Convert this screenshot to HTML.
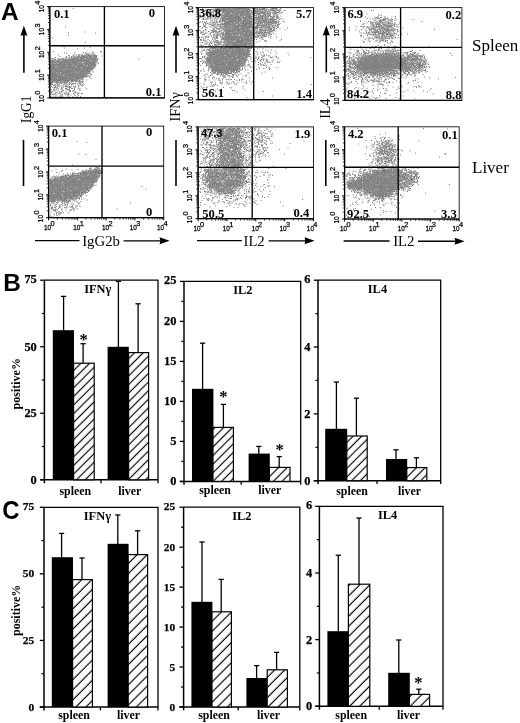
<!DOCTYPE html>
<html lang="en"><head><meta charset="utf-8"><title>Figure</title>
<style>html,body{margin:0;padding:0;background:#fff}svg{display:block}</style></head>
<body>
<svg width="520" height="723" viewBox="0 0 520 723">
<rect width="520" height="723" fill="#fff"/>
<g>
<path transform="scale(0.5)" d="M145 17h2m-17 37h2m37 10h2m-35 1h2m52 1h2m-56 4h2m-34 6h2m64 9h2m-47 8h2m52 2h2m-53 1h2m38 0h2m-16 2h2m-50 5h2m92 0h2m-18 1h2m16 0h2m-55 1h2m15 0h2m3 0h2m13 0h2m-60 1h2m2 0h2m45 0h2m-12 1h2m2 0h2m-27 1h2m23 0h2m1 0h2m1 0h2m3 0h2m1 0h2m-36 1h2m2 0h2m5 0h2m5 0h2m0 0h2m0 0h2m0 0h2m4 0h2m2 0h2m-73 1h2m27 0h2m9 0h2m3 0h2m0 0h3m5 0h2m0 0h2m7 0h3m3 0h3m-55 1h3m7 0h2m10 0h2m2 0h2m3 0h2m0 0h3m3 0h3m0 0h5m0 0h2m0 0h2m1 0h2m0 0h3m0 0h2m-46 1h2m1 0h3m3 0h2m3 0h3m1 0h3m0 0h2m1 0h3m0 0h2m1 0h2m0 0h2m3 0h5m0 0h2m10 0h2m-86 1h2m11 0h2m8 0h2m3 0h3m5 0h4m3 0h4m0 0h6m1 0h4m1 0h6m2 0h2m0 0h4m0 0h2m-63 1h3m4 0h2m3 0h3m1 0h3m2 0h5m2 0h5m0 0h2m0 0h4m0 0h3m0 0h2m0 0h2m1 0h2m2 0h6m1 0h2m-81 1h2m24 0h2m11 0h3m4 0h3m1 0h5m0 0h4m0 0h3m0 0h3m0 0h2m1 0h5m0 0h2m4 0h3m0 0h2m-65 1h2m1 0h2m5 0h6m0 0h4m0 0h3m0 0h3m0 0h3m0 0h2m0 0h6m2 0h3m1 0h4m1 0h2m1 0h3m0 0h2m0 0h3m1 0h2m-88 1h2m2 0h2m7 0h2m6 0h3m15 0h2m1 0h3m0 0h2m2 0h3m1 0h2m2 0h2m0 0h7m3 0h4m1 0h2m1 0h3m0 0h2m0 0h3m0 0h3m0 0h2m2 0h2m-96 1h2m0 0h2m2 0h2m2 0h2m2 0h4m1 0h2m0 0h3m0 0h3m2 0h2m1 0h3m1 0h3m0 0h2m3 0h2m3 0h2m1 0h3m3 0h2m2 0h4m1 0h2m2 0h3m0 0h3m0 0h2m1 0h3m0 0h2m0 0h2m2 0h2m0 0h3m82 0h2m-170 1h3m6 0h2m0 0h3m1 0h3m0 0h3m3 0h3m0 0h2m0 0h6m0 0h2m0 0h8m0 0h3m0 0h2m1 0h5m1 0h3m0 0h6m1 0h5m1 0h2m0 0h4m0 0h2m0 0h2m2 0h2m-91 1h2m0 0h2m7 0h3m5 0h2m1 0h2m1 0h5m1 0h4m1 0h2m1 0h3m0 0h3m0 0h2m0 0h6m0 0h2m0 0h3m0 0h2m0 0h2m1 0h2m0 0h2m0 0h3m1 0h4m0 0h5m2 0h6m-90 1h3m0 0h3m2 0h2m0 0h5m0 0h2m3 0h2m0 0h3m0 0h4m0 0h3m1 0h2m1 0h2m0 0h3m0 0h5m2 0h2m0 0h12m0 0h5m0 0h4m0 0h4m0 0h3m2 0h2m0 0h2m1 0h3m0 0h2m0 0h3m-95 1h3m0 0h3m0 0h2m1 0h3m0 0h2m1 0h2m0 0h4m3 0h2m0 0h6m0 0h4m1 0h4m2 0h3m0 0h6m0 0h8m0 0h2m2 0h5m0 0h4m0 0h5m1 0h3m0 0h2m1 0h2m0 0h3m1 0h2m-92 1h2m0 0h2m0 0h3m0 0h2m3 0h5m2 0h3m0 0h2m1 0h2m0 0h3m0 0h2m1 0h4m1 0h3m0 0h3m0 0h2m1 0h2m0 0h6m0 0h3m0 0h3m0 0h6m1 0h2m0 0h6m3 0h2m1 0h3m0 0h2m2 0h2m-92 1h4m0 0h2m0 0h4m1 0h6m1 0h3m0 0h4m0 0h4m0 0h2m0 0h3m2 0h4m1 0h2m0 0h2m0 0h3m0 0h8m2 0h2m0 0h3m5 0h4m0 0h8m0 0h2m2 0h7m-91 1h3m0 0h2m2 0h6m0 0h2m2 0h2m0 0h3m1 0h2m0 0h3m0 0h2m0 0h5m0 0h2m0 0h3m0 0h2m1 0h8m0 0h2m1 0h2m0 0h2m3 0h2m4 0h2m1 0h4m0 0h3m0 0h2m0 0h4m0 0h2m0 0h4m1 0h2m1 0h2m-93 1h4m0 0h2m1 0h4m0 0h2m0 0h4m0 0h2m1 0h3m0 0h5m0 0h2m1 0h4m0 0h4m1 0h13m3 0h6m1 0h4m0 0h3m0 0h6m0 0h4m3 0h3m0 0h2m0 0h2m-89 1h4m3 0h2m2 0h2m1 0h6m0 0h3m1 0h3m0 0h2m0 0h2m0 0h2m1 0h3m1 0h3m0 0h2m0 0h2m0 0h2m0 0h4m1 0h4m0 0h2m1 0h2m0 0h4m0 0h2m0 0h3m0 0h3m1 0h3m0 0h2m0 0h6m7 0h2m-96 1h4m1 0h3m5 0h2m1 0h4m0 0h2m0 0h2m0 0h2m0 0h2m0 0h2m1 0h3m1 0h4m1 0h2m0 0h2m0 0h3m0 0h2m6 0h4m2 0h2m1 0h4m1 0h2m0 0h2m1 0h2m0 0h2m0 0h7m1 0h2m0 0h2m-91 1h2m0 0h5m0 0h4m0 0h8m0 0h7m0 0h3m0 0h5m1 0h3m0 0h4m0 0h2m2 0h4m0 0h4m0 0h2m1 0h2m0 0h6m3 0h2m0 0h2m0 0h7m1 0h3m0 0h4m0 0h5m-92 1h6m0 0h3m0 0h2m0 0h4m0 0h2m1 0h3m0 0h11m0 0h6m0 0h5m1 0h3m1 0h4m0 0h2m0 0h5m0 0h3m0 0h3m3 0h2m1 0h4m0 0h8m1 0h4m0 0h2m-90 1h4m1 0h5m2 0h2m0 0h3m0 0h2m0 0h3m1 0h5m0 0h2m4 0h3m0 0h2m0 0h4m3 0h2m0 0h2m0 0h2m1 0h7m0 0h4m0 0h2m0 0h6m3 0h3m1 0h2m0 0h4m1 0h3m-87 1h2m4 0h2m0 0h2m0 0h5m0 0h3m0 0h5m0 0h9m0 0h2m0 0h2m2 0h5m0 0h2m0 0h2m1 0h2m0 0h4m1 0h2m2 0h6m1 0h3m0 0h2m1 0h5m1 0h3m1 0h2m0 0h2m0 0h3m-91 1h9m6 0h3m0 0h2m1 0h2m1 0h8m2 0h4m2 0h3m0 0h2m0 0h3m5 0h2m0 0h6m0 0h2m0 0h5m0 0h2m2 0h2m0 0h4m0 0h5m1 0h2m2 0h2m-90 1h6m0 0h4m0 0h3m0 0h4m2 0h5m2 0h6m0 0h7m0 0h10m0 0h5m1 0h2m0 0h2m0 0h3m0 0h10m4 0h3m3 0h3m2 0h3m-87 1h7m1 0h3m0 0h2m0 0h3m0 0h2m0 0h8m1 0h7m0 0h6m0 0h7m0 0h11m2 0h7m0 0h3m0 0h7m1 0h5m0 0h2m-88 1h2m0 0h3m4 0h10m0 0h2m0 0h2m0 0h2m0 0h2m0 0h5m0 0h3m0 0h3m0 0h2m1 0h2m1 0h2m0 0h4m2 0h3m0 0h6m3 0h3m0 0h2m0 0h2m0 0h2m1 0h6m0 0h2m1 0h2m0 0h2m-87 1h11m1 0h3m3 0h3m1 0h3m0 0h5m0 0h2m3 0h3m0 0h4m0 0h3m1 0h5m0 0h3m0 0h2m1 0h4m1 0h3m2 0h3m0 0h2m0 0h3m0 0h4m0 0h4m0 0h2m1 0h2m-88 1h3m1 0h2m0 0h3m5 0h2m0 0h3m0 0h3m0 0h5m0 0h7m0 0h2m0 0h6m1 0h4m4 0h4m1 0h4m1 0h2m0 0h4m2 0h2m2 0h2m0 0h3m0 0h2m1 0h2m0 0h2m-84 1h3m0 0h3m0 0h2m0 0h2m0 0h4m0 0h4m1 0h5m1 0h2m2 0h3m1 0h3m0 0h3m0 0h2m1 0h5m0 0h5m0 0h11m0 0h3m0 0h8m0 0h3m0 0h2m0 0h3m0 0h2m-84 1h2m0 0h3m0 0h4m0 0h5m0 0h4m0 0h4m0 0h2m0 0h3m2 0h2m0 0h2m0 0h4m1 0h3m0 0h10m0 0h3m0 0h3m1 0h8m0 0h6m1 0h2m0 0h3m0 0h4m-83 1h6m1 0h3m0 0h2m1 0h3m0 0h9m3 0h7m0 0h3m0 0h6m0 0h2m2 0h2m1 0h10m3 0h4m3 0h2m0 0h4m1 0h2m-79 1h4m1 0h2m1 0h2m0 0h2m1 0h2m0 0h4m0 0h2m0 0h2m0 0h2m0 0h6m0 0h4m0 0h3m2 0h2m1 0h3m0 0h3m0 0h3m0 0h2m0 0h3m0 0h4m1 0h3m0 0h2m0 0h2m0 0h3m0 0h3m0 0h2m6 0h2m-86 1h2m0 0h2m1 0h2m1 0h5m0 0h2m0 0h3m0 0h9m0 0h2m0 0h5m0 0h7m0 0h2m0 0h3m1 0h3m3 0h2m1 0h2m1 0h13m1 0h7m-80 1h4m0 0h2m0 0h4m2 0h2m0 0h2m0 0h4m2 0h3m0 0h4m1 0h3m1 0h2m1 0h2m0 0h3m0 0h2m0 0h6m0 0h2m0 0h4m0 0h2m2 0h7m2 0h4m1 0h2m1 0h4m3 0h2m-86 1h6m0 0h5m2 0h2m2 0h2m2 0h3m0 0h3m0 0h4m0 0h5m0 0h2m0 0h2m0 0h2m0 0h2m0 0h2m1 0h2m3 0h3m2 0h4m0 0h3m0 0h3m1 0h5m1 0h2m-76 1h2m0 0h2m1 0h3m1 0h8m3 0h4m1 0h3m0 0h2m0 0h5m0 0h5m1 0h3m0 0h3m0 0h2m0 0h4m1 0h2m1 0h3m4 0h2m1 0h4m2 0h3m0 0h2m0 0h2m-80 1h9m0 0h3m1 0h3m0 0h3m1 0h2m0 0h2m0 0h4m0 0h3m0 0h3m1 0h2m0 0h3m1 0h4m1 0h2m0 0h4m1 0h2m0 0h2m1 0h4m1 0h3m0 0h3m0 0h3m0 0h4m0 0h3m-79 1h2m0 0h3m2 0h3m0 0h2m0 0h2m0 0h2m0 0h4m2 0h4m1 0h3m0 0h3m0 0h4m1 0h8m0 0h4m0 0h2m0 0h2m0 0h2m0 0h3m0 0h8m0 0h2m0 0h4m-73 1h2m0 0h5m0 0h4m0 0h2m2 0h3m2 0h6m3 0h5m0 0h7m0 0h7m1 0h6m0 0h3m0 0h7m0 0h2m3 0h4m6 0h3m-83 1h8m0 0h4m0 0h4m1 0h5m1 0h8m0 0h2m0 0h5m0 0h3m0 0h2m0 0h3m0 0h5m1 0h5m0 0h13m4 0h2m3 0h2m-81 1h7m0 0h2m0 0h3m0 0h3m1 0h3m0 0h5m3 0h4m1 0h3m0 0h6m0 0h2m0 0h3m0 0h7m0 0h8m0 0h3m0 0h2m1 0h4m0 0h2m-70 1h4m0 0h13m0 0h6m3 0h5m0 0h7m4 0h6m1 0h2m0 0h3m1 0h5m2 0h2m0 0h2m0 0h4m2 0h2m1 0h2m-80 1h4m0 0h5m0 0h5m0 0h3m0 0h4m1 0h2m0 0h2m0 0h2m0 0h7m1 0h2m0 0h2m1 0h4m0 0h2m0 0h4m1 0h2m0 0h4m0 0h2m0 0h9m1 0h2m1 0h2m3 0h2m-80 1h2m0 0h3m0 0h3m1 0h5m1 0h3m1 0h3m2 0h8m2 0h5m0 0h3m0 0h4m1 0h4m0 0h2m1 0h3m0 0h2m4 0h2m1 0h2m0 0h2m0 0h2m5 0h2m-78 1h2m0 0h3m0 0h6m0 0h3m0 0h8m0 0h3m0 0h4m0 0h4m2 0h4m0 0h2m1 0h5m0 0h7m0 0h3m1 0h2m0 0h2m0 0h4m-67 1h7m0 0h5m1 0h2m0 0h6m0 0h2m0 0h2m0 0h2m0 0h5m1 0h8m1 0h6m2 0h3m0 0h4m0 0h2m0 0h3m2 0h2m-66 1h4m1 0h4m0 0h4m3 0h5m0 0h8m0 0h14m2 0h2m2 0h6m0 0h2m0 0h3m1 0h2m17 0h2m-82 1h2m1 0h6m1 0h3m1 0h2m1 0h4m0 0h2m1 0h4m1 0h3m0 0h2m0 0h2m2 0h10m0 0h3m0 0h5m2 0h2m2 0h2m0 0h2m-66 1h8m0 0h3m0 0h2m0 0h8m0 0h2m0 0h5m0 0h5m2 0h3m0 0h2m0 0h2m0 0h3m0 0h2m0 0h3m1 0h3m0 0h2m6 0h4m-65 1h5m0 0h14m1 0h2m1 0h6m0 0h2m0 0h2m0 0h3m0 0h2m0 0h2m0 0h2m2 0h2m0 0h3m1 0h3m3 0h2m0 0h2m10 0h2m-71 1h2m0 0h6m0 0h2m1 0h9m0 0h2m1 0h4m0 0h4m0 0h3m0 0h4m1 0h5m0 0h3m1 0h4m3 0h2m-59 1h3m0 0h3m0 0h2m1 0h4m0 0h2m0 0h2m2 0h2m0 0h3m0 0h2m0 0h6m0 0h4m0 0h2m2 0h3m0 0h7m0 0h2m0 0h5m6 0h2m-64 1h3m1 0h3m0 0h2m1 0h2m0 0h4m2 0h2m5 0h3m1 0h3m0 0h2m0 0h2m4 0h5m3 0h5m2 0h4m0 0h4m1 0h2m-67 1h5m0 0h2m0 0h2m0 0h3m1 0h2m0 0h2m0 0h3m0 0h3m2 0h2m0 0h4m2 0h2m6 0h2m6 0h2m5 0h2m2 0h2m1 0h2m-65 1h3m0 0h2m5 0h3m1 0h2m4 0h6m1 0h3m2 0h2m3 0h2m19 0h2m3 0h2m-63 1h2m10 0h2m1 0h2m0 0h2m0 0h2m0 0h2m2 0h2m2 0h2m3 0h2m0 0h2m2 0h2m12 0h2m-58 1h4m8 0h3m5 0h2m6 0h2m2 0h2m4 0h2m3 0h3m0 0h2m1 0h2m5 0h2m2 0h2m-62 1h3m7 0h2m14 0h2m14 0h2m1 0h2m2 0h2m1 0h3m3 0h2m2 0h2m1 0h2m-67 1h2m0 0h4m2 0h2m3 0h3m0 0h2m8 0h2m2 0h2m5 0h2m3 0h2m15 0h2m-53 1h2m7 0h2m5 0h2m6 0h2m0 0h2m5 0h2m23 0h2m-62 1h2m0 0h2m12 0h2m6 0h2m23 0h3m3 0h3m-58 1h2m3 0h2m0 0h2m0 0h2m0 0h2m10 0h2m4 0h2m26 0h2m-64 1h2m6 0h2m7 0h2m4 0h2m2 0h3m0 0h3m3 0h2m1 0h2m3 0h2m2 0h2m4 0h2m-24 1h2m1 0h2m9 0h2m-46 1h2m2 0h2m0 0h2m2 0h2m6 0h2m1 0h2m11 0h2m0 0h2m7 0h2m-44 1h2m0 0h2m1 0h2m8 0h2m8 0h2m3 0h3m3 0h2m10 0h2m2 0h2m9 0h2m-57 1h2m5 0h3m5 0h2m0 0h2m8 0h4m2 0h2m7 0h2m-43 1h2m3 0h3m14 0h2m8 0h2m23 0h2m-74 1h2m3 0h2m1 0h2m1 0h2m17 0h2m1 0h3m0 0h2m9 0h2m-27 1h3m9 0h2m21 0h2m0 0h2m-54 1h2m14 0h2m0 0h2m10 0h2m0 0h2m5 0h2m-48 1h2m0 0h2m2 0h2m4 0h2m1 0h2m13 0h2m5 0h2m0 0h2m2 0h2m0 0h2m-27 1h2m0 0h2m15 0h2m-38 1h2m4 0h2m6 0h2m12 0h2m3 0h3m8 0h2m0 0h2m-50 1h2m9 0h2m6 0h2m4 0h2m24 0h2m-53 1h2m7 0h2m22 0h2m13 0h2m5 0h2m-50 1h2m4 0h2m2 0h2m7 0h2m1 0h2m3 0h2m8 0h2m8 0h2m4 0h2m0 0h2m-61 1h2m17 0h2m3 0h2m1 0h2m0 0h2m12 0h2m4 0h2m-53 1h2m0 0h2m2 0h2m12 0h2m11 0h2m-27 1h2m7 0h2m15 0h2m2 0h2m-8 1h2m12 0h2m5 0h2m-52 1h2m3 0h2m7 0h2m0 0h2m1 0h2m4 0h2m-32 1h2m14 0h2m3 0h2m13 0h2m6 0h2m6 0h2m5 0h2m-61 1h2m6 0h2m0 0h2m4 0h2m4 0h3m9 0h2" stroke="#818181" stroke-width="2" fill="none"/>
<rect x="49.8" y="6.6" width="114.7" height="91.3" fill="none" stroke="#111" stroke-width="0.9"/>
<line x1="49.8" y1="6.6" x2="49.8" y2="97.9" stroke="#000" stroke-width="1.3"/>
<line x1="49.8" y1="97.9" x2="164.5" y2="97.9" stroke="#000" stroke-width="1.2"/>
<line x1="104.4" y1="6.6" x2="104.4" y2="97.9" stroke="#000" stroke-width="1.35"/>
<line x1="49.8" y1="45.7" x2="164.5" y2="45.7" stroke="#000" stroke-width="1.35"/>
<line x1="47.2" y1="97.9" x2="49.8" y2="97.9" stroke="#000" stroke-width="1"/>
<line x1="47.9" y1="91.03" x2="49.8" y2="91.03" stroke="#111" stroke-width="0.8"/>
<line x1="47.9" y1="87.01" x2="49.8" y2="87.01" stroke="#111" stroke-width="0.8"/>
<line x1="47.9" y1="84.16" x2="49.8" y2="84.16" stroke="#111" stroke-width="0.8"/>
<line x1="47.9" y1="81.95" x2="49.8" y2="81.95" stroke="#111" stroke-width="0.8"/>
<line x1="47.9" y1="80.14" x2="49.8" y2="80.14" stroke="#111" stroke-width="0.8"/>
<line x1="47.9" y1="78.61" x2="49.8" y2="78.61" stroke="#111" stroke-width="0.8"/>
<line x1="47.9" y1="77.29" x2="49.8" y2="77.29" stroke="#111" stroke-width="0.8"/>
<line x1="47.9" y1="76.12" x2="49.8" y2="76.12" stroke="#111" stroke-width="0.8"/>
<g transform="translate(44 96.6) rotate(-90)">
<text transform="translate(-5.75 0) scale(0.82 1)" font-family='"Liberation Sans","DejaVu Sans",sans-serif' font-size="7.8" stroke="#000" stroke-width="0.25">10</text>
<text x="1.9" y="-4" font-family='"Liberation Sans","DejaVu Sans",sans-serif' font-size="7.4" stroke="#000" stroke-width="0.25">0</text>
</g>
<line x1="47.2" y1="75.08" x2="49.8" y2="75.08" stroke="#000" stroke-width="1"/>
<line x1="47.9" y1="68.2" x2="49.8" y2="68.2" stroke="#111" stroke-width="0.8"/>
<line x1="47.9" y1="64.18" x2="49.8" y2="64.18" stroke="#111" stroke-width="0.8"/>
<line x1="47.9" y1="61.33" x2="49.8" y2="61.33" stroke="#111" stroke-width="0.8"/>
<line x1="47.9" y1="59.12" x2="49.8" y2="59.12" stroke="#111" stroke-width="0.8"/>
<line x1="47.9" y1="57.31" x2="49.8" y2="57.31" stroke="#111" stroke-width="0.8"/>
<line x1="47.9" y1="55.79" x2="49.8" y2="55.79" stroke="#111" stroke-width="0.8"/>
<line x1="47.9" y1="54.46" x2="49.8" y2="54.46" stroke="#111" stroke-width="0.8"/>
<line x1="47.9" y1="53.29" x2="49.8" y2="53.29" stroke="#111" stroke-width="0.8"/>
<g transform="translate(44 75.08) rotate(-90)">
<text transform="translate(-5.75 0) scale(0.82 1)" font-family='"Liberation Sans","DejaVu Sans",sans-serif' font-size="7.8" stroke="#000" stroke-width="0.25">10</text>
<text x="1.9" y="-4" font-family='"Liberation Sans","DejaVu Sans",sans-serif' font-size="7.4" stroke="#000" stroke-width="0.25">1</text>
</g>
<line x1="47.2" y1="52.25" x2="49.8" y2="52.25" stroke="#000" stroke-width="1"/>
<line x1="47.9" y1="45.38" x2="49.8" y2="45.38" stroke="#111" stroke-width="0.8"/>
<line x1="47.9" y1="41.36" x2="49.8" y2="41.36" stroke="#111" stroke-width="0.8"/>
<line x1="47.9" y1="38.51" x2="49.8" y2="38.51" stroke="#111" stroke-width="0.8"/>
<line x1="47.9" y1="36.3" x2="49.8" y2="36.3" stroke="#111" stroke-width="0.8"/>
<line x1="47.9" y1="34.49" x2="49.8" y2="34.49" stroke="#111" stroke-width="0.8"/>
<line x1="47.9" y1="32.96" x2="49.8" y2="32.96" stroke="#111" stroke-width="0.8"/>
<line x1="47.9" y1="31.64" x2="49.8" y2="31.64" stroke="#111" stroke-width="0.8"/>
<line x1="47.9" y1="30.47" x2="49.8" y2="30.47" stroke="#111" stroke-width="0.8"/>
<g transform="translate(44 52.25) rotate(-90)">
<text transform="translate(-5.75 0) scale(0.82 1)" font-family='"Liberation Sans","DejaVu Sans",sans-serif' font-size="7.8" stroke="#000" stroke-width="0.25">10</text>
<text x="1.9" y="-4" font-family='"Liberation Sans","DejaVu Sans",sans-serif' font-size="7.4" stroke="#000" stroke-width="0.25">2</text>
</g>
<line x1="47.2" y1="29.42" x2="49.8" y2="29.42" stroke="#000" stroke-width="1"/>
<line x1="47.9" y1="22.55" x2="49.8" y2="22.55" stroke="#111" stroke-width="0.8"/>
<line x1="47.9" y1="18.53" x2="49.8" y2="18.53" stroke="#111" stroke-width="0.8"/>
<line x1="47.9" y1="15.68" x2="49.8" y2="15.68" stroke="#111" stroke-width="0.8"/>
<line x1="47.9" y1="13.47" x2="49.8" y2="13.47" stroke="#111" stroke-width="0.8"/>
<line x1="47.9" y1="11.66" x2="49.8" y2="11.66" stroke="#111" stroke-width="0.8"/>
<line x1="47.9" y1="10.14" x2="49.8" y2="10.14" stroke="#111" stroke-width="0.8"/>
<line x1="47.9" y1="8.81" x2="49.8" y2="8.81" stroke="#111" stroke-width="0.8"/>
<line x1="47.9" y1="7.64" x2="49.8" y2="7.64" stroke="#111" stroke-width="0.8"/>
<g transform="translate(44 29.42) rotate(-90)">
<text transform="translate(-5.75 0) scale(0.82 1)" font-family='"Liberation Sans","DejaVu Sans",sans-serif' font-size="7.8" stroke="#000" stroke-width="0.25">10</text>
<text x="1.9" y="-4" font-family='"Liberation Sans","DejaVu Sans",sans-serif' font-size="7.4" stroke="#000" stroke-width="0.25">3</text>
</g>
<line x1="47.2" y1="6.6" x2="49.8" y2="6.6" stroke="#000" stroke-width="1"/>
<g transform="translate(44 6.6) rotate(-90)">
<text transform="translate(-5.75 0) scale(0.82 1)" font-family='"Liberation Sans","DejaVu Sans",sans-serif' font-size="7.8" stroke="#000" stroke-width="0.25">10</text>
<text x="1.9" y="-4" font-family='"Liberation Sans","DejaVu Sans",sans-serif' font-size="7.4" stroke="#000" stroke-width="0.25">4</text>
</g>
<text x="53.9" y="17.8" font-family='"Liberation Serif","DejaVu Serif",serif' font-size="12.6" font-weight="bold" text-anchor="start" fill="#000">0.1</text>
<text x="155" y="16.5" font-family='"Liberation Serif","DejaVu Serif",serif' font-size="12.6" font-weight="bold" text-anchor="end" fill="#000">0</text>
<text x="161.5" y="95.6" font-family='"Liberation Serif","DejaVu Serif",serif' font-size="12.6" font-weight="bold" text-anchor="end" fill="#000">0.1</text>
</g>
<g>
<path transform="scale(0.5)" d="M153 283h2m18 2h2m-18 23h2m12 1h2m18 10h2m-49 11h2m35 4h2m10 0h2m-3 1h2m2 0h2m-9 1h2m0 0h2m0 0h2m2 0h2m-21 1h2m1 0h2m12 0h3m4 0h2m-73 1h2m48 0h2m6 0h2m3 0h4m1 0h2m-90 1h2m42 0h2m22 0h2m7 0h2m0 0h4m4 0h2m-57 1h2m24 0h2m1 0h2m4 0h3m2 0h2m1 0h2m0 0h2m1 0h3m0 0h3m2 0h2m3 0h2m-82 1h2m37 0h2m7 0h2m2 0h3m0 0h2m2 0h2m0 0h2m2 0h2m0 0h4m0 0h7m-99 1h2m61 0h2m3 0h5m1 0h2m0 0h2m0 0h3m0 0h2m0 0h2m0 0h2m0 0h2m1 0h2m0 0h4m2 0h3m-82 1h2m40 0h2m0 0h3m1 0h3m3 0h2m2 0h4m0 0h6m0 0h9m2 0h2m-40 1h2m4 0h2m3 0h2m5 0h5m1 0h3m0 0h5m0 0h3m3 0h2m0 0h2m-93 1h2m31 0h2m12 0h3m2 0h2m0 0h4m0 0h4m0 0h8m0 0h2m1 0h5m0 0h2m0 0h6m0 0h3m0 0h2m1 0h2m-89 1h2m26 0h2m9 0h2m3 0h2m1 0h3m0 0h2m1 0h2m2 0h4m0 0h3m0 0h2m4 0h10m0 0h5m-68 1h2m9 0h2m1 0h2m1 0h2m2 0h3m1 0h4m0 0h9m0 0h4m2 0h3m0 0h5m1 0h5m1 0h3m0 0h2m0 0h2m0 0h4m-78 1h2m12 0h2m2 0h2m3 0h4m1 0h4m2 0h4m0 0h2m0 0h7m0 0h2m0 0h4m0 0h3m0 0h2m1 0h2m0 0h2m0 0h2m0 0h2m0 0h2m0 0h2m-57 1h2m2 0h2m0 0h2m12 0h3m1 0h3m1 0h6m5 0h6m0 0h3m2 0h3m0 0h2m2 0h2m-70 1h3m2 0h4m3 0h2m1 0h2m0 0h2m2 0h2m1 0h2m0 0h2m0 0h3m0 0h2m0 0h5m2 0h2m0 0h2m0 0h2m0 0h2m0 0h2m0 0h2m0 0h9m0 0h4m1 0h3m1 0h2m-76 1h2m2 0h2m0 0h3m0 0h4m4 0h2m0 0h3m1 0h2m1 0h3m0 0h7m2 0h2m0 0h6m0 0h3m1 0h2m1 0h3m1 0h3m1 0h7m0 0h2m1 0h2m0 0h2m-92 1h2m2 0h2m2 0h2m3 0h2m15 0h4m5 0h5m2 0h5m0 0h2m1 0h2m0 0h5m0 0h3m3 0h6m0 0h2m0 0h10m0 0h2m1 0h2m-89 1h2m8 0h2m1 0h6m1 0h5m3 0h2m1 0h2m0 0h5m0 0h2m0 0h2m0 0h2m1 0h2m2 0h3m0 0h4m2 0h2m0 0h2m0 0h2m0 0h8m0 0h2m1 0h8m0 0h4m1 0h3m-97 1h3m0 0h3m0 0h2m3 0h2m5 0h6m1 0h3m4 0h5m0 0h4m0 0h3m4 0h3m2 0h3m1 0h5m0 0h2m0 0h14m0 0h2m0 0h3m0 0h5m0 0h8m-88 1h2m4 0h2m1 0h2m0 0h2m0 0h3m3 0h2m1 0h2m0 0h3m0 0h2m0 0h2m0 0h3m1 0h3m0 0h3m0 0h3m0 0h7m0 0h5m0 0h14m1 0h4m0 0h5m0 0h3m-91 1h2m6 0h4m0 0h2m1 0h2m3 0h3m0 0h4m0 0h2m0 0h5m1 0h3m0 0h2m0 0h13m0 0h3m0 0h2m0 0h10m0 0h2m0 0h13m0 0h2m1 0h7m0 0h2m-97 1h2m5 0h4m0 0h2m2 0h4m0 0h4m1 0h2m1 0h2m2 0h8m0 0h2m3 0h4m0 0h2m2 0h5m1 0h3m0 0h2m1 0h5m0 0h6m0 0h8m0 0h2m0 0h2m0 0h4m0 0h2m-94 1h3m0 0h3m1 0h4m2 0h2m4 0h4m0 0h2m0 0h2m0 0h2m1 0h3m1 0h6m2 0h2m0 0h2m0 0h4m1 0h3m0 0h2m0 0h2m2 0h3m0 0h2m0 0h2m0 0h6m0 0h6m0 0h5m0 0h2m0 0h2m0 0h3m0 0h2m0 0h3m-96 1h2m4 0h4m0 0h3m0 0h3m0 0h2m3 0h8m0 0h4m0 0h3m0 0h3m0 0h2m0 0h9m0 0h4m2 0h2m2 0h3m0 0h7m1 0h5m0 0h2m0 0h2m0 0h3m0 0h3m0 0h2m1 0h2m0 0h2m-92 1h2m5 0h3m1 0h7m1 0h9m0 0h9m1 0h3m0 0h3m0 0h5m1 0h3m1 0h7m0 0h2m0 0h6m1 0h2m0 0h2m0 0h4m0 0h3m0 0h5m3 0h2m0 0h3m-96 1h3m0 0h4m0 0h6m1 0h5m1 0h5m1 0h4m0 0h3m1 0h3m0 0h2m1 0h3m1 0h3m0 0h9m2 0h4m0 0h5m0 0h4m1 0h2m0 0h2m3 0h3m0 0h2m0 0h10m0 0h3m-97 1h2m0 0h2m1 0h4m2 0h2m0 0h5m1 0h3m1 0h2m0 0h2m0 0h2m1 0h6m0 0h3m0 0h2m0 0h2m0 0h2m1 0h4m1 0h4m0 0h2m0 0h3m3 0h6m1 0h9m0 0h4m1 0h2m2 0h3m0 0h2m0 0h2m-94 1h6m2 0h3m0 0h2m1 0h2m1 0h3m0 0h5m1 0h3m0 0h6m0 0h2m1 0h4m0 0h4m0 0h2m0 0h5m0 0h2m0 0h8m0 0h6m1 0h2m1 0h12m0 0h2m0 0h2m0 0h2m1 0h2m-95 1h2m0 0h3m0 0h3m2 0h3m0 0h2m0 0h4m0 0h5m3 0h4m0 0h4m1 0h2m0 0h2m1 0h2m0 0h2m0 0h3m0 0h3m0 0h5m0 0h5m0 0h9m0 0h3m0 0h7m0 0h4m0 0h3m0 0h2m0 0h2m0 0h2m0 0h2m-94 1h2m0 0h2m0 0h3m0 0h2m0 0h3m1 0h4m1 0h3m1 0h3m3 0h2m0 0h2m1 0h4m1 0h5m0 0h3m0 0h2m0 0h5m1 0h5m0 0h2m0 0h8m0 0h2m1 0h4m0 0h2m0 0h3m0 0h2m0 0h5m0 0h2m-91 1h2m0 0h3m0 0h2m0 0h3m0 0h2m1 0h3m0 0h2m2 0h5m1 0h4m0 0h4m0 0h2m2 0h2m0 0h4m0 0h2m0 0h3m0 0h2m0 0h2m0 0h2m0 0h2m2 0h3m0 0h2m0 0h2m1 0h8m1 0h2m0 0h3m0 0h4m0 0h5m-90 1h3m1 0h3m3 0h3m0 0h2m0 0h3m1 0h4m3 0h3m1 0h2m0 0h3m0 0h6m1 0h4m1 0h3m0 0h5m1 0h2m1 0h2m0 0h3m0 0h2m1 0h3m1 0h3m0 0h2m0 0h3m3 0h3m0 0h2m-86 1h2m0 0h2m0 0h6m1 0h4m0 0h3m0 0h2m0 0h4m0 0h12m0 0h6m1 0h2m1 0h3m2 0h3m0 0h9m0 0h3m0 0h2m1 0h6m0 0h4m3 0h3m0 0h2m-88 1h6m1 0h7m0 0h3m0 0h2m1 0h3m0 0h2m0 0h2m2 0h2m0 0h2m0 0h7m0 0h2m1 0h6m0 0h4m1 0h2m0 0h2m0 0h7m2 0h2m0 0h3m1 0h3m2 0h3m1 0h3m0 0h3m-87 1h3m0 0h3m0 0h3m0 0h2m0 0h2m0 0h3m2 0h6m0 0h2m0 0h12m0 0h4m3 0h4m0 0h6m0 0h5m0 0h2m1 0h6m0 0h5m0 0h3m0 0h2m0 0h3m0 0h5m4 0h2m-93 1h9m0 0h6m0 0h2m0 0h5m2 0h3m1 0h7m0 0h6m0 0h6m1 0h3m1 0h6m0 0h4m0 0h2m0 0h2m2 0h10m0 0h2m1 0h4m3 0h2m-91 1h9m1 0h3m0 0h3m0 0h8m4 0h4m0 0h2m0 0h2m0 0h2m0 0h6m1 0h2m0 0h6m0 0h2m0 0h4m0 0h2m0 0h2m0 0h2m0 0h2m1 0h3m0 0h3m1 0h2m0 0h3m1 0h4m1 0h2m-88 1h4m0 0h2m0 0h3m0 0h3m1 0h2m0 0h4m0 0h3m0 0h5m0 0h3m1 0h2m0 0h2m1 0h4m2 0h2m2 0h4m0 0h2m0 0h2m0 0h5m1 0h6m2 0h2m1 0h2m1 0h3m3 0h2m0 0h2m1 0h2m97 0h2m-185 1h5m0 0h9m0 0h2m0 0h2m0 0h4m1 0h5m0 0h6m0 0h9m0 0h3m0 0h2m0 0h6m0 0h4m0 0h2m0 0h2m1 0h2m0 0h2m0 0h2m0 0h6m3 0h4m0 0h2m-85 1h2m2 0h3m0 0h4m1 0h3m0 0h3m0 0h3m0 0h2m2 0h15m0 0h5m1 0h6m0 0h2m4 0h6m2 0h4m1 0h10m1 0h2m-84 1h2m2 0h4m0 0h2m5 0h6m0 0h2m0 0h7m2 0h4m3 0h3m2 0h6m1 0h3m0 0h2m1 0h3m0 0h2m0 0h5m1 0h5m1 0h2m1 0h2m1 0h2m0 0h3m-85 1h3m0 0h4m0 0h3m0 0h3m1 0h2m0 0h2m0 0h4m0 0h3m0 0h3m2 0h5m2 0h4m0 0h6m0 0h3m2 0h2m1 0h5m0 0h5m1 0h3m0 0h6m0 0h3m3 0h2m-83 1h8m0 0h3m0 0h3m0 0h2m0 0h5m0 0h14m1 0h2m0 0h3m1 0h3m1 0h3m0 0h5m0 0h2m2 0h4m1 0h5m0 0h3m2 0h2m0 0h2m0 0h4m111 0h2m-193 1h3m1 0h3m2 0h5m0 0h3m0 0h3m0 0h10m0 0h4m0 0h2m1 0h8m0 0h3m0 0h2m3 0h3m0 0h3m1 0h2m0 0h2m0 0h2m1 0h2m1 0h3m1 0h3m-78 1h2m0 0h3m0 0h5m0 0h3m1 0h2m0 0h2m1 0h5m2 0h2m1 0h5m2 0h3m3 0h5m0 0h4m0 0h4m0 0h8m1 0h2m0 0h3m1 0h2m0 0h2m0 0h2m3 0h3m-80 1h2m0 0h3m0 0h5m0 0h2m1 0h5m0 0h5m2 0h6m0 0h2m2 0h2m3 0h2m0 0h2m0 0h3m0 0h8m0 0h2m0 0h3m2 0h4m0 0h2m0 0h2m3 0h5m-80 1h4m0 0h2m0 0h3m0 0h2m0 0h4m0 0h3m1 0h3m0 0h3m0 0h3m1 0h3m1 0h5m0 0h7m0 0h3m1 0h2m0 0h7m2 0h2m0 0h3m0 0h2m2 0h3m0 0h2m0 0h2m-76 1h6m0 0h2m1 0h4m0 0h4m1 0h5m1 0h3m3 0h2m0 0h10m3 0h5m0 0h3m0 0h6m0 0h3m0 0h2m2 0h2m0 0h3m1 0h2m3 0h2m-79 1h3m1 0h4m0 0h4m0 0h6m0 0h2m0 0h2m2 0h4m3 0h2m0 0h7m0 0h2m0 0h4m2 0h2m0 0h4m1 0h4m0 0h2m1 0h2m0 0h2m0 0h3m0 0h4m-72 1h5m0 0h2m1 0h2m0 0h2m1 0h3m0 0h2m0 0h3m1 0h5m0 0h2m0 0h3m0 0h7m0 0h3m0 0h2m0 0h8m0 0h6m0 0h3m1 0h2m0 0h2m0 0h4m1 0h3m0 0h2m-77 1h2m1 0h3m0 0h3m3 0h3m0 0h2m0 0h3m1 0h3m1 0h3m1 0h3m0 0h2m2 0h3m1 0h3m0 0h2m0 0h11m0 0h7m2 0h2m-67 1h5m0 0h2m4 0h12m0 0h3m1 0h4m0 0h3m0 0h3m1 0h2m0 0h3m0 0h11m0 0h4m0 0h3m1 0h4m0 0h2m2 0h3m-72 1h4m1 0h4m0 0h2m0 0h8m0 0h2m0 0h2m0 0h3m0 0h2m0 0h2m0 0h4m0 0h7m1 0h4m0 0h2m0 0h4m1 0h2m0 0h3m4 0h2m0 0h2m-65 1h4m0 0h3m0 0h3m0 0h4m0 0h3m2 0h2m4 0h2m0 0h5m0 0h4m0 0h5m4 0h3m0 0h2m0 0h2m3 0h2m0 0h2m2 0h2m2 0h2m-68 1h4m1 0h2m0 0h2m0 0h2m0 0h2m0 0h4m0 0h2m0 0h16m0 0h2m1 0h3m2 0h6m3 0h2m0 0h3m1 0h2m0 0h2m-63 1h3m0 0h7m0 0h2m0 0h2m0 0h2m0 0h3m0 0h3m0 0h2m3 0h10m1 0h3m0 0h2m1 0h3m0 0h11m0 0h2m1 0h3m0 0h2m7 0h2m-75 1h2m0 0h2m0 0h4m0 0h4m0 0h2m0 0h8m0 0h4m1 0h5m2 0h3m0 0h2m3 0h2m0 0h3m1 0h4m1 0h2m0 0h2m-57 1h4m0 0h8m0 0h6m0 0h3m0 0h2m0 0h3m2 0h2m0 0h2m0 0h3m2 0h3m0 0h5m1 0h7m0 0h2m1 0h2m3 0h4m-65 1h2m2 0h4m0 0h2m0 0h6m0 0h5m0 0h5m0 0h2m0 0h4m1 0h2m0 0h6m0 0h3m0 0h4m0 0h2m0 0h2m0 0h4m3 0h2m2 0h2m-65 1h2m0 0h2m0 0h12m0 0h2m1 0h2m0 0h4m3 0h7m0 0h3m0 0h2m0 0h5m1 0h2m1 0h2m2 0h3m2 0h2m-59 1h2m0 0h6m0 0h3m0 0h4m0 0h2m0 0h9m1 0h3m1 0h2m0 0h3m1 0h2m0 0h3m0 0h5m1 0h2m3 0h2m-56 1h3m0 0h9m0 0h2m0 0h3m1 0h2m0 0h4m0 0h4m0 0h8m1 0h2m1 0h4m2 0h2m4 0h2m0 0h2m1 0h2m0 0h2m-61 1h3m1 0h3m0 0h3m2 0h2m1 0h4m1 0h2m0 0h2m0 0h2m1 0h3m1 0h4m4 0h3m1 0h2m0 0h3m0 0h2m1 0h2m0 0h2m4 0h2m2 0h2m3 0h2m-67 1h2m0 0h3m0 0h2m0 0h3m2 0h2m1 0h2m0 0h6m0 0h2m1 0h3m0 0h2m0 0h2m2 0h2m0 0h2m2 0h2m0 0h2m-48 1h3m2 0h3m0 0h4m0 0h2m0 0h6m0 0h3m0 0h3m1 0h2m0 0h2m0 0h4m15 0h3m21 0h2m-73 1h3m0 0h6m2 0h2m0 0h2m0 0h2m4 0h3m0 0h2m0 0h2m2 0h2m1 0h2m0 0h4m4 0h2m-48 1h3m0 0h3m0 0h2m3 0h2m3 0h2m9 0h2m1 0h4m3 0h2m2 0h2m6 0h2m-49 1h3m0 0h2m1 0h2m0 0h2m6 0h2m2 0h2m1 0h2m2 0h2m1 0h4m1 0h3m13 0h3m5 0h2m-60 1h2m2 0h3m13 0h2m0 0h2m1 0h2m2 0h2m1 0h3m-32 1h2m5 0h3m0 0h2m16 0h2m1 0h2m5 0h2m-43 1h2m4 0h2m4 0h2m12 0h2m5 0h2m18 0h2m0 0h2m101 0h2m-157 1h2m17 0h2m2 0h2m27 0h2m-59 1h2m31 0h2m6 0h2m3 0h2m-39 1h2m0 0h3m7 0h2m7 0h2m1 0h2m-35 1h2m16 0h2m5 0h2m2 0h2m3 0h2m8 0h2m11 0h2m-50 1h2m18 0h2m20 0h2m-53 1h2m1 0h3m11 0h4m3 0h2m18 0h2m7 0h3m-44 1h2m6 0h2m10 0h2m8 0h2m15 0h2m-51 1h2m8 0h2m17 0h3m0 0h2m0 0h2m4 0h2m-50 1h2m0 0h2m2 0h2m8 0h2m8 0h2m3 0h2m10 0h2m-43 1h2m4 0h2m18 0h3m18 0h2m-51 1h3m11 0h2m27 0h2m-46 1h2m8 0h2m9 0h3m20 0h2m1 0h2m4 0h2m77 0h2m-132 1h2m1 0h2m3 0h2m9 0h2m17 0h2m4 0h2m-40 1h2m3 0h2m15 0h2m7 0h2m0 0h2m-38 1h2m0 0h2m0 0h2m35 0h2m-40 1h2m13 0h2m12 0h2m-29 1h2m4 0h2m-18 1h2m12 1h2m2 0h2m1 0h2m2 0h2m-16 1h2m7 0h2m13 0h2m-26 1h2m6 0h2m-15 1h2m7 0h2m0 0h3m179 1h2m-202 1h2m6 0h2m2 0h2m3 0h2m-6 1h2m-16 2h2m2 0h2" stroke="#818181" stroke-width="2" fill="none"/>
<rect x="48.6" y="126.1" width="115.1" height="91.6" fill="none" stroke="#111" stroke-width="0.9"/>
<line x1="48.6" y1="126.1" x2="48.6" y2="217.7" stroke="#000" stroke-width="1.3"/>
<line x1="48.6" y1="217.7" x2="163.7" y2="217.7" stroke="#000" stroke-width="1.2"/>
<line x1="102" y1="126.1" x2="102" y2="217.7" stroke="#000" stroke-width="1.35"/>
<line x1="48.6" y1="166.1" x2="163.7" y2="166.1" stroke="#000" stroke-width="1.35"/>
<line x1="46" y1="217.7" x2="48.6" y2="217.7" stroke="#000" stroke-width="1"/>
<line x1="46.7" y1="210.81" x2="48.6" y2="210.81" stroke="#111" stroke-width="0.8"/>
<line x1="46.7" y1="206.77" x2="48.6" y2="206.77" stroke="#111" stroke-width="0.8"/>
<line x1="46.7" y1="203.91" x2="48.6" y2="203.91" stroke="#111" stroke-width="0.8"/>
<line x1="46.7" y1="201.69" x2="48.6" y2="201.69" stroke="#111" stroke-width="0.8"/>
<line x1="46.7" y1="199.88" x2="48.6" y2="199.88" stroke="#111" stroke-width="0.8"/>
<line x1="46.7" y1="198.35" x2="48.6" y2="198.35" stroke="#111" stroke-width="0.8"/>
<line x1="46.7" y1="197.02" x2="48.6" y2="197.02" stroke="#111" stroke-width="0.8"/>
<line x1="46.7" y1="195.85" x2="48.6" y2="195.85" stroke="#111" stroke-width="0.8"/>
<g transform="translate(42.8 216.4) rotate(-90)">
<text transform="translate(-5.75 0) scale(0.82 1)" font-family='"Liberation Sans","DejaVu Sans",sans-serif' font-size="7.8" stroke="#000" stroke-width="0.25">10</text>
<text x="1.9" y="-4" font-family='"Liberation Sans","DejaVu Sans",sans-serif' font-size="7.4" stroke="#000" stroke-width="0.25">0</text>
</g>
<line x1="46" y1="194.8" x2="48.6" y2="194.8" stroke="#000" stroke-width="1"/>
<line x1="46.7" y1="187.91" x2="48.6" y2="187.91" stroke="#111" stroke-width="0.8"/>
<line x1="46.7" y1="183.87" x2="48.6" y2="183.87" stroke="#111" stroke-width="0.8"/>
<line x1="46.7" y1="181.01" x2="48.6" y2="181.01" stroke="#111" stroke-width="0.8"/>
<line x1="46.7" y1="178.79" x2="48.6" y2="178.79" stroke="#111" stroke-width="0.8"/>
<line x1="46.7" y1="176.98" x2="48.6" y2="176.98" stroke="#111" stroke-width="0.8"/>
<line x1="46.7" y1="175.45" x2="48.6" y2="175.45" stroke="#111" stroke-width="0.8"/>
<line x1="46.7" y1="174.12" x2="48.6" y2="174.12" stroke="#111" stroke-width="0.8"/>
<line x1="46.7" y1="172.95" x2="48.6" y2="172.95" stroke="#111" stroke-width="0.8"/>
<g transform="translate(42.8 194.8) rotate(-90)">
<text transform="translate(-5.75 0) scale(0.82 1)" font-family='"Liberation Sans","DejaVu Sans",sans-serif' font-size="7.8" stroke="#000" stroke-width="0.25">10</text>
<text x="1.9" y="-4" font-family='"Liberation Sans","DejaVu Sans",sans-serif' font-size="7.4" stroke="#000" stroke-width="0.25">1</text>
</g>
<line x1="46" y1="171.9" x2="48.6" y2="171.9" stroke="#000" stroke-width="1"/>
<line x1="46.7" y1="165.01" x2="48.6" y2="165.01" stroke="#111" stroke-width="0.8"/>
<line x1="46.7" y1="160.97" x2="48.6" y2="160.97" stroke="#111" stroke-width="0.8"/>
<line x1="46.7" y1="158.11" x2="48.6" y2="158.11" stroke="#111" stroke-width="0.8"/>
<line x1="46.7" y1="155.89" x2="48.6" y2="155.89" stroke="#111" stroke-width="0.8"/>
<line x1="46.7" y1="154.08" x2="48.6" y2="154.08" stroke="#111" stroke-width="0.8"/>
<line x1="46.7" y1="152.55" x2="48.6" y2="152.55" stroke="#111" stroke-width="0.8"/>
<line x1="46.7" y1="151.22" x2="48.6" y2="151.22" stroke="#111" stroke-width="0.8"/>
<line x1="46.7" y1="150.05" x2="48.6" y2="150.05" stroke="#111" stroke-width="0.8"/>
<g transform="translate(42.8 171.9) rotate(-90)">
<text transform="translate(-5.75 0) scale(0.82 1)" font-family='"Liberation Sans","DejaVu Sans",sans-serif' font-size="7.8" stroke="#000" stroke-width="0.25">10</text>
<text x="1.9" y="-4" font-family='"Liberation Sans","DejaVu Sans",sans-serif' font-size="7.4" stroke="#000" stroke-width="0.25">2</text>
</g>
<line x1="46" y1="149" x2="48.6" y2="149" stroke="#000" stroke-width="1"/>
<line x1="46.7" y1="142.11" x2="48.6" y2="142.11" stroke="#111" stroke-width="0.8"/>
<line x1="46.7" y1="138.07" x2="48.6" y2="138.07" stroke="#111" stroke-width="0.8"/>
<line x1="46.7" y1="135.21" x2="48.6" y2="135.21" stroke="#111" stroke-width="0.8"/>
<line x1="46.7" y1="132.99" x2="48.6" y2="132.99" stroke="#111" stroke-width="0.8"/>
<line x1="46.7" y1="131.18" x2="48.6" y2="131.18" stroke="#111" stroke-width="0.8"/>
<line x1="46.7" y1="129.65" x2="48.6" y2="129.65" stroke="#111" stroke-width="0.8"/>
<line x1="46.7" y1="128.32" x2="48.6" y2="128.32" stroke="#111" stroke-width="0.8"/>
<line x1="46.7" y1="127.15" x2="48.6" y2="127.15" stroke="#111" stroke-width="0.8"/>
<g transform="translate(42.8 149) rotate(-90)">
<text transform="translate(-5.75 0) scale(0.82 1)" font-family='"Liberation Sans","DejaVu Sans",sans-serif' font-size="7.8" stroke="#000" stroke-width="0.25">10</text>
<text x="1.9" y="-4" font-family='"Liberation Sans","DejaVu Sans",sans-serif' font-size="7.4" stroke="#000" stroke-width="0.25">3</text>
</g>
<line x1="46" y1="126.1" x2="48.6" y2="126.1" stroke="#000" stroke-width="1"/>
<g transform="translate(42.8 126.1) rotate(-90)">
<text transform="translate(-5.75 0) scale(0.82 1)" font-family='"Liberation Sans","DejaVu Sans",sans-serif' font-size="7.8" stroke="#000" stroke-width="0.25">10</text>
<text x="1.9" y="-4" font-family='"Liberation Sans","DejaVu Sans",sans-serif' font-size="7.4" stroke="#000" stroke-width="0.25">4</text>
</g>
<line x1="48.6" y1="217.7" x2="48.6" y2="220.3" stroke="#000" stroke-width="1"/>
<line x1="57.26" y1="217.7" x2="57.26" y2="219.6" stroke="#111" stroke-width="0.8"/>
<line x1="62.33" y1="217.7" x2="62.33" y2="219.6" stroke="#111" stroke-width="0.8"/>
<line x1="65.92" y1="217.7" x2="65.92" y2="219.6" stroke="#111" stroke-width="0.8"/>
<line x1="68.71" y1="217.7" x2="68.71" y2="219.6" stroke="#111" stroke-width="0.8"/>
<line x1="70.99" y1="217.7" x2="70.99" y2="219.6" stroke="#111" stroke-width="0.8"/>
<line x1="72.92" y1="217.7" x2="72.92" y2="219.6" stroke="#111" stroke-width="0.8"/>
<line x1="74.59" y1="217.7" x2="74.59" y2="219.6" stroke="#111" stroke-width="0.8"/>
<line x1="76.06" y1="217.7" x2="76.06" y2="219.6" stroke="#111" stroke-width="0.8"/>
<g transform="translate(47.8 229.9)">
<text transform="translate(-3.85 0) scale(0.82 1)" font-family='"Liberation Sans","DejaVu Sans",sans-serif' font-size="7.8" stroke="#000" stroke-width="0.25">10</text>
<text x="2.6" y="-3.8" font-family='"Liberation Sans","DejaVu Sans",sans-serif' font-size="7.4" stroke="#000" stroke-width="0.25">0</text>
</g>
<line x1="77.38" y1="217.7" x2="77.38" y2="220.3" stroke="#000" stroke-width="1"/>
<line x1="86.04" y1="217.7" x2="86.04" y2="219.6" stroke="#111" stroke-width="0.8"/>
<line x1="91.1" y1="217.7" x2="91.1" y2="219.6" stroke="#111" stroke-width="0.8"/>
<line x1="94.7" y1="217.7" x2="94.7" y2="219.6" stroke="#111" stroke-width="0.8"/>
<line x1="97.49" y1="217.7" x2="97.49" y2="219.6" stroke="#111" stroke-width="0.8"/>
<line x1="99.77" y1="217.7" x2="99.77" y2="219.6" stroke="#111" stroke-width="0.8"/>
<line x1="101.69" y1="217.7" x2="101.69" y2="219.6" stroke="#111" stroke-width="0.8"/>
<line x1="103.36" y1="217.7" x2="103.36" y2="219.6" stroke="#111" stroke-width="0.8"/>
<line x1="104.83" y1="217.7" x2="104.83" y2="219.6" stroke="#111" stroke-width="0.8"/>
<g transform="translate(77.08 229.9)">
<text transform="translate(-3.85 0) scale(0.82 1)" font-family='"Liberation Sans","DejaVu Sans",sans-serif' font-size="7.8" stroke="#000" stroke-width="0.25">10</text>
<text x="2.6" y="-3.8" font-family='"Liberation Sans","DejaVu Sans",sans-serif' font-size="7.4" stroke="#000" stroke-width="0.25">1</text>
</g>
<line x1="106.15" y1="217.7" x2="106.15" y2="220.3" stroke="#000" stroke-width="1"/>
<line x1="114.81" y1="217.7" x2="114.81" y2="219.6" stroke="#111" stroke-width="0.8"/>
<line x1="119.88" y1="217.7" x2="119.88" y2="219.6" stroke="#111" stroke-width="0.8"/>
<line x1="123.47" y1="217.7" x2="123.47" y2="219.6" stroke="#111" stroke-width="0.8"/>
<line x1="126.26" y1="217.7" x2="126.26" y2="219.6" stroke="#111" stroke-width="0.8"/>
<line x1="128.54" y1="217.7" x2="128.54" y2="219.6" stroke="#111" stroke-width="0.8"/>
<line x1="130.47" y1="217.7" x2="130.47" y2="219.6" stroke="#111" stroke-width="0.8"/>
<line x1="132.14" y1="217.7" x2="132.14" y2="219.6" stroke="#111" stroke-width="0.8"/>
<line x1="133.61" y1="217.7" x2="133.61" y2="219.6" stroke="#111" stroke-width="0.8"/>
<g transform="translate(105.85 229.9)">
<text transform="translate(-3.85 0) scale(0.82 1)" font-family='"Liberation Sans","DejaVu Sans",sans-serif' font-size="7.8" stroke="#000" stroke-width="0.25">10</text>
<text x="2.6" y="-3.8" font-family='"Liberation Sans","DejaVu Sans",sans-serif' font-size="7.4" stroke="#000" stroke-width="0.25">2</text>
</g>
<line x1="134.92" y1="217.7" x2="134.92" y2="220.3" stroke="#000" stroke-width="1"/>
<line x1="143.59" y1="217.7" x2="143.59" y2="219.6" stroke="#111" stroke-width="0.8"/>
<line x1="148.65" y1="217.7" x2="148.65" y2="219.6" stroke="#111" stroke-width="0.8"/>
<line x1="152.25" y1="217.7" x2="152.25" y2="219.6" stroke="#111" stroke-width="0.8"/>
<line x1="155.04" y1="217.7" x2="155.04" y2="219.6" stroke="#111" stroke-width="0.8"/>
<line x1="157.32" y1="217.7" x2="157.32" y2="219.6" stroke="#111" stroke-width="0.8"/>
<line x1="159.24" y1="217.7" x2="159.24" y2="219.6" stroke="#111" stroke-width="0.8"/>
<line x1="160.91" y1="217.7" x2="160.91" y2="219.6" stroke="#111" stroke-width="0.8"/>
<line x1="162.38" y1="217.7" x2="162.38" y2="219.6" stroke="#111" stroke-width="0.8"/>
<g transform="translate(133.62 229.9)">
<text transform="translate(-3.85 0) scale(0.82 1)" font-family='"Liberation Sans","DejaVu Sans",sans-serif' font-size="7.8" stroke="#000" stroke-width="0.25">10</text>
<text x="2.6" y="-3.8" font-family='"Liberation Sans","DejaVu Sans",sans-serif' font-size="7.4" stroke="#000" stroke-width="0.25">3</text>
</g>
<line x1="163.7" y1="217.7" x2="163.7" y2="220.3" stroke="#000" stroke-width="1"/>
<g transform="translate(160.9 229.9)">
<text transform="translate(-3.85 0) scale(0.82 1)" font-family='"Liberation Sans","DejaVu Sans",sans-serif' font-size="7.8" stroke="#000" stroke-width="0.25">10</text>
<text x="2.6" y="-3.8" font-family='"Liberation Sans","DejaVu Sans",sans-serif' font-size="7.4" stroke="#000" stroke-width="0.25">4</text>
</g>
<text x="51.7" y="137.1" font-family='"Liberation Serif","DejaVu Serif",serif' font-size="12.6" font-weight="bold" text-anchor="start" fill="#000">0.1</text>
<text x="152.2" y="135.9" font-family='"Liberation Serif","DejaVu Serif",serif' font-size="12.6" font-weight="bold" text-anchor="end" fill="#000">0</text>
<text x="152.2" y="215.9" font-family='"Liberation Serif","DejaVu Serif",serif' font-size="12.6" font-weight="bold" text-anchor="end" fill="#000">0</text>
</g>
<g>
<path transform="scale(0.5)" d="M404 17h2m25 0h2m1 0h2m1 0h4m2 0h2m1 0h2m1 0h4m2 0h5m1 0h2m1 0h3m1 0h3m0 0h5m0 0h7m0 0h5m0 0h2m1 0h3m1 0h3m1 0h2m2 0h2m0 0h2m1 0h4m1 0h3m2 0h2m3 0h2m0 0h6m12 0h5m0 0h2m0 0h2m0 0h3m5 0h2m-158 1h2m20 0h2m2 0h2m9 0h2m0 0h2m0 0h2m0 0h2m0 0h2m0 0h2m0 0h4m1 0h3m2 0h5m0 0h2m1 0h2m0 0h2m3 0h3m0 0h6m0 0h2m0 0h2m0 0h2m0 0h5m7 0h2m1 0h2m5 0h2m2 0h2m1 0h2m0 0h5m2 0h2m0 0h2m5 0h3m1 0h3m0 0h3m1 0h2m8 0h2m-163 1h2m9 0h2m1 0h2m6 0h2m0 0h2m3 0h2m8 0h2m0 0h2m0 0h3m0 0h2m0 0h3m2 0h2m0 0h2m2 0h5m2 0h2m0 0h2m1 0h4m0 0h4m1 0h2m1 0h2m2 0h2m0 0h3m1 0h3m0 0h2m0 0h3m7 0h2m2 0h3m2 0h2m1 0h2m0 0h4m0 0h3m6 0h3m5 0h2m8 0h2m3 0h2m-154 1h2m2 0h2m9 0h2m5 0h5m1 0h3m3 0h4m1 0h4m0 0h8m1 0h2m0 0h2m1 0h2m4 0h7m0 0h4m1 0h2m5 0h8m0 0h3m9 0h2m0 0h2m1 0h2m0 0h2m3 0h3m1 0h2m2 0h2m0 0h2m0 0h2m3 0h2m1 0h2m0 0h2m1 0h3m3 0h3m4 0h2m-158 1h3m6 0h2m5 0h2m6 0h2m1 0h2m1 0h2m0 0h2m4 0h2m0 0h3m0 0h3m0 0h6m0 0h2m0 0h2m2 0h2m0 0h5m1 0h2m0 0h3m0 0h2m3 0h3m2 0h3m0 0h2m1 0h5m0 0h2m2 0h2m1 0h2m0 0h2m0 0h3m0 0h2m0 0h2m2 0h2m3 0h2m6 0h2m1 0h3m6 0h2m2 0h2m0 0h3m0 0h2m1 0h2m0 0h5m2 0h2m5 0h2m0 0h2m-167 1h2m15 0h2m5 0h2m11 0h3m0 0h2m1 0h8m1 0h2m0 0h2m3 0h2m2 0h3m1 0h5m0 0h4m2 0h5m0 0h2m1 0h4m0 0h6m1 0h2m7 0h2m1 0h5m0 0h3m0 0h2m4 0h2m0 0h2m2 0h2m1 0h3m4 0h3m1 0h2m0 0h2m0 0h2m3 0h2m-150 1h2m5 0h2m0 0h2m1 0h2m5 0h2m0 0h3m4 0h2m1 0h2m5 0h3m0 0h2m0 0h2m2 0h4m0 0h3m1 0h3m0 0h2m2 0h3m0 0h3m0 0h3m1 0h3m1 0h2m0 0h5m0 0h2m0 0h2m0 0h2m0 0h2m3 0h2m4 0h2m1 0h3m0 0h3m0 0h2m2 0h2m0 0h3m4 0h2m2 0h2m1 0h2m8 0h2m2 0h2m5 0h2m-144 1h2m6 0h2m0 0h2m2 0h3m2 0h2m6 0h3m0 0h3m2 0h5m2 0h3m0 0h3m3 0h4m0 0h5m0 0h4m0 0h6m2 0h3m3 0h3m0 0h2m0 0h2m0 0h3m1 0h2m6 0h2m0 0h2m3 0h3m2 0h2m1 0h3m6 0h2m1 0h2m6 0h2m14 0h2m-167 1h2m2 0h3m10 0h2m1 0h2m0 0h2m0 0h2m11 0h2m8 0h2m1 0h2m1 0h5m0 0h4m1 0h5m0 0h3m2 0h3m3 0h3m0 0h2m0 0h5m2 0h2m0 0h2m0 0h5m4 0h3m3 0h3m0 0h3m3 0h2m0 0h2m0 0h2m0 0h2m0 0h3m0 0h2m0 0h2m1 0h2m4 0h2m5 0h2m0 0h2m1 0h4m0 0h2m3 0h2m-143 1h2m4 0h2m7 0h3m5 0h2m0 0h4m0 0h12m2 0h3m3 0h2m0 0h2m0 0h2m1 0h2m0 0h5m0 0h4m0 0h4m0 0h2m0 0h3m2 0h2m3 0h3m2 0h2m1 0h2m0 0h3m3 0h2m3 0h2m0 0h2m0 0h2m1 0h2m1 0h2m2 0h2m1 0h2m1 0h2m0 0h2m1 0h2m1 0h2m3 0h3m1 0h3m-154 1h2m5 0h2m15 0h4m6 0h2m4 0h2m1 0h3m0 0h4m5 0h3m0 0h5m0 0h4m1 0h2m0 0h3m0 0h3m0 0h2m0 0h3m1 0h3m0 0h2m0 0h2m2 0h2m4 0h2m0 0h3m2 0h5m0 0h2m1 0h2m1 0h4m0 0h2m2 0h2m0 0h3m2 0h2m2 0h2m1 0h2m1 0h2m0 0h2m-155 1h2m13 0h3m1 0h2m2 0h2m2 0h2m7 0h2m11 0h3m1 0h8m0 0h3m2 0h10m0 0h3m0 0h2m2 0h2m2 0h5m1 0h2m0 0h2m0 0h5m13 0h2m3 0h2m2 0h2m2 0h2m0 0h2m0 0h2m1 0h2m1 0h3m8 0h2m-141 1h2m13 0h2m0 0h2m7 0h2m6 0h2m4 0h6m0 0h4m1 0h3m0 0h2m1 0h2m3 0h6m3 0h5m0 0h2m1 0h3m0 0h2m0 0h9m2 0h3m0 0h2m4 0h3m0 0h2m0 0h2m7 0h2m0 0h3m3 0h3m10 0h3m3 0h2m-136 1h3m2 0h2m0 0h2m0 0h3m8 0h2m0 0h2m1 0h3m1 0h3m0 0h6m1 0h8m2 0h3m0 0h4m0 0h2m1 0h7m0 0h3m0 0h2m0 0h2m4 0h2m1 0h4m3 0h3m10 0h2m8 0h2m3 0h5m0 0h2m4 0h2m7 0h2m-157 1h3m1 0h3m5 0h2m0 0h2m6 0h2m3 0h3m1 0h2m10 0h2m0 0h3m0 0h5m1 0h4m1 0h6m0 0h2m0 0h2m0 0h5m1 0h2m2 0h4m0 0h2m1 0h2m1 0h4m1 0h3m0 0h4m8 0h2m0 0h3m3 0h2m1 0h3m1 0h2m0 0h3m1 0h2m1 0h2m3 0h2m0 0h2m5 0h2m3 0h2m-139 1h2m5 0h2m1 0h2m6 0h2m2 0h2m7 0h8m0 0h2m0 0h2m0 0h2m1 0h2m0 0h5m2 0h3m5 0h9m3 0h6m0 0h3m0 0h2m11 0h2m2 0h2m1 0h2m3 0h2m0 0h3m4 0h2m2 0h3m5 0h3m3 0h2m0 0h2m0 0h2m4 0h2m-156 1h2m11 0h2m4 0h2m1 0h2m0 0h2m3 0h2m5 0h2m3 0h12m0 0h4m2 0h3m0 0h5m0 0h2m0 0h4m6 0h2m3 0h14m11 0h2m2 0h4m0 0h3m2 0h2m0 0h2m0 0h2m1 0h2m2 0h2m0 0h2m3 0h3m4 0h2m-158 1h2m0 0h2m4 0h2m18 0h2m1 0h2m5 0h3m3 0h8m0 0h2m1 0h8m0 0h5m0 0h2m1 0h2m0 0h4m0 0h2m1 0h2m0 0h4m0 0h2m0 0h3m1 0h2m1 0h6m0 0h4m4 0h2m2 0h3m4 0h4m1 0h2m0 0h2m1 0h2m1 0h2m2 0h3m7 0h3m3 0h2m0 0h4m-156 1h2m11 0h3m3 0h2m11 0h2m0 0h2m7 0h2m0 0h3m0 0h2m6 0h2m1 0h2m1 0h2m0 0h11m0 0h6m2 0h7m0 0h2m2 0h4m0 0h2m1 0h2m2 0h2m0 0h2m0 0h3m1 0h4m0 0h2m3 0h4m2 0h2m0 0h2m0 0h2m6 0h2m1 0h2m1 0h2m5 0h2m0 0h2m-160 1h2m9 0h2m0 0h2m5 0h2m0 0h2m0 0h3m4 0h3m3 0h2m3 0h3m3 0h3m0 0h4m0 0h8m1 0h2m0 0h3m1 0h12m0 0h3m3 0h2m2 0h4m2 0h8m6 0h2m6 0h2m1 0h3m6 0h2m3 0h2m9 0h2m4 0h2m-148 1h2m7 0h2m12 0h2m0 0h2m4 0h2m3 0h2m0 0h2m2 0h11m0 0h6m0 0h3m1 0h2m0 0h2m0 0h3m0 0h2m0 0h4m1 0h2m1 0h3m0 0h6m0 0h2m0 0h5m0 0h3m8 0h2m1 0h2m1 0h2m1 0h2m0 0h3m2 0h4m1 0h2m3 0h2m0 0h2m0 0h2m0 0h3m5 0h2m0 0h2m4 0h2m-159 1h2m9 0h2m3 0h2m6 0h2m17 0h2m1 0h2m0 0h2m0 0h4m3 0h2m2 0h3m0 0h2m0 0h2m0 0h7m0 0h2m1 0h2m2 0h2m0 0h3m3 0h2m0 0h3m0 0h4m0 0h2m7 0h2m0 0h2m1 0h2m0 0h2m4 0h4m4 0h4m3 0h2m1 0h2m1 0h3m3 0h2m4 0h3m4 0h2m-161 1h2m1 0h2m2 0h2m10 0h2m6 0h2m6 0h2m1 0h2m0 0h3m1 0h2m0 0h2m0 0h6m1 0h3m0 0h2m2 0h5m0 0h2m0 0h4m1 0h2m1 0h2m2 0h4m0 0h2m1 0h2m2 0h2m3 0h3m3 0h3m0 0h3m0 0h2m3 0h2m1 0h3m3 0h3m0 0h4m1 0h5m0 0h4m2 0h4m5 0h2m-119 1h2m2 0h2m0 0h2m1 0h2m0 0h2m2 0h2m0 0h4m2 0h5m0 0h2m0 0h2m2 0h4m0 0h5m5 0h8m0 0h5m3 0h2m1 0h2m2 0h4m1 0h2m0 0h2m1 0h4m1 0h3m1 0h2m3 0h4m0 0h2m3 0h3m1 0h2m-129 1h2m8 0h2m6 0h2m2 0h3m0 0h3m0 0h3m5 0h5m0 0h4m1 0h5m1 0h2m0 0h6m1 0h2m1 0h4m0 0h3m1 0h3m1 0h4m1 0h2m2 0h2m0 0h2m5 0h2m1 0h3m2 0h2m0 0h6m1 0h2m6 0h2m1 0h3m0 0h3m6 0h2m-134 1h3m1 0h3m3 0h2m4 0h2m6 0h3m0 0h5m1 0h5m0 0h7m2 0h2m0 0h2m6 0h2m2 0h2m0 0h4m0 0h2m0 0h3m1 0h2m9 0h2m12 0h2m2 0h3m1 0h3m4 0h2m1 0h2m0 0h2m0 0h3m0 0h2m1 0h2m0 0h2m-149 1h2m6 0h2m18 0h2m4 0h2m0 0h2m1 0h2m2 0h4m1 0h4m0 0h4m0 0h3m0 0h2m0 0h3m0 0h2m0 0h3m0 0h2m1 0h6m2 0h8m1 0h4m1 0h7m7 0h3m1 0h3m1 0h2m1 0h2m1 0h4m0 0h3m0 0h2m0 0h4m0 0h2m0 0h2m1 0h2m0 0h3m0 0h5m3 0h2m6 0h2m-167 1h2m19 0h2m9 0h3m6 0h2m1 0h2m1 0h2m0 0h2m1 0h2m3 0h2m0 0h3m1 0h3m0 0h2m3 0h2m2 0h5m0 0h2m0 0h2m0 0h3m2 0h5m1 0h3m1 0h2m1 0h3m1 0h2m2 0h2m0 0h3m0 0h2m0 0h3m0 0h3m0 0h2m2 0h2m0 0h2m1 0h2m0 0h2m0 0h2m1 0h2m1 0h3m0 0h2m0 0h2m3 0h2m1 0h3m10 0h2m-172 1h2m8 0h2m0 0h2m8 0h2m3 0h2m1 0h2m5 0h2m1 0h2m8 0h2m2 0h2m0 0h2m0 0h3m1 0h2m0 0h2m0 0h4m2 0h3m0 0h4m4 0h2m1 0h5m1 0h3m0 0h9m0 0h3m4 0h2m5 0h2m2 0h2m0 0h2m2 0h2m3 0h3m0 0h3m0 0h2m0 0h3m0 0h3m2 0h2m0 0h2m0 0h2m0 0h2m1 0h2m-153 1h2m6 0h2m10 0h3m2 0h2m1 0h2m13 0h3m0 0h6m0 0h4m0 0h2m0 0h3m0 0h3m3 0h4m0 0h2m4 0h3m0 0h3m2 0h10m0 0h2m4 0h2m1 0h3m2 0h2m3 0h2m2 0h3m2 0h3m4 0h3m1 0h2m0 0h2m1 0h2m0 0h2m0 0h2m2 0h3m-145 1h2m2 0h2m1 0h2m22 0h2m0 0h2m0 0h2m1 0h6m1 0h3m0 0h3m4 0h2m0 0h2m0 0h3m1 0h6m1 0h3m1 0h8m0 0h8m0 0h3m8 0h2m0 0h2m1 0h3m1 0h2m1 0h3m2 0h2m2 0h3m4 0h2m0 0h2m1 0h2m4 0h3m6 0h2m-155 1h2m13 0h2m0 0h2m2 0h2m1 0h2m1 0h2m9 0h2m1 0h2m0 0h2m0 0h2m0 0h9m1 0h2m0 0h2m0 0h5m3 0h4m0 0h2m0 0h3m0 0h6m3 0h2m1 0h3m0 0h2m0 0h3m0 0h2m1 0h2m0 0h2m2 0h2m0 0h2m0 0h4m2 0h2m4 0h3m1 0h2m1 0h2m1 0h2m5 0h3m1 0h3m3 0h2m-152 1h2m3 0h2m4 0h2m1 0h2m6 0h2m4 0h2m0 0h3m1 0h2m0 0h3m1 0h2m1 0h5m0 0h3m0 0h5m0 0h3m0 0h2m1 0h3m0 0h2m4 0h3m5 0h3m0 0h4m0 0h2m1 0h2m2 0h3m0 0h2m1 0h3m6 0h3m8 0h2m0 0h2m2 0h3m1 0h2m0 0h4m0 0h3m10 0h2m2 0h2m-136 1h2m1 0h2m0 0h2m3 0h3m7 0h2m1 0h2m0 0h4m2 0h2m0 0h2m0 0h3m1 0h3m0 0h6m2 0h3m0 0h5m1 0h3m3 0h2m1 0h2m1 0h2m0 0h2m0 0h2m0 0h3m0 0h2m8 0h2m0 0h2m0 0h2m0 0h2m0 0h2m3 0h2m4 0h2m8 0h2m11 0h2m-150 1h2m12 0h2m2 0h3m11 0h2m2 0h2m2 0h2m0 0h2m0 0h3m2 0h2m4 0h2m1 0h3m1 0h3m0 0h2m0 0h5m0 0h5m0 0h3m0 0h7m2 0h2m0 0h5m1 0h2m5 0h2m0 0h2m0 0h3m1 0h2m1 0h3m0 0h2m0 0h2m1 0h2m0 0h2m1 0h2m1 0h2m3 0h3m2 0h3m3 0h2m-151 1h2m2 0h2m12 0h2m2 0h2m2 0h2m3 0h2m5 0h3m1 0h2m3 0h2m0 0h4m0 0h5m1 0h2m0 0h2m0 0h5m2 0h5m0 0h3m0 0h2m0 0h3m0 0h3m0 0h8m0 0h3m0 0h3m0 0h2m3 0h3m3 0h2m2 0h3m2 0h2m1 0h2m0 0h2m3 0h2m0 0h2m3 0h2m2 0h2m0 0h3m0 0h5m-158 1h2m7 0h2m8 0h2m15 0h2m1 0h2m0 0h2m5 0h4m1 0h3m1 0h2m0 0h2m2 0h3m0 0h4m0 0h2m0 0h3m0 0h4m1 0h2m0 0h5m1 0h2m1 0h2m0 0h3m0 0h4m0 0h2m2 0h3m3 0h2m3 0h3m6 0h2m0 0h2m0 0h2m0 0h2m0 0h4m2 0h4m3 0h2m9 0h2m-158 1h2m9 0h2m9 0h2m4 0h2m1 0h3m6 0h2m0 0h3m0 0h2m1 0h3m0 0h3m0 0h3m0 0h2m1 0h3m1 0h4m0 0h2m0 0h2m0 0h2m1 0h4m3 0h2m1 0h2m0 0h3m0 0h7m0 0h2m1 0h4m2 0h2m2 0h3m0 0h2m7 0h2m0 0h2m0 0h2m5 0h2m3 0h2m0 0h2m2 0h2m-141 1h2m4 0h2m1 0h2m16 0h2m8 0h2m2 0h2m3 0h2m0 0h2m2 0h2m0 0h4m4 0h2m1 0h2m0 0h8m3 0h4m0 0h3m0 0h2m2 0h9m0 0h4m4 0h2m0 0h2m0 0h4m0 0h3m1 0h3m6 0h2m1 0h3m1 0h2m3 0h2m1 0h2m0 0h2m4 0h3m-132 1h2m2 0h2m10 0h4m3 0h3m2 0h4m0 0h5m0 0h3m0 0h6m0 0h2m0 0h2m0 0h4m0 0h2m1 0h2m2 0h2m0 0h2m0 0h4m1 0h4m0 0h2m7 0h3m0 0h2m4 0h2m1 0h3m0 0h2m0 0h2m0 0h5m1 0h2m1 0h2m2 0h2m4 0h2m1 0h2m23 0h2m-173 1h2m22 0h2m3 0h2m0 0h2m1 0h2m0 0h2m0 0h2m3 0h2m2 0h4m3 0h2m3 0h3m2 0h3m0 0h3m0 0h2m2 0h2m1 0h4m0 0h5m1 0h4m0 0h2m2 0h2m4 0h3m0 0h2m2 0h3m0 0h2m13 0h2m1 0h2m2 0h3m0 0h2m1 0h2m4 0h2m2 0h2m-129 1h2m8 0h3m0 0h2m3 0h2m5 0h6m2 0h2m0 0h2m2 0h2m0 0h2m0 0h2m0 0h2m0 0h4m0 0h2m2 0h3m0 0h4m0 0h4m0 0h3m0 0h2m0 0h2m0 0h2m2 0h3m0 0h2m0 0h3m0 0h2m0 0h2m0 0h2m5 0h3m1 0h2m4 0h3m2 0h2m3 0h3m3 0h2m10 0h2m-151 1h3m13 0h3m6 0h2m8 0h2m1 0h2m0 0h3m1 0h2m0 0h3m0 0h4m1 0h2m1 0h2m1 0h2m2 0h2m0 0h2m0 0h5m1 0h3m0 0h2m0 0h2m3 0h2m2 0h2m7 0h2m9 0h4m1 0h2m4 0h2m4 0h2m1 0h4m0 0h2m2 0h2m-149 1h2m8 0h2m15 0h2m0 0h2m8 0h2m6 0h2m5 0h3m0 0h2m1 0h4m2 0h2m0 0h4m0 0h3m0 0h4m0 0h3m2 0h2m0 0h2m0 0h2m1 0h3m2 0h2m0 0h2m1 0h3m2 0h2m0 0h2m0 0h2m7 0h3m0 0h4m0 0h2m2 0h2m4 0h2m4 0h3m3 0h2m20 0h2m-172 1h2m5 0h2m13 0h2m1 0h2m4 0h3m7 0h3m6 0h3m1 0h4m0 0h6m0 0h5m1 0h2m0 0h7m0 0h2m2 0h5m0 0h3m1 0h3m0 0h6m2 0h6m11 0h2m2 0h4m0 0h2m0 0h5m2 0h3m4 0h5m0 0h2m-144 1h2m3 0h2m10 0h2m6 0h2m8 0h2m0 0h2m2 0h2m1 0h3m0 0h7m0 0h2m1 0h2m0 0h3m1 0h2m0 0h2m2 0h5m0 0h3m0 0h5m0 0h3m0 0h2m0 0h2m1 0h2m0 0h4m0 0h3m0 0h2m0 0h2m3 0h2m0 0h2m3 0h2m0 0h2m3 0h2m1 0h3m2 0h2m3 0h2m4 0h2m4 0h2m-152 1h2m13 0h3m5 0h2m0 0h2m0 0h2m1 0h2m2 0h2m1 0h2m9 0h2m0 0h2m0 0h3m1 0h5m0 0h5m0 0h2m0 0h2m3 0h4m1 0h4m1 0h3m0 0h5m1 0h6m0 0h2m0 0h2m3 0h2m4 0h2m3 0h2m4 0h2m5 0h2m6 0h2m0 0h4m-140 1h2m24 0h4m2 0h2m0 0h2m1 0h2m4 0h2m2 0h3m0 0h2m0 0h3m0 0h4m1 0h2m0 0h3m0 0h2m0 0h2m0 0h3m0 0h3m5 0h10m0 0h3m2 0h2m0 0h3m1 0h2m2 0h4m0 0h2m3 0h4m0 0h2m4 0h2m6 0h2m7 0h2m-146 1h2m0 0h2m17 0h2m1 0h3m6 0h2m9 0h3m3 0h6m0 0h2m6 0h2m0 0h2m2 0h2m0 0h4m0 0h3m0 0h2m1 0h2m1 0h2m2 0h2m0 0h3m2 0h6m1 0h2m2 0h2m3 0h2m2 0h2m0 0h3m1 0h3m2 0h2m0 0h2m0 0h3m2 0h3m-139 1h2m3 0h3m1 0h2m1 0h2m5 0h2m9 0h2m10 0h2m5 0h2m1 0h3m1 0h5m0 0h2m0 0h5m0 0h8m0 0h7m1 0h3m1 0h4m0 0h11m0 0h3m0 0h2m2 0h2m0 0h3m0 0h4m0 0h2m0 0h2m0 0h3m0 0h2m0 0h2m2 0h4m2 0h2m0 0h2m-142 1h2m8 0h2m24 0h2m2 0h2m0 0h4m2 0h6m0 0h3m0 0h3m2 0h6m0 0h3m0 0h2m2 0h2m1 0h7m3 0h2m0 0h4m3 0h3m1 0h4m3 0h4m2 0h4m2 0h2m3 0h2m1 0h2m6 0h3m6 0h2m-131 1h2m1 0h2m5 0h3m1 0h2m0 0h3m0 0h2m1 0h2m0 0h3m3 0h2m2 0h2m0 0h3m0 0h3m0 0h3m0 0h2m1 0h2m1 0h5m0 0h2m0 0h3m0 0h5m1 0h4m0 0h4m0 0h4m0 0h2m17 0h2m1 0h2m2 0h2m1 0h2m4 0h2m4 0h2m12 0h2m-149 1h2m0 0h2m0 0h2m34 0h2m0 0h2m2 0h3m0 0h11m1 0h6m0 0h2m1 0h2m1 0h2m2 0h2m1 0h2m0 0h2m1 0h3m1 0h3m1 0h5m0 0h3m0 0h2m1 0h2m15 0h2m1 0h2m3 0h2m5 0h4m-124 1h2m4 0h2m0 0h2m1 0h2m1 0h2m0 0h2m2 0h2m2 0h3m2 0h2m3 0h2m0 0h2m0 0h3m0 0h2m3 0h2m0 0h2m1 0h2m1 0h3m4 0h2m1 0h3m0 0h3m0 0h3m0 0h3m0 0h4m1 0h3m8 0h2m3 0h2m2 0h2m1 0h4m4 0h2m1 0h2m-109 1h2m2 0h4m2 0h2m4 0h2m0 0h2m1 0h2m0 0h3m0 0h3m0 0h2m2 0h2m0 0h2m2 0h3m2 0h2m0 0h2m4 0h2m0 0h2m1 0h5m1 0h4m1 0h2m0 0h2m1 0h3m0 0h2m1 0h3m4 0h3m3 0h2m2 0h2m2 0h2m8 0h2m-128 1h2m1 0h2m5 0h2m2 0h2m4 0h2m10 0h2m2 0h3m0 0h2m1 0h3m1 0h2m1 0h4m2 0h2m0 0h2m1 0h5m0 0h2m2 0h2m2 0h2m2 0h6m4 0h3m0 0h2m6 0h2m3 0h4m2 0h2m1 0h4m2 0h2m0 0h2m-131 1h2m5 0h2m4 0h2m4 0h2m7 0h2m1 0h2m4 0h2m1 0h2m4 0h3m1 0h2m1 0h2m0 0h6m0 0h6m0 0h3m0 0h4m1 0h3m0 0h2m4 0h4m0 0h8m1 0h2m3 0h2m0 0h3m1 0h2m2 0h3m10 0h2m0 0h2m9 0h2m-145 1h2m16 0h2m11 0h2m3 0h2m11 0h3m2 0h2m0 0h6m1 0h2m0 0h2m0 0h4m1 0h3m4 0h3m0 0h17m0 0h2m0 0h5m10 0h2m4 0h2m1 0h2m0 0h3m8 0h2m14 0h2m-156 1h2m3 0h2m8 0h2m0 0h2m9 0h2m4 0h3m6 0h2m1 0h3m3 0h2m0 0h8m0 0h2m0 0h2m0 0h3m0 0h2m0 0h2m0 0h2m0 0h3m1 0h3m1 0h2m0 0h5m0 0h3m3 0h4m1 0h2m0 0h4m0 0h2m2 0h2m0 0h2m0 0h2m7 0h2m-126 1h2m6 0h2m2 0h2m12 0h2m2 0h2m1 0h3m0 0h2m7 0h2m0 0h2m0 0h2m3 0h6m0 0h2m0 0h5m3 0h8m0 0h3m1 0h2m0 0h7m2 0h4m4 0h2m5 0h2m9 0h2m21 0h2m-111 1h4m9 0h2m0 0h2m0 0h2m0 0h3m0 0h5m1 0h3m1 0h2m0 0h3m1 0h3m1 0h2m1 0h5m0 0h5m4 0h2m0 0h5m0 0h2m1 0h2m0 0h2m0 0h2m13 0h2m3 0h2m-120 1h2m1 0h2m18 0h2m10 0h2m1 0h2m5 0h2m0 0h2m0 0h3m1 0h2m0 0h3m0 0h5m4 0h4m1 0h2m6 0h2m0 0h7m3 0h4m4 0h3m14 0h2m-125 1h2m0 0h2m11 0h2m7 0h2m16 0h2m2 0h2m1 0h3m0 0h4m1 0h4m0 0h3m0 0h2m0 0h9m0 0h3m1 0h2m1 0h2m0 0h3m1 0h8m0 0h4m2 0h2m4 0h2m2 0h2m11 0h2m35 0h2m-164 1h2m0 0h2m23 0h2m1 0h2m11 0h2m3 0h2m0 0h2m1 0h4m0 0h3m1 0h4m0 0h3m1 0h3m0 0h3m0 0h2m9 0h3m1 0h4m0 0h4m1 0h2m1 0h3m-103 1h2m2 0h2m1 0h2m7 0h2m12 0h2m1 0h2m14 0h2m0 0h2m1 0h3m2 0h2m0 0h3m0 0h2m3 0h3m0 0h2m0 0h6m0 0h4m0 0h2m2 0h2m0 0h7m0 0h3m2 0h3m21 0h2m29 0h2m-152 1h2m2 0h2m7 0h2m3 0h2m4 0h2m0 0h2m4 0h2m4 0h2m0 0h2m0 0h2m0 0h3m3 0h2m1 0h2m0 0h5m1 0h8m0 0h2m0 0h2m1 0h4m1 0h2m1 0h2m1 0h3m0 0h4m1 0h3m13 0h2m10 0h2m0 0h2m-107 1h2m0 0h2m2 0h3m5 0h2m5 0h2m1 0h2m2 0h5m0 0h3m3 0h2m3 0h5m0 0h2m0 0h3m0 0h8m0 0h3m1 0h2m1 0h5m29 0h2m-123 1h2m2 0h2m5 0h2m3 0h2m3 0h2m2 0h4m1 0h2m0 0h2m0 0h2m1 0h2m5 0h5m1 0h6m3 0h4m3 0h3m0 0h6m3 0h2m0 0h4m0 0h3m0 0h3m0 0h2m0 0h3m0 0h2m7 0h2m-114 1h2m1 0h2m9 0h2m3 0h2m11 0h2m3 0h2m6 0h2m0 0h2m1 0h4m2 0h4m0 0h2m0 0h4m0 0h3m0 0h10m1 0h3m0 0h3m2 0h2m1 0h3m5 0h2m-80 1h2m4 0h3m2 0h2m0 0h2m0 0h2m2 0h2m10 0h2m0 0h3m1 0h2m0 0h2m0 0h8m0 0h2m2 0h4m1 0h3m0 0h3m0 0h9m0 0h2m0 0h3m0 0h2m0 0h2m1 0h2m-96 1h2m5 0h2m2 0h3m12 0h2m11 0h2m2 0h2m1 0h2m2 0h2m1 0h8m1 0h6m1 0h4m1 0h2m0 0h3m0 0h2m0 0h3m0 0h2m0 0h3m0 0h5m-93 1h3m17 0h3m0 0h3m1 0h2m0 0h2m4 0h3m0 0h3m0 0h10m0 0h3m1 0h3m1 0h4m1 0h2m1 0h2m1 0h5m0 0h3m2 0h3m2 0h6m2 0h2m-98 1h2m7 0h2m8 0h4m6 0h2m0 0h2m3 0h2m1 0h3m1 0h2m0 0h4m1 0h3m1 0h3m0 0h2m1 0h3m0 0h3m0 0h3m0 0h3m0 0h2m0 0h3m1 0h3m0 0h4m1 0h4m1 0h2m-102 1h2m15 0h2m1 0h2m6 0h2m0 0h2m3 0h2m9 0h2m1 0h2m0 0h2m1 0h4m2 0h7m0 0h3m0 0h4m1 0h4m0 0h3m0 0h6m0 0h2m0 0h5m1 0h5m2 0h2m1 0h3m-107 1h3m19 0h2m5 0h3m11 0h2m4 0h3m1 0h2m0 0h2m4 0h2m0 0h9m0 0h4m0 0h4m0 0h3m1 0h2m0 0h2m0 0h3m2 0h2m3 0h6m-100 1h2m8 0h2m0 0h2m0 0h2m14 0h3m3 0h3m0 0h2m3 0h2m0 0h5m0 0h2m2 0h3m1 0h5m0 0h4m0 0h2m2 0h2m0 0h5m2 0h2m0 0h3m2 0h5m-81 1h3m13 0h3m5 0h2m5 0h2m0 0h2m0 0h3m0 0h3m0 0h3m0 0h2m0 0h2m0 0h2m0 0h6m1 0h2m0 0h3m2 0h4m0 0h3m0 0h5m2 0h2m3 0h3m0 0h2m24 0h2m-110 1h2m3 0h2m0 0h2m0 0h3m8 0h2m5 0h3m1 0h2m3 0h3m0 0h2m0 0h6m0 0h7m0 0h2m0 0h2m2 0h2m0 0h2m2 0h2m0 0h5m2 0h2m2 0h2m0 0h2m-102 1h2m6 0h2m10 0h2m2 0h3m10 0h3m1 0h2m5 0h2m2 0h2m1 0h2m0 0h5m0 0h2m0 0h2m0 0h6m0 0h6m2 0h2m3 0h2m0 0h2m0 0h4m1 0h3m3 0h2m0 0h2m-84 1h3m3 0h2m4 0h4m4 0h2m4 0h3m1 0h2m0 0h6m0 0h2m1 0h2m0 0h7m0 0h2m0 0h2m1 0h2m1 0h3m6 0h2m0 0h4m0 0h4m0 0h2m16 0h2m-102 1h2m1 0h2m1 0h2m0 0h3m1 0h2m2 0h3m3 0h2m0 0h3m1 0h2m0 0h2m0 0h4m1 0h2m1 0h8m0 0h3m0 0h2m0 0h2m0 0h2m0 0h5m0 0h3m1 0h4m1 0h2m3 0h2m0 0h2m1 0h2m1 0h2m21 0h2m-124 1h2m8 0h2m3 0h4m2 0h3m1 0h3m1 0h2m3 0h2m1 0h2m0 0h2m0 0h6m2 0h3m2 0h2m1 0h2m1 0h3m0 0h2m3 0h2m2 0h2m0 0h2m0 0h3m2 0h2m0 0h2m2 0h2m0 0h2m0 0h6m14 0h2m-108 1h2m5 0h2m0 0h2m4 0h3m3 0h2m2 0h4m1 0h2m0 0h2m0 0h2m2 0h4m1 0h2m0 0h2m0 0h4m0 0h3m1 0h2m0 0h3m2 0h4m0 0h3m0 0h6m0 0h4m0 0h3m0 0h2m2 0h2m0 0h2m10 0h2m-98 1h2m1 0h2m11 0h3m1 0h5m0 0h2m1 0h3m0 0h2m1 0h2m0 0h3m2 0h3m2 0h5m1 0h2m0 0h3m0 0h4m0 0h2m0 0h8m2 0h2m2 0h4m1 0h4m33 0h2m9 0h2m-138 1h3m7 0h4m1 0h2m2 0h2m0 0h4m1 0h7m0 0h2m2 0h2m0 0h3m1 0h3m0 0h2m0 0h3m0 0h2m4 0h4m1 0h3m1 0h3m0 0h3m0 0h2m0 0h5m0 0h2m1 0h3m0 0h5m1 0h2m0 0h3m-99 1h3m14 0h3m1 0h5m1 0h5m1 0h4m1 0h5m0 0h3m1 0h2m0 0h5m0 0h2m1 0h7m1 0h4m1 0h4m0 0h5m0 0h3m0 0h2m0 0h5m2 0h2m39 0h2m12 0h2m-140 1h2m6 0h2m0 0h2m0 0h2m0 0h6m0 0h2m1 0h2m0 0h3m1 0h9m2 0h10m0 0h10m0 0h3m1 0h9m0 0h5m3 0h4m0 0h2m0 0h2m11 0h2m-100 1h2m4 0h3m1 0h5m0 0h3m0 0h2m1 0h9m1 0h6m1 0h4m0 0h2m1 0h12m0 0h4m0 0h7m0 0h7m0 0h3m0 0h2m0 0h2m0 0h3m15 0h2m8 0h2m-124 1h2m12 0h3m0 0h2m0 0h5m0 0h8m0 0h4m0 0h7m1 0h2m1 0h3m0 0h4m0 0h2m2 0h2m1 0h4m1 0h2m1 0h2m1 0h8m0 0h2m1 0h3m0 0h4m0 0h2m0 0h6m27 0h2m12 0h2m-130 1h2m0 0h3m0 0h2m0 0h3m0 0h4m0 0h3m3 0h4m0 0h6m0 0h3m0 0h7m0 0h2m0 0h2m1 0h2m0 0h3m0 0h4m0 0h5m2 0h5m1 0h8m0 0h5m0 0h2m0 0h5m16 0h2m3 0h2m30 0h2m21 0h2m-174 1h2m7 0h2m1 0h2m2 0h3m1 0h2m0 0h4m0 0h6m0 0h3m1 0h2m0 0h3m0 0h8m1 0h6m3 0h6m0 0h2m0 0h4m1 0h2m1 0h5m0 0h2m1 0h4m0 0h2m0 0h6m9 0h2m-98 1h2m4 0h2m0 0h7m0 0h3m0 0h4m0 0h2m0 0h4m2 0h2m0 0h2m3 0h2m0 0h2m1 0h3m1 0h6m2 0h3m0 0h2m0 0h8m0 0h5m0 0h3m0 0h2m1 0h2m0 0h4m3 0h2m-98 1h2m9 0h3m1 0h3m0 0h2m0 0h2m0 0h7m0 0h2m1 0h3m1 0h3m0 0h7m0 0h3m0 0h3m0 0h5m0 0h2m0 0h4m1 0h8m2 0h3m0 0h8m0 0h3m0 0h3m0 0h2m0 0h2m0 0h2m0 0h3m12 0h2m11 0h2m-114 1h2m1 0h4m0 0h4m0 0h5m1 0h2m0 0h4m0 0h2m0 0h5m0 0h4m1 0h4m0 0h3m0 0h5m1 0h4m0 0h2m2 0h2m1 0h6m0 0h3m2 0h3m0 0h2m1 0h2m1 0h2m0 0h2m24 0h2m8 0h2m43 0h2m-164 1h2m0 0h5m0 0h2m1 0h2m2 0h2m0 0h2m0 0h7m0 0h2m1 0h2m0 0h2m0 0h2m4 0h2m0 0h3m0 0h3m1 0h6m0 0h2m2 0h2m0 0h2m1 0h3m1 0h3m1 0h3m0 0h2m1 0h4m2 0h2m29 0h2m7 0h2m-130 1h2m4 0h2m0 0h4m1 0h5m0 0h2m1 0h3m0 0h2m0 0h8m1 0h4m2 0h3m0 0h4m0 0h4m0 0h2m1 0h3m3 0h6m1 0h4m0 0h3m0 0h4m1 0h3m1 0h4m14 0h2m11 0h2m0 0h2m0 0h2m6 0h2m11 0h2m-147 1h2m2 0h2m7 0h3m0 0h3m0 0h4m0 0h4m0 0h8m2 0h12m1 0h10m0 0h2m0 0h4m4 0h6m0 0h3m1 0h3m0 0h2m1 0h2m0 0h2m2 0h5m24 0h2m25 0h2m-147 1h2m4 0h2m2 0h2m0 0h3m1 0h2m1 0h5m1 0h2m2 0h2m0 0h3m0 0h2m0 0h6m0 0h5m1 0h2m1 0h5m3 0h13m0 0h3m0 0h2m0 0h3m3 0h6m3 0h2m10 0h2m5 0h2m19 0h2m3 0h2m-142 1h2m8 0h2m3 0h8m2 0h7m2 0h2m0 0h3m0 0h6m2 0h4m1 0h5m0 0h2m0 0h2m1 0h3m1 0h3m1 0h5m0 0h2m1 0h6m2 0h2m0 0h3m21 0h2m4 0h2m16 0h2m0 0h2m7 0h2m68 0h2m-215 1h2m1 0h2m0 0h2m1 0h2m0 0h2m0 0h2m0 0h3m0 0h6m1 0h2m0 0h5m2 0h7m0 0h2m1 0h4m1 0h3m3 0h4m0 0h2m0 0h3m1 0h5m1 0h9m0 0h3m0 0h2m0 0h2m8 0h2m5 0h2m13 0h2m30 0h2m-160 1h4m0 0h2m5 0h2m3 0h7m0 0h2m3 0h3m0 0h3m0 0h2m0 0h7m0 0h4m0 0h2m0 0h2m0 0h3m0 0h3m1 0h3m0 0h2m0 0h2m3 0h2m0 0h7m1 0h4m0 0h3m0 0h3m0 0h4m1 0h2m18 0h2m3 0h2m9 0h2m26 0h2m-142 1h8m0 0h4m0 0h5m1 0h4m0 0h2m0 0h2m1 0h2m0 0h5m0 0h7m1 0h3m0 0h2m2 0h3m0 0h2m2 0h2m0 0h2m0 0h3m0 0h4m1 0h3m0 0h2m0 0h2m3 0h2m5 0h2m29 0h2m-122 1h3m0 0h2m0 0h3m0 0h7m0 0h2m0 0h3m2 0h7m0 0h3m0 0h5m0 0h7m0 0h5m0 0h2m0 0h2m0 0h6m0 0h4m4 0h2m2 0h2m0 0h4m0 0h2m0 0h5m19 0h2m6 0h2m1 0h2m6 0h2m-132 1h2m10 0h6m0 0h2m0 0h2m0 0h2m0 0h3m0 0h2m0 0h4m0 0h4m0 0h2m0 0h7m2 0h3m0 0h7m0 0h2m0 0h3m2 0h3m0 0h2m4 0h3m0 0h3m1 0h4m0 0h2m29 0h2m0 0h2m3 0h2m4 0h2m0 0h2m7 0h2m1 0h2m-135 1h2m0 0h5m0 0h3m3 0h2m0 0h3m0 0h3m0 0h3m0 0h2m1 0h2m1 0h3m3 0h2m1 0h5m3 0h3m1 0h2m1 0h4m4 0h7m0 0h3m3 0h2m0 0h2m3 0h2m12 0h2m9 0h2m4 0h2m4 0h2m-131 1h2m2 0h3m3 0h2m0 0h3m0 0h4m2 0h2m1 0h2m0 0h2m0 0h9m0 0h5m1 0h4m0 0h2m2 0h2m2 0h2m0 0h2m0 0h2m1 0h3m0 0h2m0 0h3m0 0h4m0 0h2m0 0h4m0 0h2m1 0h2m4 0h2m65 0h2m-161 1h2m7 0h2m1 0h2m0 0h2m1 0h8m1 0h2m1 0h2m0 0h8m0 0h2m0 0h5m1 0h2m0 0h5m2 0h4m0 0h2m0 0h4m0 0h2m0 0h5m0 0h2m1 0h4m0 0h2m1 0h4m0 0h4m11 0h3m2 0h2m12 0h2m8 0h2m2 0h2m18 0h2m-152 1h2m3 0h2m1 0h2m0 0h2m0 0h3m0 0h2m0 0h4m0 0h4m0 0h2m0 0h3m1 0h3m0 0h2m1 0h7m1 0h6m2 0h6m1 0h2m0 0h2m0 0h2m0 0h6m3 0h2m0 0h3m0 0h2m2 0h2m5 0h2m36 0h2m3 0h2m3 0h2m-140 1h2m7 0h3m1 0h3m2 0h2m2 0h2m0 0h4m0 0h5m0 0h2m1 0h2m0 0h5m0 0h2m0 0h3m0 0h4m0 0h2m0 0h3m1 0h3m0 0h3m0 0h5m0 0h7m3 0h2m1 0h2m0 0h2m17 0h2m5 0h2m6 0h2m8 0h2m3 0h2m13 0h2m2 0h2m-151 1h2m0 0h3m3 0h2m2 0h5m0 0h3m0 0h2m0 0h3m0 0h2m0 0h2m0 0h3m0 0h2m2 0h2m0 0h4m0 0h3m0 0h4m1 0h3m0 0h2m3 0h3m0 0h3m1 0h7m0 0h2m0 0h2m0 0h2m0 0h2m1 0h2m36 0h2m-126 1h2m6 0h2m1 0h2m1 0h2m1 0h2m0 0h2m0 0h2m0 0h3m0 0h4m0 0h3m1 0h3m0 0h2m0 0h6m0 0h3m1 0h4m0 0h3m0 0h2m0 0h2m0 0h4m2 0h3m0 0h5m0 0h2m0 0h3m0 0h4m0 0h2m31 0h2m-124 1h2m12 0h2m1 0h6m0 0h3m3 0h3m0 0h4m7 0h8m0 0h2m3 0h5m0 0h3m0 0h7m0 0h5m0 0h3m0 0h5m3 0h2m0 0h2m8 0h2m7 0h2m22 0h2m-120 1h2m3 0h2m3 0h3m0 0h2m0 0h2m1 0h2m0 0h4m0 0h2m0 0h2m0 0h4m0 0h8m2 0h2m0 0h2m0 0h2m0 0h2m1 0h5m2 0h2m0 0h3m2 0h2m0 0h4m1 0h2m1 0h2m0 0h2m4 0h2m0 0h2m17 0h2m7 0h2m14 0h2m-131 1h2m0 0h2m2 0h5m0 0h3m5 0h6m1 0h3m1 0h4m3 0h2m0 0h4m0 0h2m0 0h3m1 0h5m0 0h8m0 0h9m2 0h2m9 0h2m22 0h2m0 0h2m-124 1h2m10 0h3m5 0h3m0 0h4m1 0h8m0 0h2m2 0h3m0 0h2m1 0h8m1 0h2m0 0h2m0 0h2m0 0h5m0 0h9m1 0h4m1 0h3m2 0h3m37 0h2m0 0h2m2 0h2m-118 1h2m0 0h5m0 0h3m2 0h2m0 0h3m0 0h4m1 0h2m0 0h2m0 0h2m0 0h5m2 0h2m0 0h5m0 0h2m0 0h3m0 0h3m0 0h5m1 0h2m0 0h4m1 0h3m0 0h2m0 0h2m4 0h2m1 0h2m3 0h2m-89 1h2m5 0h2m0 0h2m0 0h2m0 0h4m1 0h4m0 0h6m0 0h2m1 0h2m1 0h5m2 0h4m2 0h3m0 0h2m0 0h4m1 0h2m0 0h4m0 0h2m0 0h3m3 0h2m16 0h2m-85 1h3m1 0h3m1 0h4m0 0h2m3 0h2m0 0h8m0 0h2m3 0h3m0 0h2m0 0h4m0 0h7m0 0h3m0 0h3m0 0h6m1 0h2m4 0h2m2 0h2m15 0h2m30 0h2m-120 1h2m3 0h5m0 0h2m0 0h5m1 0h5m2 0h2m0 0h5m0 0h5m0 0h6m0 0h3m1 0h5m0 0h3m0 0h2m1 0h2m0 0h2m20 0h2m14 0h2m13 0h2m19 0h2m-139 1h2m3 0h3m1 0h2m0 0h2m2 0h11m3 0h5m0 0h4m3 0h8m0 0h6m1 0h4m0 0h3m0 0h2m56 0h2m-116 1h2m0 0h3m0 0h2m0 0h2m1 0h3m1 0h11m0 0h3m0 0h5m0 0h3m0 0h4m0 0h2m1 0h2m0 0h5m0 0h6m5 0h2m20 0h2m10 0h2m6 0h3m10 0h2m-135 1h2m8 0h2m1 0h2m2 0h3m2 0h2m0 0h5m1 0h5m0 0h4m0 0h2m2 0h2m0 0h5m1 0h4m0 0h10m1 0h2m4 0h2m9 0h2m-74 1h2m4 0h5m0 0h3m0 0h5m0 0h4m1 0h5m1 0h2m0 0h2m0 0h7m1 0h5m0 0h10m0 0h3m0 0h4m3 0h2m26 0h2m24 0h2m-116 1h3m0 0h9m1 0h2m2 0h4m2 0h3m0 0h2m0 0h2m1 0h6m0 0h4m0 0h2m4 0h2m1 0h2m0 0h3m2 0h2m7 0h2m3 0h2m-75 1h4m0 0h2m0 0h3m0 0h9m0 0h12m2 0h3m2 0h2m0 0h4m1 0h2m0 0h3m0 0h3m5 0h2m-81 1h2m0 0h2m3 0h3m6 0h2m5 0h2m4 0h2m0 0h2m0 0h4m1 0h2m0 0h3m0 0h3m0 0h7m0 0h2m0 0h3m1 0h5m0 0h6m4 0h2m-52 1h3m0 0h2m1 0h3m0 0h2m1 0h2m0 0h2m1 0h4m3 0h3m0 0h2m0 0h3m0 0h2m3 0h6m0 0h2m3 0h2m2 0h2m0 0h2m22 0h2m-81 1h2m4 0h2m5 0h5m0 0h3m1 0h8m0 0h3m4 0h2m0 0h2m2 0h2m7 0h2m1 0h2m26 0h2m21 0h2m-111 1h2m4 0h2m0 0h2m0 0h2m2 0h2m0 0h3m0 0h10m1 0h3m0 0h2m1 0h2m4 0h2m2 0h2m1 0h5m-76 1h2m25 0h2m8 0h4m3 0h2m1 0h3m0 0h5m0 0h2m0 0h3m0 0h3m2 0h2m9 0h2m19 0h2m0 0h2m24 0h2m-97 1h2m1 0h2m9 0h3m2 0h4m1 0h3m0 0h5m0 0h2m0 0h2m5 0h2m-57 1h2m6 0h2m0 0h2m7 0h2m0 0h4m0 0h2m0 0h3m2 0h2m2 0h2m0 0h2m27 0h2m-74 1h2m0 0h2m20 0h2m1 0h2m4 0h2m8 0h3m9 0h2m0 0h2m1 0h2m6 0h2m-56 1h2m10 0h2m7 0h2m1 0h2m1 0h2m1 0h2m10 0h2m5 0h2m18 0h2m-87 1h2m11 0h2m21 0h2m2 0h2m7 0h2m0 0h2m6 0h2m4 0h2m-57 1h2m21 0h2m15 0h2m4 0h2m10 0h2m8 0h2m3 0h3m-82 1h2m32 0h2m0 0h2m0 0h2m10 0h2m2 0h2m-42 1h3m29 0h2m14 0h2m-58 1h2m9 0h2m17 0h2m0 0h2m13 0h3m-58 1h2m87 0h2m44 0h2m-147 1h2m23 0h2m6 0h2m3 0h2m6 0h2m-39 1h2m41 0h2m7 0h2m21 0h2m-75 1h2m25 0h2m5 0h2m7 0h2m1 0h2m4 0h2m4 0h2m8 0h2m5 0h2m-77 1h3m4 0h2m10 0h2m5 0h2m6 0h2m11 0h2m23 0h2m-11 1h2m3 0h2m-71 1h2m27 0h2m0 0h2m50 0h2m4 0h2m-35 1h2m37 0h2m-86 1h2m1 0h2m19 0h2m6 0h2m12 0h2m17 0h2m-64 1h2m16 0h2m11 0h2m19 0h2m14 0h2m-86 1h2m21 0h2m12 0h2m16 0h2m3 0h2m32 0h2m-63 1h2m16 0h2m8 0h2m22 0h2m-95 1h2m21 0h2m18 0h2m9 0h2m1 0h2m14 0h2m-67 1h2m17 0h2m2 0h2m39 0h2m149 0h2m-199 1h2m-8 1h2m7 0h2m4 0h2m-12 1h2m59 0h2m-85 1h2m17 0h2m2 0h2m-13 1h2m-9 1h2m3 0h2m32 0h2m11 0h2m-62 1h2m3 0h2m6 0h2m48 0h2m21 0h2m-83 1h2m28 1h2m53 2h2m-70 1h2m17 0h2m22 0h2m2 0h2m-43 1h2m1 0h2m94 1h2m-55 1h2m-72 6h2m139 2h2m-53 3h2" stroke="#818181" stroke-width="2" fill="none"/>
<rect x="198.3" y="7.6" width="115.2" height="92.1" fill="none" stroke="#111" stroke-width="0.9"/>
<line x1="198.3" y1="7.6" x2="198.3" y2="99.7" stroke="#000" stroke-width="1.3"/>
<line x1="198.3" y1="99.7" x2="313.5" y2="99.7" stroke="#000" stroke-width="1.2"/>
<line x1="253.7" y1="7.6" x2="253.7" y2="99.7" stroke="#000" stroke-width="1.35"/>
<line x1="198.3" y1="46.9" x2="313.5" y2="46.9" stroke="#000" stroke-width="1.35"/>
<line x1="195.7" y1="99.7" x2="198.3" y2="99.7" stroke="#000" stroke-width="1"/>
<line x1="196.4" y1="92.77" x2="198.3" y2="92.77" stroke="#111" stroke-width="0.8"/>
<line x1="196.4" y1="88.71" x2="198.3" y2="88.71" stroke="#111" stroke-width="0.8"/>
<line x1="196.4" y1="85.84" x2="198.3" y2="85.84" stroke="#111" stroke-width="0.8"/>
<line x1="196.4" y1="83.61" x2="198.3" y2="83.61" stroke="#111" stroke-width="0.8"/>
<line x1="196.4" y1="81.78" x2="198.3" y2="81.78" stroke="#111" stroke-width="0.8"/>
<line x1="196.4" y1="80.24" x2="198.3" y2="80.24" stroke="#111" stroke-width="0.8"/>
<line x1="196.4" y1="78.91" x2="198.3" y2="78.91" stroke="#111" stroke-width="0.8"/>
<line x1="196.4" y1="77.73" x2="198.3" y2="77.73" stroke="#111" stroke-width="0.8"/>
<g transform="translate(192.5 98.4) rotate(-90)">
<text transform="translate(-5.75 0) scale(0.82 1)" font-family='"Liberation Sans","DejaVu Sans",sans-serif' font-size="7.8" stroke="#000" stroke-width="0.25">10</text>
<text x="1.9" y="-4" font-family='"Liberation Sans","DejaVu Sans",sans-serif' font-size="7.4" stroke="#000" stroke-width="0.25">0</text>
</g>
<line x1="195.7" y1="76.67" x2="198.3" y2="76.67" stroke="#000" stroke-width="1"/>
<line x1="196.4" y1="69.74" x2="198.3" y2="69.74" stroke="#111" stroke-width="0.8"/>
<line x1="196.4" y1="65.69" x2="198.3" y2="65.69" stroke="#111" stroke-width="0.8"/>
<line x1="196.4" y1="62.81" x2="198.3" y2="62.81" stroke="#111" stroke-width="0.8"/>
<line x1="196.4" y1="60.58" x2="198.3" y2="60.58" stroke="#111" stroke-width="0.8"/>
<line x1="196.4" y1="58.76" x2="198.3" y2="58.76" stroke="#111" stroke-width="0.8"/>
<line x1="196.4" y1="57.22" x2="198.3" y2="57.22" stroke="#111" stroke-width="0.8"/>
<line x1="196.4" y1="55.88" x2="198.3" y2="55.88" stroke="#111" stroke-width="0.8"/>
<line x1="196.4" y1="54.7" x2="198.3" y2="54.7" stroke="#111" stroke-width="0.8"/>
<g transform="translate(192.5 76.67) rotate(-90)">
<text transform="translate(-5.75 0) scale(0.82 1)" font-family='"Liberation Sans","DejaVu Sans",sans-serif' font-size="7.8" stroke="#000" stroke-width="0.25">10</text>
<text x="1.9" y="-4" font-family='"Liberation Sans","DejaVu Sans",sans-serif' font-size="7.4" stroke="#000" stroke-width="0.25">1</text>
</g>
<line x1="195.7" y1="53.65" x2="198.3" y2="53.65" stroke="#000" stroke-width="1"/>
<line x1="196.4" y1="46.72" x2="198.3" y2="46.72" stroke="#111" stroke-width="0.8"/>
<line x1="196.4" y1="42.66" x2="198.3" y2="42.66" stroke="#111" stroke-width="0.8"/>
<line x1="196.4" y1="39.79" x2="198.3" y2="39.79" stroke="#111" stroke-width="0.8"/>
<line x1="196.4" y1="37.56" x2="198.3" y2="37.56" stroke="#111" stroke-width="0.8"/>
<line x1="196.4" y1="35.73" x2="198.3" y2="35.73" stroke="#111" stroke-width="0.8"/>
<line x1="196.4" y1="34.19" x2="198.3" y2="34.19" stroke="#111" stroke-width="0.8"/>
<line x1="196.4" y1="32.86" x2="198.3" y2="32.86" stroke="#111" stroke-width="0.8"/>
<line x1="196.4" y1="31.68" x2="198.3" y2="31.68" stroke="#111" stroke-width="0.8"/>
<g transform="translate(192.5 53.65) rotate(-90)">
<text transform="translate(-5.75 0) scale(0.82 1)" font-family='"Liberation Sans","DejaVu Sans",sans-serif' font-size="7.8" stroke="#000" stroke-width="0.25">10</text>
<text x="1.9" y="-4" font-family='"Liberation Sans","DejaVu Sans",sans-serif' font-size="7.4" stroke="#000" stroke-width="0.25">2</text>
</g>
<line x1="195.7" y1="30.62" x2="198.3" y2="30.62" stroke="#000" stroke-width="1"/>
<line x1="196.4" y1="23.69" x2="198.3" y2="23.69" stroke="#111" stroke-width="0.8"/>
<line x1="196.4" y1="19.64" x2="198.3" y2="19.64" stroke="#111" stroke-width="0.8"/>
<line x1="196.4" y1="16.76" x2="198.3" y2="16.76" stroke="#111" stroke-width="0.8"/>
<line x1="196.4" y1="14.53" x2="198.3" y2="14.53" stroke="#111" stroke-width="0.8"/>
<line x1="196.4" y1="12.71" x2="198.3" y2="12.71" stroke="#111" stroke-width="0.8"/>
<line x1="196.4" y1="11.17" x2="198.3" y2="11.17" stroke="#111" stroke-width="0.8"/>
<line x1="196.4" y1="9.83" x2="198.3" y2="9.83" stroke="#111" stroke-width="0.8"/>
<line x1="196.4" y1="8.65" x2="198.3" y2="8.65" stroke="#111" stroke-width="0.8"/>
<g transform="translate(192.5 30.62) rotate(-90)">
<text transform="translate(-5.75 0) scale(0.82 1)" font-family='"Liberation Sans","DejaVu Sans",sans-serif' font-size="7.8" stroke="#000" stroke-width="0.25">10</text>
<text x="1.9" y="-4" font-family='"Liberation Sans","DejaVu Sans",sans-serif' font-size="7.4" stroke="#000" stroke-width="0.25">3</text>
</g>
<line x1="195.7" y1="7.6" x2="198.3" y2="7.6" stroke="#000" stroke-width="1"/>
<g transform="translate(192.5 7.6) rotate(-90)">
<text transform="translate(-5.75 0) scale(0.82 1)" font-family='"Liberation Sans","DejaVu Sans",sans-serif' font-size="7.8" stroke="#000" stroke-width="0.25">10</text>
<text x="1.9" y="-4" font-family='"Liberation Sans","DejaVu Sans",sans-serif' font-size="7.4" stroke="#000" stroke-width="0.25">4</text>
</g>
<text x="199.1" y="17.4" font-family='"Liberation Serif","DejaVu Serif",serif' font-size="12.6" font-weight="bold" text-anchor="start" fill="#000">36.8</text>
<text x="311.8" y="18.2" font-family='"Liberation Serif","DejaVu Serif",serif' font-size="12.6" font-weight="bold" text-anchor="end" fill="#000">5.7</text>
<text x="201.9" y="96.8" font-family='"Liberation Serif","DejaVu Serif",serif' font-size="12.6" font-weight="bold" text-anchor="start" fill="#000">56.1</text>
<text x="312" y="97.7" font-family='"Liberation Serif","DejaVu Serif",serif' font-size="12.6" font-weight="bold" text-anchor="end" fill="#000">1.4</text>
</g>
<g>
<path transform="scale(0.5)" d="M414 256h2m3 0h2m5 0h2m14 0h2m4 0h2m11 0h2m11 0h3m9 0h2m1 0h2m13 0h2m5 0h2m5 0h2m11 0h2m10 0h2m-138 1h2m6 0h2m7 0h2m3 0h2m1 0h2m5 0h2m1 0h3m1 0h5m5 0h2m0 0h4m2 0h3m0 0h3m4 0h2m0 0h2m0 0h2m15 0h2m3 0h2m6 0h2m-109 1h2m9 0h2m3 0h2m13 0h2m3 0h3m1 0h3m0 0h2m4 0h2m1 0h2m0 0h2m4 0h2m0 0h2m0 0h3m2 0h2m0 0h3m0 0h2m4 0h3m32 0h2m15 0h2m-124 1h2m1 0h2m0 0h2m20 0h2m1 0h6m7 0h3m1 0h2m1 0h3m1 0h3m0 0h2m1 0h2m0 0h2m1 0h3m0 0h2m8 0h3m5 0h2m4 0h2m0 0h2m3 0h2m21 0h2m-130 1h2m14 0h2m1 0h2m5 0h2m5 0h2m2 0h4m0 0h2m2 0h2m0 0h3m1 0h3m1 0h3m3 0h2m0 0h2m3 0h2m1 0h2m9 0h2m0 0h2m18 0h2m5 0h2m-109 1h2m2 0h2m20 0h2m5 0h3m0 0h3m4 0h2m0 0h2m3 0h2m1 0h2m0 0h4m2 0h4m3 0h2m2 0h3m31 0h3m3 0h2m5 0h2m11 0h2m-131 1h2m2 0h2m2 0h2m2 0h2m7 0h2m1 0h2m1 0h5m3 0h2m6 0h2m0 0h2m3 0h3m6 0h4m0 0h3m2 0h2m1 0h2m0 0h2m1 0h2m10 0h2m7 0h2m6 0h2m17 0h2m-136 1h2m2 0h2m4 0h2m5 0h2m2 0h2m3 0h3m3 0h2m2 0h2m1 0h2m2 0h4m0 0h2m3 0h3m2 0h3m1 0h5m1 0h2m2 0h2m0 0h2m0 0h3m2 0h2m17 0h2m0 0h2m10 0h2m-110 1h2m0 0h2m3 0h2m9 0h2m0 0h2m2 0h3m3 0h3m2 0h5m4 0h2m0 0h2m2 0h4m1 0h2m3 0h3m1 0h2m0 0h3m2 0h2m1 0h2m1 0h3m6 0h2m1 0h2m24 0h2m15 0h3m-125 1h2m7 0h3m4 0h2m0 0h3m4 0h4m5 0h3m4 0h3m3 0h2m2 0h2m0 0h2m0 0h5m1 0h2m2 0h3m1 0h2m2 0h2m0 0h3m3 0h2m15 0h2m0 0h2m7 0h2m-115 1h2m3 0h2m1 0h2m15 0h2m0 0h2m0 0h4m0 0h4m0 0h2m0 0h2m0 0h6m0 0h2m1 0h2m0 0h3m1 0h2m0 0h4m1 0h4m2 0h2m2 0h3m31 0h2m-117 1h2m14 0h2m10 0h2m6 0h2m1 0h2m0 0h3m2 0h2m0 0h2m0 0h2m1 0h3m8 0h4m0 0h2m1 0h2m0 0h2m11 0h2m0 0h2m20 0h3m0 0h2m9 0h2m0 0h2m0 0h2m9 0h2m-127 1h2m1 0h3m4 0h2m2 0h2m1 0h4m0 0h2m4 0h2m4 0h4m0 0h5m0 0h2m0 0h6m0 0h2m0 0h2m3 0h2m7 0h2m5 0h2m7 0h2m4 0h2m5 0h4m4 0h2m0 0h2m3 0h2m12 0h2m-127 1h2m23 0h2m0 0h2m4 0h2m1 0h2m1 0h2m1 0h3m1 0h3m0 0h2m0 0h4m0 0h2m0 0h3m9 0h2m6 0h2m25 0h2m-112 1h2m8 0h2m0 0h2m2 0h2m8 0h2m2 0h3m0 0h3m0 0h2m0 0h5m1 0h3m0 0h2m0 0h8m2 0h2m4 0h2m0 0h4m2 0h2m12 0h2m5 0h2m4 0h2m0 0h2m26 0h2m77 0h2m-211 1h2m0 0h3m6 0h3m2 0h5m4 0h2m0 0h2m1 0h2m0 0h2m0 0h4m0 0h2m0 0h2m1 0h2m0 0h2m2 0h2m7 0h2m0 0h3m0 0h2m1 0h3m9 0h2m6 0h2m12 0h2m12 0h2m0 0h2m-116 1h2m3 0h2m7 0h2m0 0h2m4 0h2m5 0h2m1 0h6m0 0h4m0 0h2m0 0h4m1 0h3m3 0h4m0 0h2m0 0h4m2 0h2m1 0h2m0 0h2m6 0h2m12 0h2m8 0h2m1 0h2m0 0h2m2 0h2m16 0h2m-146 1h2m8 0h2m23 0h2m1 0h2m0 0h2m2 0h2m0 0h3m0 0h2m0 0h2m1 0h4m1 0h2m6 0h2m3 0h2m2 0h2m1 0h3m0 0h3m16 0h2m19 0h2m8 0h2m7 0h2m-136 1h2m7 0h2m22 0h2m2 0h2m2 0h2m1 0h2m0 0h4m0 0h2m0 0h2m1 0h2m5 0h2m0 0h3m0 0h3m0 0h5m13 0h2m5 0h2m17 0h2m6 0h2m5 0h2m-132 1h2m2 0h2m0 0h2m0 0h3m1 0h2m8 0h3m0 0h2m0 0h3m2 0h3m1 0h2m2 0h7m0 0h3m0 0h2m1 0h2m1 0h5m0 0h3m0 0h2m0 0h3m0 0h2m0 0h2m9 0h2m0 0h2m4 0h2m5 0h2m4 0h2m6 0h2m4 0h2m3 0h2m-107 1h2m3 0h2m4 0h3m2 0h2m0 0h3m2 0h2m0 0h2m0 0h2m2 0h3m3 0h5m3 0h2m1 0h2m1 0h3m2 0h3m4 0h2m4 0h2m4 0h2m5 0h2m9 0h2m14 0h2m-126 1h2m1 0h2m1 0h2m8 0h2m4 0h2m3 0h5m0 0h3m0 0h7m0 0h5m0 0h2m0 0h6m3 0h7m6 0h2m0 0h2m0 0h2m24 0h2m0 0h3m8 0h2m10 0h3m0 0h2m-140 1h2m3 0h2m6 0h2m1 0h2m26 0h2m0 0h3m0 0h2m1 0h2m0 0h4m0 0h3m2 0h2m0 0h2m0 0h3m0 0h2m5 0h2m0 0h2m22 0h3m0 0h2m4 0h2m5 0h2m12 0h2m-131 1h2m2 0h3m4 0h2m14 0h2m7 0h2m4 0h2m0 0h2m0 0h2m3 0h2m4 0h2m0 0h2m0 0h2m0 0h2m3 0h2m2 0h3m3 0h2m2 0h2m0 0h2m15 0h2m7 0h2m0 0h3m6 0h2m-123 1h2m4 0h2m21 0h5m1 0h2m0 0h2m3 0h4m1 0h2m1 0h4m3 0h4m0 0h2m0 0h2m1 0h2m0 0h3m0 0h4m8 0h2m34 0h2m13 0h2m-133 1h2m10 0h2m5 0h2m8 0h2m0 0h3m1 0h2m2 0h2m1 0h3m2 0h2m0 0h2m0 0h2m0 0h2m1 0h3m0 0h4m0 0h4m0 0h2m4 0h2m6 0h2m5 0h3m1 0h3m7 0h2m4 0h2m2 0h2m3 0h2m3 0h2m-110 1h3m8 0h2m4 0h3m0 0h4m0 0h3m2 0h3m0 0h4m0 0h2m5 0h2m5 0h3m1 0h2m0 0h3m2 0h2m2 0h2m2 0h2m3 0h2m0 0h2m20 0h2m1 0h2m0 0h2m6 0h2m7 0h2m64 0h2m-196 1h2m7 0h2m8 0h2m9 0h3m2 0h4m5 0h3m0 0h2m0 0h3m0 0h2m0 0h2m2 0h2m2 0h3m0 0h3m4 0h4m1 0h2m7 0h2m14 0h2m2 0h2m12 0h2m-132 1h2m2 0h2m30 0h2m0 0h3m1 0h3m16 0h2m0 0h2m0 0h3m2 0h2m3 0h2m3 0h4m5 0h2m14 0h2m11 0h3m-112 1h2m0 0h3m5 0h2m1 0h2m5 0h2m3 0h2m0 0h2m0 0h4m0 0h2m5 0h3m0 0h2m0 0h2m4 0h3m0 0h2m2 0h2m0 0h2m2 0h2m0 0h2m1 0h2m1 0h2m1 0h2m18 0h2m4 0h2m0 0h2m6 0h2m2 0h2m-108 1h2m13 0h3m0 0h2m4 0h2m0 0h2m2 0h2m1 0h3m0 0h2m1 0h2m0 0h4m0 0h2m1 0h3m0 0h5m3 0h2m0 0h2m0 0h2m4 0h2m10 0h2m12 0h2m11 0h2m13 0h2m-140 1h2m5 0h2m24 0h2m0 0h2m0 0h2m2 0h3m1 0h3m1 0h2m2 0h2m0 0h2m2 0h3m0 0h3m3 0h2m22 0h2m9 0h2m18 0h2m10 0h2m36 0h2m-170 1h2m19 0h2m1 0h2m1 0h2m0 0h2m0 0h3m3 0h2m2 0h2m2 0h3m3 0h3m5 0h2m1 0h3m0 0h4m0 0h4m1 0h2m0 0h2m1 0h2m0 0h2m22 0h2m13 0h2m-124 1h2m6 0h2m1 0h2m11 0h2m1 0h2m3 0h2m1 0h2m2 0h3m1 0h2m0 0h3m0 0h2m7 0h2m0 0h2m0 0h2m0 0h6m1 0h2m1 0h2m2 0h2m17 0h2m10 0h2m4 0h2m7 0h2m-133 1h2m0 0h3m5 0h3m1 0h2m1 0h2m0 0h3m3 0h2m9 0h2m3 0h2m1 0h2m1 0h2m0 0h2m0 0h4m3 0h2m0 0h3m1 0h3m0 0h2m0 0h2m0 0h2m1 0h4m7 0h2m1 0h2m3 0h2m28 0h2m-106 1h2m1 0h2m2 0h3m11 0h3m0 0h2m0 0h2m0 0h3m4 0h2m0 0h3m1 0h3m1 0h3m0 0h3m0 0h2m6 0h3m1 0h2m1 0h2m4 0h2m8 0h2m5 0h2m2 0h2m7 0h2m-96 1h3m0 0h2m0 0h2m0 0h2m0 0h2m0 0h2m1 0h2m0 0h2m5 0h2m0 0h4m0 0h2m0 0h4m0 0h2m1 0h2m3 0h2m3 0h2m1 0h2m1 0h2m5 0h2m0 0h2m8 0h2m18 0h2m1 0h2m-99 1h2m4 0h2m1 0h2m1 0h3m0 0h3m6 0h2m1 0h5m2 0h2m0 0h3m1 0h2m0 0h5m6 0h2m0 0h4m12 0h2m11 0h2m1 0h2m-96 1h4m15 0h2m3 0h2m1 0h3m0 0h2m3 0h2m0 0h5m0 0h5m0 0h3m0 0h4m2 0h2m4 0h2m3 0h2m0 0h2m6 0h2m8 0h2m2 0h2m11 0h2m-122 1h2m0 0h2m4 0h2m5 0h3m1 0h2m9 0h2m2 0h5m3 0h3m0 0h2m0 0h3m3 0h2m0 0h4m0 0h2m0 0h4m0 0h3m0 0h2m1 0h2m0 0h2m2 0h3m3 0h2m4 0h3m18 0h2m2 0h2m8 0h2m3 0h2m0 0h2m-124 1h2m5 0h2m9 0h2m8 0h2m2 0h2m1 0h2m0 0h4m2 0h2m1 0h3m0 0h2m1 0h2m0 0h2m0 0h2m1 0h4m0 0h2m0 0h2m0 0h2m4 0h2m0 0h3m4 0h2m29 0h2m47 0h2m-169 1h2m13 0h2m1 0h2m1 0h2m5 0h2m0 0h2m0 0h2m1 0h3m0 0h3m0 0h4m0 0h2m0 0h3m1 0h2m3 0h3m0 0h2m1 0h4m0 0h3m2 0h2m8 0h2m34 0h2m-100 1h2m6 0h2m2 0h2m0 0h3m0 0h2m2 0h3m3 0h4m2 0h2m9 0h2m0 0h2m0 0h2m0 0h2m1 0h2m8 0h2m7 0h2m0 0h2m22 0h3m2 0h2m1 0h2m-120 1h2m1 0h2m3 0h2m4 0h2m2 0h2m2 0h4m0 0h2m3 0h2m3 0h2m0 0h3m1 0h2m0 0h2m5 0h4m0 0h2m0 0h2m0 0h3m3 0h2m6 0h2m2 0h2m7 0h2m2 0h2m8 0h2m2 0h2m37 0h2m-159 1h2m7 0h2m1 0h2m14 0h2m2 0h3m0 0h2m2 0h3m3 0h2m0 0h2m4 0h2m0 0h2m0 0h4m4 0h2m0 0h2m0 0h4m0 0h2m1 0h3m3 0h2m10 0h2m8 0h2m10 0h2m11 0h2m-123 1h2m1 0h2m0 0h2m4 0h2m4 0h2m10 0h2m1 0h2m0 0h2m0 0h3m2 0h5m2 0h3m1 0h2m1 0h2m0 0h2m2 0h3m5 0h2m14 0h2m4 0h2m16 0h2m7 0h3m2 0h2m-96 1h2m2 0h2m1 0h2m0 0h3m1 0h2m0 0h5m0 0h3m3 0h3m0 0h3m0 0h2m1 0h2m2 0h2m0 0h3m10 0h2m2 0h2m0 0h2m7 0h2m19 0h2m-128 1h2m10 0h2m15 0h2m0 0h2m4 0h2m0 0h2m1 0h2m10 0h3m0 0h2m1 0h2m0 0h2m0 0h2m0 0h2m3 0h3m0 0h2m7 0h2m0 0h2m10 0h2m13 0h3m6 0h2m3 0h2m-117 1h2m3 0h2m1 0h2m5 0h2m12 0h2m0 0h4m0 0h2m3 0h2m2 0h2m3 0h2m1 0h4m0 0h2m2 0h2m1 0h2m0 0h2m0 0h2m5 0h2m0 0h2m6 0h2m12 0h2m6 0h2m-108 1h3m0 0h2m7 0h3m9 0h2m1 0h2m0 0h3m0 0h2m2 0h3m0 0h2m5 0h2m0 0h3m3 0h2m1 0h2m0 0h2m2 0h3m0 0h2m31 0h2m11 0h3m6 0h2m-129 1h2m2 0h2m3 0h3m6 0h2m4 0h2m0 0h2m3 0h2m1 0h2m2 0h5m1 0h4m0 0h2m0 0h3m0 0h2m2 0h3m0 0h4m5 0h3m3 0h3m27 0h2m1 0h2m4 0h2m3 0h2m8 0h2m-138 1h2m15 0h2m5 0h2m1 0h2m8 0h2m2 0h2m2 0h2m0 0h2m1 0h2m0 0h2m0 0h2m0 0h3m3 0h2m0 0h3m3 0h2m0 0h3m0 0h2m1 0h4m0 0h2m2 0h2m31 0h4m0 0h2m-110 1h2m17 0h2m0 0h3m6 0h2m0 0h2m0 0h3m1 0h3m6 0h5m0 0h3m0 0h3m0 0h3m2 0h3m25 0h2m3 0h2m7 0h2m46 0h2m-171 1h2m3 0h2m15 0h2m0 0h2m2 0h2m6 0h4m5 0h5m0 0h2m0 0h3m0 0h2m0 0h2m1 0h2m1 0h4m1 0h3m5 0h2m2 0h2m0 0h2m15 0h2m9 0h2m5 0h3m11 0h2m-126 1h2m6 0h2m6 0h2m16 0h3m4 0h3m0 0h4m0 0h2m2 0h3m0 0h2m0 0h2m0 0h4m0 0h2m0 0h3m0 0h2m1 0h2m0 0h3m0 0h2m2 0h2m0 0h2m12 0h2m1 0h2m3 0h2m4 0h2m-104 1h2m9 0h2m13 0h2m0 0h3m0 0h2m1 0h2m0 0h2m1 0h2m1 0h3m0 0h2m0 0h5m0 0h2m5 0h3m2 0h2m2 0h2m3 0h2m6 0h2m30 0h2m-117 1h2m5 0h2m5 0h2m0 0h2m3 0h3m4 0h3m1 0h2m1 0h4m0 0h2m1 0h3m0 0h3m0 0h3m4 0h3m1 0h2m1 0h2m0 0h4m0 0h2m3 0h2m3 0h2m7 0h2m22 0h2m12 0h2m-126 1h2m3 0h4m2 0h2m10 0h2m2 0h3m1 0h3m2 0h2m5 0h4m2 0h2m3 0h2m1 0h3m1 0h2m4 0h2m0 0h2m0 0h2m0 0h2m11 0h2m8 0h2m7 0h2m10 0h2m-122 1h2m28 0h2m0 0h2m2 0h3m2 0h2m1 0h2m6 0h6m5 0h2m2 0h3m5 0h2m14 0h3m1 0h2m3 0h2m6 0h2m-115 1h2m3 0h2m2 0h3m10 0h2m4 0h2m3 0h2m3 0h2m0 0h3m0 0h2m1 0h2m1 0h2m0 0h2m0 0h2m4 0h2m0 0h2m3 0h2m1 0h5m1 0h4m1 0h3m4 0h2m6 0h2m15 0h2m-107 1h2m4 0h2m23 0h2m2 0h6m4 0h2m1 0h2m0 0h3m0 0h3m1 0h2m1 0h2m0 0h2m0 0h2m0 0h2m7 0h2m1 0h2m4 0h3m0 0h2m-93 1h2m20 0h3m4 0h2m1 0h5m1 0h3m0 0h2m2 0h3m1 0h2m2 0h3m2 0h3m0 0h2m3 0h2m2 0h2m4 0h3m-81 1h2m2 0h2m7 0h2m4 0h2m0 0h3m2 0h2m1 0h2m2 0h2m6 0h3m0 0h2m1 0h4m4 0h2m1 0h4m1 0h2m0 0h2m1 0h4m0 0h2m1 0h2m1 0h5m21 0h2m-88 1h3m6 0h2m0 0h3m3 0h2m1 0h2m1 0h6m3 0h3m1 0h3m2 0h3m0 0h2m0 0h2m4 0h2m3 0h2m9 0h2m3 0h2m-90 1h2m9 0h2m0 0h2m2 0h2m0 0h2m4 0h2m3 0h3m0 0h2m0 0h2m1 0h3m0 0h3m0 0h3m3 0h3m0 0h7m0 0h2m0 0h2m4 0h2m2 0h2m0 0h2m5 0h2m0 0h2m5 0h2m18 0h2m-101 1h2m3 0h2m7 0h2m5 0h2m2 0h4m0 0h2m0 0h3m0 0h2m2 0h2m3 0h6m1 0h2m1 0h2m0 0h4m1 0h3m1 0h3m4 0h2m1 0h2m22 0h2m-114 1h2m1 0h2m6 0h2m1 0h2m0 0h2m1 0h2m6 0h2m1 0h2m1 0h2m0 0h2m3 0h5m3 0h2m2 0h2m1 0h3m3 0h2m0 0h2m0 0h2m1 0h2m1 0h2m5 0h2m9 0h2m4 0h2m7 0h2m7 0h2m-119 1h2m15 0h2m11 0h3m3 0h2m2 0h5m0 0h2m2 0h3m0 0h2m1 0h2m0 0h4m0 0h7m0 0h2m3 0h4m2 0h2m-72 1h2m7 0h2m4 0h3m3 0h3m2 0h2m2 0h3m1 0h2m6 0h2m0 0h3m0 0h3m0 0h3m0 0h3m1 0h2m0 0h4m5 0h2m0 0h2m0 0h3m3 0h3m0 0h2m8 0h2m9 0h2m-102 1h2m4 0h2m4 0h2m5 0h2m4 0h2m0 0h5m1 0h2m1 0h2m0 0h2m0 0h2m0 0h3m2 0h2m0 0h4m0 0h2m0 0h2m0 0h3m2 0h2m0 0h3m2 0h2m16 0h2m-98 1h2m3 0h3m4 0h2m6 0h2m9 0h2m2 0h2m3 0h3m2 0h4m1 0h3m4 0h2m0 0h4m2 0h2m1 0h2m1 0h3m1 0h2m14 0h2m1 0h2m-98 1h2m14 0h2m9 0h2m3 0h2m5 0h2m1 0h4m1 0h3m3 0h2m1 0h2m2 0h2m0 0h2m1 0h3m2 0h5m1 0h2m0 0h2m3 0h3m1 0h2m8 0h3m-102 1h2m20 0h2m6 0h2m1 0h2m7 0h3m0 0h2m2 0h2m0 0h3m0 0h3m2 0h3m1 0h2m4 0h2m0 0h3m1 0h2m0 0h2m2 0h3m2 0h2m3 0h2m9 0h2m-91 1h2m3 0h2m1 0h2m4 0h2m3 0h2m1 0h3m0 0h2m1 0h3m1 0h3m5 0h2m0 0h7m1 0h2m1 0h2m0 0h2m0 0h3m1 0h5m0 0h2m1 0h2m0 0h2m6 0h2m2 0h2m1 0h2m-94 1h2m11 0h2m3 0h2m4 0h2m6 0h5m3 0h2m0 0h6m0 0h3m0 0h2m4 0h2m3 0h3m0 0h5m7 0h2m6 0h2m9 0h2m-86 1h2m0 0h4m7 0h2m1 0h2m1 0h2m1 0h4m0 0h4m0 0h2m0 0h2m0 0h2m1 0h3m0 0h2m1 0h2m1 0h2m0 0h3m0 0h3m0 0h2m0 0h6m0 0h2m1 0h2m11 0h3m4 0h3m0 0h2m-83 1h2m5 0h2m7 0h2m2 0h2m2 0h3m3 0h2m4 0h4m0 0h4m0 0h2m0 0h6m0 0h2m6 0h2m5 0h2m4 0h2m-90 1h2m1 0h2m3 0h3m10 0h2m2 0h2m0 0h2m2 0h2m3 0h2m0 0h2m0 0h4m0 0h3m5 0h2m0 0h2m0 0h3m0 0h2m2 0h2m1 0h2m0 0h2m5 0h3m0 0h2m13 0h2m40 0h2m-148 1h2m16 0h2m8 0h2m0 0h2m5 0h2m1 0h3m1 0h2m0 0h2m4 0h2m0 0h2m4 0h2m0 0h2m0 0h3m1 0h2m1 0h2m4 0h3m0 0h3m3 0h2m5 0h2m0 0h2m-99 1h2m9 0h2m0 0h2m2 0h2m7 0h2m6 0h2m6 0h2m2 0h3m0 0h5m0 0h4m0 0h4m0 0h5m3 0h2m0 0h2m0 0h2m0 0h5m1 0h2m4 0h2m-80 1h3m4 0h2m1 0h2m1 0h2m5 0h2m3 0h3m2 0h2m4 0h4m1 0h2m0 0h2m4 0h2m2 0h2m5 0h3m0 0h3m2 0h2m1 0h2m0 0h2m0 0h2m0 0h2m7 0h2m6 0h2m-75 1h2m6 0h2m8 0h4m1 0h3m0 0h2m1 0h2m0 0h6m0 0h3m2 0h2m1 0h2m0 0h2m3 0h2m54 0h2m32 0h2m-172 1h3m13 0h2m1 0h2m0 0h3m2 0h2m5 0h2m4 0h2m1 0h2m1 0h2m0 0h2m0 0h2m2 0h4m2 0h2m1 0h2m0 0h2m0 0h3m2 0h2m1 0h2m5 0h4m3 0h2m12 0h2m-96 1h2m0 0h2m0 0h2m1 0h2m2 0h2m3 0h4m1 0h2m0 0h2m2 0h2m3 0h3m2 0h2m0 0h2m0 0h2m0 0h2m1 0h2m3 0h3m0 0h4m0 0h4m3 0h2m0 0h2m1 0h3m0 0h3m1 0h2m1 0h2m0 0h2m-84 1h2m1 0h3m0 0h2m0 0h2m0 0h3m6 0h3m2 0h2m0 0h2m0 0h2m5 0h2m6 0h2m0 0h4m0 0h3m4 0h3m1 0h3m0 0h3m0 0h4m2 0h3m2 0h4m-82 1h4m2 0h5m0 0h2m1 0h2m4 0h2m2 0h2m0 0h2m2 0h3m2 0h2m2 0h2m2 0h3m2 0h2m0 0h4m0 0h3m0 0h4m0 0h2m0 0h2m1 0h3m1 0h3m0 0h3m0 0h4m0 0h2m23 0h2m-108 1h2m1 0h2m2 0h2m1 0h2m0 0h3m2 0h4m0 0h2m0 0h4m4 0h3m1 0h2m4 0h2m0 0h2m0 0h2m0 0h3m0 0h5m3 0h4m0 0h5m1 0h2m1 0h2m0 0h3m0 0h3m10 0h2m7 0h2m-106 1h2m9 0h6m2 0h2m0 0h2m1 0h3m0 0h2m1 0h2m9 0h3m2 0h2m0 0h3m5 0h2m0 0h4m0 0h2m1 0h4m1 0h2m0 0h6m0 0h2m1 0h3m1 0h2m-79 1h2m6 0h2m2 0h2m2 0h3m1 0h5m0 0h5m0 0h2m2 0h4m0 0h2m1 0h2m3 0h2m0 0h2m0 0h3m0 0h6m2 0h2m0 0h2m0 0h2m3 0h5m2 0h3m4 0h2m2 0h3m22 0h3m9 0h2m-137 1h3m10 0h2m0 0h5m0 0h2m0 0h2m0 0h3m4 0h5m0 0h3m2 0h3m5 0h2m0 0h4m3 0h2m2 0h3m8 0h3m6 0h2m0 0h4m1 0h2m3 0h2m2 0h2m11 0h2m1 0h2m0 0h2m10 0h2m1 0h2m-122 1h2m7 0h4m1 0h2m1 0h4m0 0h2m0 0h3m0 0h3m0 0h3m1 0h2m2 0h6m4 0h5m1 0h3m3 0h4m0 0h3m0 0h2m0 0h2m0 0h3m0 0h2m0 0h2m0 0h3m45 0h2m-127 1h3m3 0h3m2 0h5m0 0h2m1 0h2m0 0h7m1 0h2m2 0h5m0 0h2m3 0h2m2 0h5m1 0h2m0 0h2m1 0h2m3 0h2m0 0h3m3 0h2m3 0h3m5 0h2m-90 1h2m2 0h2m5 0h2m0 0h2m1 0h4m1 0h3m2 0h2m2 0h2m0 0h3m0 0h3m0 0h3m1 0h5m0 0h10m1 0h2m1 0h4m0 0h5m1 0h5m1 0h2m6 0h2m-95 1h2m4 0h2m1 0h2m2 0h2m3 0h2m0 0h3m0 0h2m1 0h2m3 0h2m2 0h6m1 0h2m2 0h5m1 0h2m0 0h2m6 0h3m0 0h2m0 0h2m1 0h2m0 0h3m0 0h2m0 0h3m0 0h2m3 0h2m5 0h5m2 0h2m28 0h2m11 0h2m-135 1h2m5 0h3m1 0h2m0 0h2m1 0h3m1 0h2m0 0h3m0 0h4m2 0h2m2 0h2m0 0h8m1 0h3m0 0h2m1 0h3m1 0h2m2 0h3m1 0h4m0 0h3m0 0h2m3 0h4m-85 1h2m3 0h2m1 0h2m3 0h3m3 0h2m1 0h2m2 0h2m0 0h2m0 0h2m5 0h3m1 0h2m1 0h2m2 0h2m0 0h4m0 0h2m1 0h2m1 0h2m0 0h3m2 0h3m0 0h2m0 0h4m0 0h2m0 0h2m0 0h2m1 0h4m0 0h2m8 0h2m7 0h2m17 0h2m8 0h2m5 0h2m-140 1h2m6 0h2m2 0h4m0 0h4m0 0h5m0 0h5m1 0h3m0 0h3m0 0h3m1 0h4m1 0h2m1 0h2m3 0h4m1 0h6m1 0h2m0 0h4m0 0h2m0 0h2m0 0h2m3 0h4m1 0h2m1 0h2m12 0h2m-113 1h2m5 0h3m1 0h2m0 0h2m2 0h2m1 0h2m0 0h4m0 0h7m0 0h3m0 0h2m0 0h3m3 0h2m0 0h2m1 0h2m1 0h3m4 0h2m3 0h2m2 0h3m4 0h2m1 0h3m1 0h5m2 0h3m0 0h3m26 0h2m-117 1h2m0 0h2m1 0h4m1 0h4m0 0h10m4 0h3m0 0h2m0 0h2m3 0h3m1 0h3m1 0h2m0 0h3m5 0h2m0 0h3m2 0h2m2 0h3m0 0h3m0 0h6m1 0h4m1 0h2m9 0h2m10 0h2m-104 1h3m4 0h2m1 0h2m1 0h3m2 0h3m0 0h8m0 0h2m3 0h2m0 0h2m1 0h3m2 0h2m0 0h3m3 0h5m0 0h3m2 0h3m0 0h3m0 0h3m0 0h3m1 0h3m0 0h4m21 0h2m22 0h2m-139 1h2m7 0h2m1 0h4m1 0h3m1 0h3m1 0h2m0 0h2m0 0h3m4 0h2m0 0h3m0 0h2m0 0h2m1 0h6m1 0h2m6 0h2m2 0h2m3 0h2m0 0h3m0 0h2m2 0h2m0 0h2m3 0h2m0 0h2m-87 1h3m6 0h2m0 0h3m3 0h2m0 0h2m1 0h3m2 0h2m1 0h2m0 0h2m0 0h2m2 0h2m1 0h6m6 0h2m1 0h2m4 0h2m3 0h2m3 0h2m0 0h4m1 0h2m5 0h3m4 0h2m-88 1h3m0 0h2m1 0h3m0 0h2m3 0h2m3 0h3m2 0h3m1 0h2m0 0h4m0 0h2m2 0h2m0 0h2m1 0h9m1 0h4m3 0h4m3 0h4m2 0h3m0 0h2m0 0h2m-83 1h3m2 0h2m1 0h2m0 0h3m3 0h3m0 0h2m0 0h3m0 0h2m1 0h3m2 0h2m1 0h3m1 0h2m2 0h2m4 0h2m0 0h2m2 0h2m1 0h2m1 0h3m1 0h2m1 0h2m3 0h3m1 0h2m0 0h2m7 0h2m0 0h2m11 0h2m22 0h2m-132 1h3m1 0h2m2 0h2m1 0h2m1 0h2m1 0h2m3 0h2m0 0h3m1 0h2m0 0h3m0 0h3m0 0h2m2 0h2m1 0h2m0 0h2m1 0h4m0 0h5m1 0h3m1 0h6m1 0h2m1 0h2m2 0h2m3 0h4m10 0h2m34 0h2m-131 1h2m3 0h2m1 0h3m2 0h2m0 0h3m0 0h2m0 0h2m1 0h6m0 0h5m3 0h2m3 0h3m1 0h2m0 0h2m1 0h4m1 0h5m2 0h2m1 0h2m0 0h3m0 0h2m1 0h2m4 0h2m4 0h2m-90 1h2m6 0h2m1 0h3m1 0h2m0 0h2m0 0h2m0 0h2m1 0h2m1 0h2m4 0h2m0 0h2m2 0h3m1 0h3m0 0h4m0 0h3m0 0h2m1 0h2m2 0h6m2 0h3m0 0h2m1 0h3m0 0h2m0 0h2m2 0h2m0 0h3m14 0h2m-110 1h2m11 0h2m0 0h4m0 0h3m2 0h2m4 0h3m0 0h2m4 0h2m2 0h2m10 0h4m0 0h2m0 0h2m0 0h4m0 0h2m1 0h3m0 0h10m0 0h2m0 0h2m5 0h2m0 0h2m2 0h2m-86 1h4m2 0h2m1 0h5m0 0h2m0 0h2m0 0h2m0 0h3m2 0h2m0 0h2m5 0h2m1 0h2m0 0h3m1 0h2m0 0h2m0 0h6m0 0h3m1 0h5m3 0h2m0 0h2m1 0h2m1 0h3m6 0h2m3 0h2m-98 1h2m4 0h2m0 0h2m1 0h2m3 0h2m1 0h6m0 0h4m1 0h2m3 0h5m3 0h3m0 0h3m0 0h4m1 0h2m0 0h2m0 0h4m1 0h3m3 0h2m0 0h2m1 0h2m1 0h3m0 0h3m1 0h3m2 0h5m2 0h2m-95 1h2m1 0h2m2 0h2m3 0h2m0 0h2m0 0h2m2 0h2m2 0h2m0 0h2m2 0h2m0 0h5m1 0h2m2 0h2m0 0h3m0 0h2m2 0h2m2 0h5m0 0h2m0 0h2m0 0h4m0 0h2m0 0h3m1 0h2m2 0h2m18 0h2m7 0h2m21 0h2m-132 1h2m10 0h2m1 0h2m0 0h3m0 0h7m0 0h3m0 0h3m1 0h5m2 0h4m1 0h2m0 0h3m0 0h2m0 0h4m0 0h2m0 0h3m0 0h2m1 0h3m0 0h2m3 0h2m0 0h2m0 0h2m5 0h3m14 0h2m-100 1h3m5 0h2m0 0h2m0 0h2m2 0h2m4 0h3m0 0h2m0 0h2m0 0h2m0 0h2m0 0h2m3 0h2m2 0h3m1 0h5m3 0h6m0 0h5m1 0h2m1 0h3m0 0h2m0 0h2m0 0h3m1 0h2m11 0h3m6 0h2m-110 1h2m3 0h2m0 0h3m3 0h7m1 0h2m0 0h4m1 0h5m0 0h3m0 0h4m0 0h2m2 0h2m0 0h2m1 0h2m0 0h4m0 0h2m0 0h4m0 0h4m1 0h2m1 0h2m0 0h6m5 0h2m10 0h2m3 0h2m0 0h2m22 0h2m-132 1h2m11 0h2m4 0h2m0 0h3m0 0h2m0 0h2m2 0h3m2 0h2m1 0h2m3 0h2m0 0h3m0 0h2m0 0h7m3 0h2m3 0h2m1 0h2m0 0h2m2 0h2m4 0h4m4 0h2m1 0h2m35 0h2m-114 1h3m1 0h2m0 0h3m1 0h3m1 0h3m1 0h3m0 0h3m0 0h3m1 0h2m2 0h2m3 0h9m0 0h2m0 0h3m0 0h4m0 0h5m0 0h3m0 0h4m0 0h5m19 0h2m3 0h2m-113 1h2m9 0h2m1 0h2m6 0h2m0 0h3m1 0h2m0 0h2m0 0h4m0 0h4m1 0h2m0 0h5m2 0h2m0 0h2m0 0h2m0 0h2m0 0h3m1 0h3m4 0h5m0 0h2m3 0h2m3 0h2m6 0h2m42 0h2m2 0h2m-126 1h2m1 0h5m1 0h5m0 0h2m0 0h2m0 0h2m1 0h2m1 0h2m1 0h2m1 0h5m1 0h2m0 0h4m2 0h4m3 0h2m0 0h3m2 0h2m0 0h2m1 0h3m3 0h2m27 0h2m6 0h2m13 0h2m10 0h2m-135 1h2m0 0h3m1 0h3m0 0h2m0 0h4m0 0h2m0 0h2m0 0h4m1 0h2m0 0h2m0 0h3m2 0h2m0 0h3m1 0h3m0 0h2m1 0h2m0 0h3m0 0h2m0 0h4m4 0h3m3 0h2m0 0h2m5 0h2m-87 1h2m8 0h2m1 0h2m0 0h3m0 0h2m2 0h2m0 0h2m0 0h2m0 0h3m1 0h2m6 0h2m0 0h3m0 0h2m1 0h2m2 0h2m7 0h2m2 0h3m12 0h2m43 0h2m-126 1h2m3 0h2m11 0h3m1 0h2m1 0h2m4 0h3m8 0h5m1 0h2m1 0h5m2 0h2m3 0h2m0 0h2m0 0h2m9 0h2m12 0h2m-100 1h2m7 0h2m7 0h2m1 0h3m2 0h3m2 0h3m2 0h4m0 0h2m0 0h2m1 0h3m3 0h6m0 0h2m0 0h4m1 0h3m4 0h2m0 0h2m2 0h2m1 0h2m26 0h2m-105 1h2m11 0h2m2 0h2m3 0h2m0 0h3m0 0h4m0 0h2m4 0h3m1 0h2m0 0h2m0 0h5m1 0h2m0 0h5m1 0h3m1 0h2m5 0h2m1 0h2m-79 1h2m11 0h2m15 0h2m0 0h5m1 0h2m0 0h10m4 0h2m1 0h3m1 0h2m24 0h2m2 0h2m24 0h2m-112 1h2m8 0h2m0 0h3m2 0h2m4 0h2m4 0h2m0 0h4m4 0h2m3 0h4m3 0h4m0 0h2m3 0h2m0 0h2m25 0h2m6 0h2m19 0h2m-108 1h3m5 0h2m1 0h2m2 0h3m0 0h5m0 0h2m1 0h2m0 0h2m2 0h3m1 0h2m1 0h2m0 0h3m0 0h4m2 0h2m0 0h2m2 0h3m-50 1h2m2 0h3m2 0h3m0 0h2m2 0h2m2 0h3m0 0h2m1 0h4m3 0h2m0 0h3m0 0h2m6 0h2m10 0h2m7 0h2m7 0h2m-108 1h2m7 0h2m1 0h2m3 0h2m4 0h2m9 0h2m1 0h2m0 0h2m0 0h2m0 0h4m0 0h3m6 0h2m4 0h2m0 0h2m0 0h2m0 0h2m23 0h2m2 0h2m11 0h2m0 0h2m8 0h2m16 0h2m-130 1h2m1 0h2m1 0h2m5 0h2m3 0h2m3 0h2m0 0h6m2 0h3m0 0h3m0 0h4m0 0h2m0 0h2m0 0h2m0 0h4m0 0h4m9 0h2m17 0h2m0 0h2m-100 1h2m13 0h2m3 0h2m11 0h2m1 0h2m4 0h2m2 0h3m6 0h4m0 0h3m1 0h2m4 0h2m36 0h2m-100 1h2m10 0h2m0 0h2m3 0h2m6 0h2m4 0h2m3 0h2m1 0h3m2 0h2m2 0h3m0 0h2m0 0h2m0 0h2m11 0h2m11 0h2m-67 1h2m9 0h2m2 0h2m3 0h3m0 0h2m0 0h2m1 0h4m2 0h2m0 0h2m3 0h2m18 0h2m24 0h2m-101 1h2m15 0h2m5 0h2m2 0h3m2 0h2m9 0h2m5 0h2m-56 1h2m15 0h2m7 0h2m0 0h2m20 0h2m13 0h2m35 0h2m21 0h2m-116 1h2m12 0h2m11 0h2m1 0h2m-35 1h2m30 0h2m0 0h3m9 0h2m2 0h2m2 0h2m0 0h2m4 0h2m8 0h2m22 0h2m-114 1h2m3 0h2m26 0h2m17 0h2m7 0h2m18 0h2m14 0h2m21 0h2m-96 1h2m1 0h2m25 0h2m0 0h2m3 0h2m23 0h2m1 0h2m1 0h2m35 0h2m-89 1h2m1 0h2m18 0h2m30 0h2m19 0h2m-102 1h2m1 0h2m20 0h2m2 0h2m25 0h2m8 0h2m0 0h2m5 0h2m27 0h2m-97 1h2m3 0h2m57 0h2m0 0h2m-94 1h2m3 0h2m2 0h2m7 0h2m30 0h2m1 0h2m0 0h2m10 0h2m6 0h2m6 0h2m-42 1h2m20 0h2m0 0h2m1 0h2m20 0h2m4 0h2m0 0h2m-95 1h2m1 0h2m25 0h2m25 0h2m131 0h2m-192 1h2m8 0h2m40 0h2m2 0h2m2 0h2m17 0h2m-92 1h2m11 0h2m19 0h2m13 0h2m1 0h2m54 0h2m8 0h2m-101 1h2m42 0h3m-32 1h2m6 0h2m12 0h2m28 0h2m16 0h2m-64 1h2m11 0h2m3 0h2m41 0h2m52 0h2m-162 1h2m32 0h2m12 0h2m41 0h2m-67 1h2m1 0h2m24 0h2m6 0h2m33 0h2m8 0h2m0 0h2m-56 1h2m1 0h2m10 0h2m6 0h2m3 0h2m-59 1h2m42 0h2m4 0h2m14 0h2m-86 1h2m76 0h2m24 0h2m-115 1h2m75 0h2m7 0h2m1 0h2m-32 1h2m-31 1h2m133 0h2m-114 1h2m34 0h2m-72 1h2m-23 1h2m67 0h2m6 0h2m109 5h2" stroke="#818181" stroke-width="2" fill="none"/>
<rect x="198.1" y="126.9" width="115.4" height="91.8" fill="none" stroke="#111" stroke-width="0.9"/>
<line x1="198.1" y1="126.9" x2="198.1" y2="218.7" stroke="#000" stroke-width="1.3"/>
<line x1="198.1" y1="218.7" x2="313.5" y2="218.7" stroke="#000" stroke-width="1.2"/>
<line x1="252.2" y1="126.9" x2="252.2" y2="218.7" stroke="#000" stroke-width="1.35"/>
<line x1="198.1" y1="167.4" x2="313.5" y2="167.4" stroke="#000" stroke-width="1.35"/>
<line x1="195.5" y1="218.7" x2="198.1" y2="218.7" stroke="#000" stroke-width="1"/>
<line x1="196.2" y1="211.79" x2="198.1" y2="211.79" stroke="#111" stroke-width="0.8"/>
<line x1="196.2" y1="207.75" x2="198.1" y2="207.75" stroke="#111" stroke-width="0.8"/>
<line x1="196.2" y1="204.88" x2="198.1" y2="204.88" stroke="#111" stroke-width="0.8"/>
<line x1="196.2" y1="202.66" x2="198.1" y2="202.66" stroke="#111" stroke-width="0.8"/>
<line x1="196.2" y1="200.84" x2="198.1" y2="200.84" stroke="#111" stroke-width="0.8"/>
<line x1="196.2" y1="199.3" x2="198.1" y2="199.3" stroke="#111" stroke-width="0.8"/>
<line x1="196.2" y1="197.97" x2="198.1" y2="197.97" stroke="#111" stroke-width="0.8"/>
<line x1="196.2" y1="196.8" x2="198.1" y2="196.8" stroke="#111" stroke-width="0.8"/>
<g transform="translate(192.3 217.4) rotate(-90)">
<text transform="translate(-5.75 0) scale(0.82 1)" font-family='"Liberation Sans","DejaVu Sans",sans-serif' font-size="7.8" stroke="#000" stroke-width="0.25">10</text>
<text x="1.9" y="-4" font-family='"Liberation Sans","DejaVu Sans",sans-serif' font-size="7.4" stroke="#000" stroke-width="0.25">0</text>
</g>
<line x1="195.5" y1="195.75" x2="198.1" y2="195.75" stroke="#000" stroke-width="1"/>
<line x1="196.2" y1="188.84" x2="198.1" y2="188.84" stroke="#111" stroke-width="0.8"/>
<line x1="196.2" y1="184.8" x2="198.1" y2="184.8" stroke="#111" stroke-width="0.8"/>
<line x1="196.2" y1="181.93" x2="198.1" y2="181.93" stroke="#111" stroke-width="0.8"/>
<line x1="196.2" y1="179.71" x2="198.1" y2="179.71" stroke="#111" stroke-width="0.8"/>
<line x1="196.2" y1="177.89" x2="198.1" y2="177.89" stroke="#111" stroke-width="0.8"/>
<line x1="196.2" y1="176.35" x2="198.1" y2="176.35" stroke="#111" stroke-width="0.8"/>
<line x1="196.2" y1="175.02" x2="198.1" y2="175.02" stroke="#111" stroke-width="0.8"/>
<line x1="196.2" y1="173.85" x2="198.1" y2="173.85" stroke="#111" stroke-width="0.8"/>
<g transform="translate(192.3 195.75) rotate(-90)">
<text transform="translate(-5.75 0) scale(0.82 1)" font-family='"Liberation Sans","DejaVu Sans",sans-serif' font-size="7.8" stroke="#000" stroke-width="0.25">10</text>
<text x="1.9" y="-4" font-family='"Liberation Sans","DejaVu Sans",sans-serif' font-size="7.4" stroke="#000" stroke-width="0.25">1</text>
</g>
<line x1="195.5" y1="172.8" x2="198.1" y2="172.8" stroke="#000" stroke-width="1"/>
<line x1="196.2" y1="165.89" x2="198.1" y2="165.89" stroke="#111" stroke-width="0.8"/>
<line x1="196.2" y1="161.85" x2="198.1" y2="161.85" stroke="#111" stroke-width="0.8"/>
<line x1="196.2" y1="158.98" x2="198.1" y2="158.98" stroke="#111" stroke-width="0.8"/>
<line x1="196.2" y1="156.76" x2="198.1" y2="156.76" stroke="#111" stroke-width="0.8"/>
<line x1="196.2" y1="154.94" x2="198.1" y2="154.94" stroke="#111" stroke-width="0.8"/>
<line x1="196.2" y1="153.4" x2="198.1" y2="153.4" stroke="#111" stroke-width="0.8"/>
<line x1="196.2" y1="152.07" x2="198.1" y2="152.07" stroke="#111" stroke-width="0.8"/>
<line x1="196.2" y1="150.9" x2="198.1" y2="150.9" stroke="#111" stroke-width="0.8"/>
<g transform="translate(192.3 172.8) rotate(-90)">
<text transform="translate(-5.75 0) scale(0.82 1)" font-family='"Liberation Sans","DejaVu Sans",sans-serif' font-size="7.8" stroke="#000" stroke-width="0.25">10</text>
<text x="1.9" y="-4" font-family='"Liberation Sans","DejaVu Sans",sans-serif' font-size="7.4" stroke="#000" stroke-width="0.25">2</text>
</g>
<line x1="195.5" y1="149.85" x2="198.1" y2="149.85" stroke="#000" stroke-width="1"/>
<line x1="196.2" y1="142.94" x2="198.1" y2="142.94" stroke="#111" stroke-width="0.8"/>
<line x1="196.2" y1="138.9" x2="198.1" y2="138.9" stroke="#111" stroke-width="0.8"/>
<line x1="196.2" y1="136.03" x2="198.1" y2="136.03" stroke="#111" stroke-width="0.8"/>
<line x1="196.2" y1="133.81" x2="198.1" y2="133.81" stroke="#111" stroke-width="0.8"/>
<line x1="196.2" y1="131.99" x2="198.1" y2="131.99" stroke="#111" stroke-width="0.8"/>
<line x1="196.2" y1="130.45" x2="198.1" y2="130.45" stroke="#111" stroke-width="0.8"/>
<line x1="196.2" y1="129.12" x2="198.1" y2="129.12" stroke="#111" stroke-width="0.8"/>
<line x1="196.2" y1="127.95" x2="198.1" y2="127.95" stroke="#111" stroke-width="0.8"/>
<g transform="translate(192.3 149.85) rotate(-90)">
<text transform="translate(-5.75 0) scale(0.82 1)" font-family='"Liberation Sans","DejaVu Sans",sans-serif' font-size="7.8" stroke="#000" stroke-width="0.25">10</text>
<text x="1.9" y="-4" font-family='"Liberation Sans","DejaVu Sans",sans-serif' font-size="7.4" stroke="#000" stroke-width="0.25">3</text>
</g>
<line x1="195.5" y1="126.9" x2="198.1" y2="126.9" stroke="#000" stroke-width="1"/>
<g transform="translate(192.3 126.9) rotate(-90)">
<text transform="translate(-5.75 0) scale(0.82 1)" font-family='"Liberation Sans","DejaVu Sans",sans-serif' font-size="7.8" stroke="#000" stroke-width="0.25">10</text>
<text x="1.9" y="-4" font-family='"Liberation Sans","DejaVu Sans",sans-serif' font-size="7.4" stroke="#000" stroke-width="0.25">4</text>
</g>
<line x1="198.1" y1="218.7" x2="198.1" y2="221.3" stroke="#000" stroke-width="1"/>
<line x1="206.78" y1="218.7" x2="206.78" y2="220.6" stroke="#111" stroke-width="0.8"/>
<line x1="211.86" y1="218.7" x2="211.86" y2="220.6" stroke="#111" stroke-width="0.8"/>
<line x1="215.47" y1="218.7" x2="215.47" y2="220.6" stroke="#111" stroke-width="0.8"/>
<line x1="218.27" y1="218.7" x2="218.27" y2="220.6" stroke="#111" stroke-width="0.8"/>
<line x1="220.55" y1="218.7" x2="220.55" y2="220.6" stroke="#111" stroke-width="0.8"/>
<line x1="222.48" y1="218.7" x2="222.48" y2="220.6" stroke="#111" stroke-width="0.8"/>
<line x1="224.15" y1="218.7" x2="224.15" y2="220.6" stroke="#111" stroke-width="0.8"/>
<line x1="225.63" y1="218.7" x2="225.63" y2="220.6" stroke="#111" stroke-width="0.8"/>
<g transform="translate(197.3 230.9)">
<text transform="translate(-3.85 0) scale(0.82 1)" font-family='"Liberation Sans","DejaVu Sans",sans-serif' font-size="7.8" stroke="#000" stroke-width="0.25">10</text>
<text x="2.6" y="-3.8" font-family='"Liberation Sans","DejaVu Sans",sans-serif' font-size="7.4" stroke="#000" stroke-width="0.25">0</text>
</g>
<line x1="226.95" y1="218.7" x2="226.95" y2="221.3" stroke="#000" stroke-width="1"/>
<line x1="235.63" y1="218.7" x2="235.63" y2="220.6" stroke="#111" stroke-width="0.8"/>
<line x1="240.71" y1="218.7" x2="240.71" y2="220.6" stroke="#111" stroke-width="0.8"/>
<line x1="244.32" y1="218.7" x2="244.32" y2="220.6" stroke="#111" stroke-width="0.8"/>
<line x1="247.12" y1="218.7" x2="247.12" y2="220.6" stroke="#111" stroke-width="0.8"/>
<line x1="249.4" y1="218.7" x2="249.4" y2="220.6" stroke="#111" stroke-width="0.8"/>
<line x1="251.33" y1="218.7" x2="251.33" y2="220.6" stroke="#111" stroke-width="0.8"/>
<line x1="253" y1="218.7" x2="253" y2="220.6" stroke="#111" stroke-width="0.8"/>
<line x1="254.48" y1="218.7" x2="254.48" y2="220.6" stroke="#111" stroke-width="0.8"/>
<g transform="translate(226.65 230.9)">
<text transform="translate(-3.85 0) scale(0.82 1)" font-family='"Liberation Sans","DejaVu Sans",sans-serif' font-size="7.8" stroke="#000" stroke-width="0.25">10</text>
<text x="2.6" y="-3.8" font-family='"Liberation Sans","DejaVu Sans",sans-serif' font-size="7.4" stroke="#000" stroke-width="0.25">1</text>
</g>
<line x1="255.8" y1="218.7" x2="255.8" y2="221.3" stroke="#000" stroke-width="1"/>
<line x1="264.48" y1="218.7" x2="264.48" y2="220.6" stroke="#111" stroke-width="0.8"/>
<line x1="269.56" y1="218.7" x2="269.56" y2="220.6" stroke="#111" stroke-width="0.8"/>
<line x1="273.17" y1="218.7" x2="273.17" y2="220.6" stroke="#111" stroke-width="0.8"/>
<line x1="275.97" y1="218.7" x2="275.97" y2="220.6" stroke="#111" stroke-width="0.8"/>
<line x1="278.25" y1="218.7" x2="278.25" y2="220.6" stroke="#111" stroke-width="0.8"/>
<line x1="280.18" y1="218.7" x2="280.18" y2="220.6" stroke="#111" stroke-width="0.8"/>
<line x1="281.85" y1="218.7" x2="281.85" y2="220.6" stroke="#111" stroke-width="0.8"/>
<line x1="283.33" y1="218.7" x2="283.33" y2="220.6" stroke="#111" stroke-width="0.8"/>
<g transform="translate(255.5 230.9)">
<text transform="translate(-3.85 0) scale(0.82 1)" font-family='"Liberation Sans","DejaVu Sans",sans-serif' font-size="7.8" stroke="#000" stroke-width="0.25">10</text>
<text x="2.6" y="-3.8" font-family='"Liberation Sans","DejaVu Sans",sans-serif' font-size="7.4" stroke="#000" stroke-width="0.25">2</text>
</g>
<line x1="284.65" y1="218.7" x2="284.65" y2="221.3" stroke="#000" stroke-width="1"/>
<line x1="293.33" y1="218.7" x2="293.33" y2="220.6" stroke="#111" stroke-width="0.8"/>
<line x1="298.41" y1="218.7" x2="298.41" y2="220.6" stroke="#111" stroke-width="0.8"/>
<line x1="302.02" y1="218.7" x2="302.02" y2="220.6" stroke="#111" stroke-width="0.8"/>
<line x1="304.82" y1="218.7" x2="304.82" y2="220.6" stroke="#111" stroke-width="0.8"/>
<line x1="307.1" y1="218.7" x2="307.1" y2="220.6" stroke="#111" stroke-width="0.8"/>
<line x1="309.03" y1="218.7" x2="309.03" y2="220.6" stroke="#111" stroke-width="0.8"/>
<line x1="310.7" y1="218.7" x2="310.7" y2="220.6" stroke="#111" stroke-width="0.8"/>
<line x1="312.18" y1="218.7" x2="312.18" y2="220.6" stroke="#111" stroke-width="0.8"/>
<g transform="translate(283.35 230.9)">
<text transform="translate(-3.85 0) scale(0.82 1)" font-family='"Liberation Sans","DejaVu Sans",sans-serif' font-size="7.8" stroke="#000" stroke-width="0.25">10</text>
<text x="2.6" y="-3.8" font-family='"Liberation Sans","DejaVu Sans",sans-serif' font-size="7.4" stroke="#000" stroke-width="0.25">3</text>
</g>
<line x1="313.5" y1="218.7" x2="313.5" y2="221.3" stroke="#000" stroke-width="1"/>
<g transform="translate(310.7 230.9)">
<text transform="translate(-3.85 0) scale(0.82 1)" font-family='"Liberation Sans","DejaVu Sans",sans-serif' font-size="7.8" stroke="#000" stroke-width="0.25">10</text>
<text x="2.6" y="-3.8" font-family='"Liberation Sans","DejaVu Sans",sans-serif' font-size="7.4" stroke="#000" stroke-width="0.25">4</text>
</g>
<text x="200.9" y="137.1" font-family='"Liberation Sans","DejaVu Sans",sans-serif' font-size="11" font-weight="bold" text-anchor="start" fill="#000">47.3</text>
<text x="310.3" y="137.5" font-family='"Liberation Serif","DejaVu Serif",serif' font-size="12.6" font-weight="bold" text-anchor="end" fill="#000">1.9</text>
<text x="202.3" y="217.7" font-family='"Liberation Serif","DejaVu Serif",serif' font-size="12.6" font-weight="bold" text-anchor="start" fill="#000">50.5</text>
<text x="309.2" y="217.1" font-family='"Liberation Serif","DejaVu Serif",serif' font-size="12.6" font-weight="bold" text-anchor="end" fill="#000">0.4</text>
</g>
<g>
<path transform="scale(0.5)" d="M742 21h2m2 0h2m163 4h2m-180 3h2m22 1h2m-2 2h2m3 0h2m-40 1h2m29 1h2m33 0h2m-62 1h2m17 0h2m17 0h2m0 0h2m11 0h2m-33 1h2m1 0h2m3 0h2m0 0h2m-13 1h2m2 0h3m16 0h3m-43 1h2m13 0h2m3 0h2m1 0h2m8 0h2m1 0h3m0 0h2m15 0h2m-53 1h2m3 0h2m1 0h2m2 0h2m6 0h2m8 0h2m11 0h2m-19 1h3m0 0h2m5 0h2m2 0h2m3 0h2m39 0h2m-69 1h2m0 0h2m1 0h3m1 0h3m0 0h3m3 0h2m1 0h3m6 0h2m1 0h2m-43 1h2m6 0h2m0 0h3m2 0h4m6 0h2m3 0h2m1 0h2m-65 1h2m25 0h2m4 0h2m2 0h4m0 0h3m2 0h2m14 0h2m-64 1h2m14 0h2m2 0h2m16 0h4m1 0h2m12 0h2m4 0h2m58 0h2m-105 1h2m6 0h2m2 0h2m5 0h2m0 0h2m5 0h2m0 0h2m0 0h3m1 0h2m-35 1h2m2 0h2m2 0h2m2 0h2m3 0h2m2 0h2m9 0h2m2 0h3m-49 1h2m6 0h2m0 0h2m5 0h2m4 0h3m0 0h2m1 0h2m1 0h3m1 0h2m4 0h2m6 0h2m3 0h2m0 0h2m6 0h2m-73 1h2m12 0h2m2 0h2m6 0h3m1 0h2m14 0h2m1 0h2m0 0h2m1 0h2m1 0h2m-60 1h2m13 0h2m1 0h2m4 0h2m2 0h2m0 0h3m0 0h2m3 0h5m1 0h2m3 0h2m0 0h2m2 0h2m-58 1h2m16 0h2m7 0h2m0 0h2m1 0h2m0 0h2m4 0h2m0 0h2m0 0h3m16 0h2m1 0h2m2 0h2m-52 1h5m2 0h2m3 0h3m0 0h2m4 0h4m0 0h2m0 0h2m0 0h2m1 0h2m1 0h2m0 0h2m0 0h2m0 0h2m-44 1h2m1 0h2m9 0h2m2 0h2m5 0h2m1 0h4m0 0h2m1 0h3m0 0h3m3 0h2m-69 1h2m18 0h2m9 0h2m2 0h2m2 0h2m0 0h2m3 0h3m2 0h3m0 0h2m0 0h2m0 0h2m1 0h4m2 0h2m3 0h2m-84 1h2m8 0h2m2 0h2m1 0h2m4 0h2m5 0h2m3 0h3m2 0h4m0 0h4m0 0h2m2 0h2m0 0h2m6 0h3m4 0h2m7 0h2m-65 1h2m5 0h2m0 0h2m0 0h2m6 0h2m0 0h6m0 0h4m2 0h2m0 0h2m2 0h3m1 0h3m0 0h2m1 0h3m0 0h4m0 0h2m9 0h2m1 0h2m-100 1h2m46 0h3m3 0h2m3 0h2m3 0h3m0 0h2m9 0h2m0 0h2m1 0h2m-58 1h2m6 0h2m3 0h2m1 0h3m2 0h3m1 0h3m3 0h4m6 0h2m0 0h2m1 0h2m0 0h2m1 0h2m6 0h2m0 0h2m17 0h2m-71 1h2m3 0h2m1 0h2m13 0h2m0 0h2m2 0h2m0 0h2m0 0h2m3 0h3m-80 1h2m32 0h2m9 0h2m2 0h2m0 0h2m8 0h2m0 0h2m1 0h2m0 0h2m3 0h3m0 0h2m1 0h3m2 0h4m2 0h2m0 0h3m-70 1h2m14 0h3m2 0h2m1 0h3m1 0h2m2 0h2m1 0h2m8 0h3m1 0h5m1 0h2m2 0h2m0 0h2m8 0h3m72 0h2m-160 1h2m26 0h2m1 0h2m5 0h3m1 0h4m2 0h2m1 0h3m0 0h3m1 0h2m0 0h2m0 0h2m1 0h3m2 0h2m2 0h2m0 0h4m-92 1h2m39 0h2m7 0h2m10 0h2m2 0h2m5 0h4m0 0h3m0 0h2m2 0h3m0 0h2m2 0h2m-73 1h2m10 0h2m0 0h2m8 0h2m3 0h2m0 0h4m0 0h2m0 0h2m3 0h2m2 0h3m0 0h2m5 0h4m0 0h2m1 0h2m2 0h2m7 0h2m0 0h2m-53 1h2m3 0h2m0 0h4m0 0h2m1 0h2m0 0h2m3 0h2m3 0h3m1 0h2m9 0h2m6 0h2m-58 1h2m1 0h2m0 0h2m2 0h2m1 0h3m0 0h2m10 0h2m2 0h2m0 0h4m2 0h5m19 0h2m-71 1h2m2 0h2m6 0h2m1 0h3m0 0h2m0 0h3m1 0h3m1 0h2m1 0h2m2 0h2m0 0h3m4 0h2m-59 1h2m1 0h2m3 0h2m4 0h2m1 0h2m1 0h2m4 0h2m0 0h5m3 0h2m0 0h2m5 0h4m0 0h2m0 0h4m4 0h2m0 0h2m0 0h2m1 0h5m3 0h2m-68 1h2m3 0h2m3 0h2m11 0h2m5 0h2m0 0h2m0 0h3m0 0h2m0 0h2m1 0h2m2 0h3m1 0h2m10 0h2m-45 1h2m3 0h2m2 0h2m0 0h5m3 0h2m1 0h2m1 0h2m0 0h2m0 0h3m5 0h2m2 0h2m2 0h2m9 0h2m10 0h2m-79 1h2m1 0h2m0 0h2m2 0h5m12 0h5m4 0h2m0 0h2m0 0h2m0 0h3m0 0h2m0 0h2m7 0h2m-60 1h2m8 0h2m0 0h3m1 0h2m0 0h2m2 0h2m0 0h2m4 0h2m6 0h2m4 0h2m7 0h2m-69 1h2m0 0h2m10 0h2m9 0h2m6 0h2m9 0h2m1 0h3m3 0h2m5 0h2m0 0h4m10 0h2m-47 1h2m0 0h2m1 0h3m3 0h2m1 0h2m4 0h3m0 0h2m10 0h3m-67 1h2m25 0h2m8 0h2m1 0h4m2 0h2m5 0h2m0 0h2m1 0h2m-56 1h2m7 0h2m2 0h2m12 0h2m0 0h2m7 0h3m2 0h2m1 0h3m3 0h2m2 0h2m1 0h2m2 0h2m-42 1h2m0 0h3m0 0h3m1 0h2m2 0h3m5 0h2m6 0h2m2 0h3m5 0h2m3 0h2m-59 1h2m3 0h3m3 0h2m1 0h2m3 0h2m7 0h2m0 0h3m0 0h2m0 0h2m2 0h2m3 0h2m0 0h2m-55 1h2m4 0h2m0 0h2m4 0h2m10 0h2m0 0h2m0 0h2m1 0h2m3 0h2m2 0h2m0 0h2m0 0h2m4 0h3m3 0h2m-38 1h2m3 0h2m4 0h3m11 0h2m-51 1h2m15 0h2m16 0h2m3 0h2m142 0h2m-180 1h3m22 0h2m0 0h2m2 0h2m15 0h2m-31 1h2m3 0h2m0 0h2m1 0h2m4 0h2m2 0h2m-51 1h2m12 0h2m9 0h2m0 0h2m11 0h3m1 0h3m0 0h2m8 0h2m-46 1h2m19 0h2m9 0h2m11 0h2m-57 1h2m8 0h2m19 0h2m-35 1h2m29 0h2m15 0h2m4 0h2m2 0h2m-11 2h2m3 1h2m-13 1h2m-16 2h2m11 0h2m87 1h2m-139 1h2m22 0h2m4 0h2m9 0h2m25 0h2m1 0h2m-41 1h2m20 0h2m0 0h2m-32 1h2m13 0h2m3 0h2m-27 1h2m-4 1h2m6 0h2m8 0h2m3 0h2m24 0h3m-90 1h2m20 0h2m6 0h2m25 0h2m1 0h2m13 0h2m5 0h2m0 0h2m-88 1h2m55 0h2m15 0h2m10 0h2m-79 1h2m4 0h2m9 0h2m24 0h2m4 0h2m19 0h2m9 0h3m2 0h2m4 0h2m-89 1h2m1 0h2m14 0h2m1 0h2m10 0h2m0 0h2m0 0h2m3 0h2m5 0h2m4 0h3m1 0h2m2 0h2m1 0h2m1 0h2m2 0h2m2 0h2m2 0h4m25 0h2m13 0h2m-115 1h2m0 0h2m6 0h2m5 0h2m14 0h2m11 0h2m4 0h3m6 0h3m-76 1h2m0 0h2m8 0h2m37 0h3m8 0h2m3 0h2m0 0h2m1 0h2m2 0h2m28 0h2m0 0h2m-129 1h2m17 0h2m13 0h2m5 0h2m1 0h2m6 0h2m0 0h2m3 0h2m1 0h2m2 0h2m3 0h2m2 0h2m1 0h3m0 0h2m7 0h3m4 0h2m1 0h2m20 0h2m-120 1h2m12 0h2m11 0h2m1 0h2m7 0h2m2 0h3m3 0h3m20 0h2m8 0h2m10 0h2m1 0h2m5 0h2m4 0h2m0 0h2m1 0h2m12 0h4m-121 1h2m5 0h2m9 0h2m0 0h3m9 0h2m15 0h2m4 0h2m2 0h2m5 0h4m0 0h2m0 0h3m0 0h2m1 0h2m4 0h2m14 0h3m10 0h3m8 0h2m-136 1h2m14 0h2m3 0h2m4 0h2m0 0h3m1 0h2m0 0h2m5 0h2m4 0h2m0 0h2m0 0h2m2 0h2m5 0h2m0 0h3m1 0h4m0 0h3m0 0h3m4 0h2m0 0h2m0 0h2m2 0h3m3 0h2m14 0h2m4 0h2m6 0h2m70 0h2m-195 1h2m5 0h2m11 0h2m1 0h2m11 0h2m1 0h2m3 0h2m2 0h2m0 0h2m0 0h2m1 0h2m0 0h4m0 0h2m1 0h2m0 0h2m5 0h2m0 0h2m0 0h2m1 0h3m2 0h2m2 0h2m1 0h2m5 0h2m1 0h2m10 0h2m3 0h2m3 0h2m1 0h2m-130 1h2m5 0h2m6 0h2m4 0h2m12 0h4m0 0h2m0 0h3m2 0h4m2 0h2m0 0h3m4 0h2m0 0h2m1 0h2m1 0h2m1 0h3m0 0h2m4 0h2m0 0h5m1 0h3m2 0h2m17 0h2m1 0h2m0 0h4m-130 1h2m13 0h2m3 0h3m5 0h2m1 0h3m3 0h2m2 0h2m4 0h2m5 0h2m8 0h2m0 0h3m0 0h6m0 0h4m1 0h2m0 0h2m1 0h2m0 0h2m8 0h2m8 0h2m5 0h2m0 0h4m1 0h2m5 0h2m2 0h3m0 0h2m1 0h2m8 0h3m-136 1h2m9 0h2m4 0h2m2 0h3m0 0h3m1 0h3m3 0h2m0 0h5m0 0h4m0 0h2m1 0h3m1 0h4m3 0h3m0 0h6m0 0h2m0 0h3m2 0h3m0 0h2m1 0h2m1 0h3m3 0h2m0 0h3m9 0h2m2 0h2m1 0h2m1 0h3m7 0h2m0 0h2m1 0h2m59 0h2m-200 1h4m7 0h2m4 0h3m2 0h3m1 0h3m1 0h2m1 0h5m1 0h2m2 0h2m0 0h4m1 0h2m1 0h6m2 0h3m1 0h9m1 0h3m0 0h2m0 0h2m0 0h2m0 0h2m0 0h2m1 0h3m0 0h2m0 0h3m12 0h2m0 0h2m0 0h3m4 0h2m0 0h3m0 0h2m0 0h2m0 0h2m0 0h2m4 0h2m0 0h2m-154 1h2m0 0h2m10 0h2m9 0h2m4 0h2m0 0h2m3 0h2m0 0h2m1 0h2m0 0h6m1 0h4m0 0h5m0 0h2m0 0h4m0 0h2m0 0h3m0 0h4m0 0h2m0 0h5m0 0h4m1 0h2m0 0h4m1 0h2m1 0h4m0 0h3m6 0h2m9 0h2m0 0h3m1 0h3m0 0h2m1 0h6m1 0h2m3 0h5m1 0h2m2 0h2m-156 1h2m2 0h3m21 0h3m3 0h2m3 0h2m1 0h9m0 0h2m1 0h2m0 0h2m0 0h2m0 0h4m0 0h2m0 0h2m1 0h7m0 0h3m0 0h7m0 0h3m0 0h2m0 0h6m0 0h3m0 0h3m1 0h4m3 0h2m0 0h2m0 0h3m2 0h2m0 0h2m1 0h2m3 0h2m3 0h5m0 0h2m4 0h2m6 0h2m-159 1h2m6 0h2m0 0h2m0 0h2m6 0h2m3 0h2m1 0h2m4 0h2m0 0h3m1 0h2m0 0h2m0 0h3m0 0h2m1 0h8m0 0h2m0 0h3m0 0h2m0 0h3m0 0h3m2 0h3m0 0h3m0 0h2m0 0h4m0 0h2m0 0h3m1 0h6m0 0h3m1 0h5m0 0h2m1 0h4m2 0h2m1 0h4m2 0h2m2 0h2m1 0h2m7 0h3m0 0h2m7 0h2m2 0h2m-151 1h2m8 0h4m0 0h2m2 0h2m1 0h2m0 0h2m1 0h2m0 0h2m0 0h3m0 0h5m0 0h2m0 0h6m0 0h5m1 0h4m2 0h2m0 0h4m0 0h4m0 0h2m1 0h7m0 0h3m1 0h6m2 0h3m7 0h4m7 0h8m1 0h3m5 0h3m1 0h2m0 0h2m1 0h2m4 0h3m-153 1h2m4 0h2m15 0h2m1 0h2m0 0h2m0 0h4m1 0h5m0 0h4m0 0h5m0 0h6m1 0h8m1 0h2m1 0h7m0 0h4m1 0h3m0 0h10m1 0h3m0 0h3m0 0h2m1 0h2m0 0h3m0 0h2m0 0h5m1 0h2m0 0h4m1 0h4m0 0h2m3 0h3m1 0h4m0 0h3m0 0h4m1 0h2m7 0h2m-149 1h3m1 0h2m6 0h3m1 0h2m5 0h2m4 0h4m0 0h2m0 0h2m0 0h2m0 0h2m2 0h3m0 0h5m0 0h3m0 0h4m0 0h8m1 0h2m1 0h7m1 0h5m0 0h3m0 0h3m0 0h7m0 0h2m1 0h3m2 0h2m0 0h2m0 0h2m2 0h2m3 0h3m2 0h2m3 0h2m0 0h4m1 0h2m5 0h2m3 0h2m-151 1h2m6 0h2m7 0h2m4 0h4m0 0h2m1 0h4m0 0h4m0 0h2m2 0h4m1 0h2m0 0h2m0 0h8m3 0h6m0 0h14m0 0h7m0 0h2m1 0h2m1 0h3m0 0h5m0 0h2m0 0h3m1 0h3m1 0h2m1 0h2m1 0h2m0 0h2m0 0h5m0 0h2m0 0h2m1 0h2m0 0h2m0 0h2m1 0h2m0 0h3m0 0h2m5 0h2m-155 1h2m2 0h2m0 0h2m2 0h3m5 0h3m1 0h2m0 0h2m1 0h9m0 0h7m3 0h2m0 0h5m1 0h7m0 0h5m3 0h11m0 0h7m0 0h4m0 0h9m3 0h3m0 0h2m1 0h3m0 0h2m3 0h3m1 0h3m4 0h2m0 0h2m0 0h4m0 0h2m1 0h2m7 0h2m-150 1h2m5 0h2m0 0h2m0 0h2m5 0h2m0 0h2m0 0h4m5 0h2m0 0h3m0 0h2m1 0h2m0 0h4m0 0h16m2 0h2m0 0h3m0 0h3m0 0h7m0 0h6m0 0h3m0 0h8m0 0h4m3 0h2m2 0h2m1 0h4m0 0h6m2 0h2m1 0h3m1 0h2m3 0h2m6 0h2m3 0h2m0 0h2m2 0h2m1 0h2m-160 1h2m13 0h2m0 0h2m5 0h3m0 0h4m0 0h2m0 0h3m0 0h2m0 0h6m0 0h3m1 0h2m2 0h3m2 0h4m3 0h2m0 0h4m0 0h2m1 0h2m0 0h5m0 0h3m2 0h2m0 0h8m2 0h8m1 0h5m0 0h5m0 0h3m1 0h4m2 0h2m2 0h3m0 0h3m1 0h2m0 0h4m1 0h4m0 0h3m7 0h2m-161 1h2m3 0h3m5 0h2m0 0h2m3 0h2m0 0h3m1 0h3m0 0h9m0 0h3m0 0h2m0 0h3m0 0h2m2 0h2m1 0h9m0 0h4m0 0h4m0 0h2m0 0h8m0 0h7m0 0h7m0 0h4m0 0h7m0 0h2m0 0h6m1 0h3m0 0h4m9 0h2m3 0h3m1 0h2m6 0h2m0 0h2m2 0h5m-154 1h2m1 0h2m0 0h3m0 0h3m4 0h2m3 0h3m0 0h4m0 0h5m1 0h5m1 0h2m0 0h2m0 0h7m2 0h2m2 0h2m0 0h11m1 0h4m0 0h5m0 0h2m0 0h2m0 0h2m0 0h3m0 0h6m0 0h2m0 0h11m0 0h3m1 0h3m7 0h4m1 0h2m2 0h2m2 0h5m3 0h3m4 0h3m0 0h2m-160 1h2m7 0h2m5 0h3m0 0h2m1 0h2m0 0h3m0 0h6m0 0h2m0 0h4m0 0h3m0 0h3m0 0h8m0 0h15m0 0h2m0 0h3m1 0h11m0 0h5m0 0h2m0 0h3m1 0h3m1 0h6m0 0h2m0 0h4m0 0h3m0 0h3m2 0h2m1 0h3m0 0h2m3 0h2m1 0h3m7 0h2m2 0h3m6 0h2m1 0h2m-162 1h2m0 0h3m1 0h4m2 0h2m0 0h2m2 0h2m0 0h2m4 0h6m0 0h2m0 0h10m1 0h2m0 0h4m0 0h6m1 0h2m1 0h3m0 0h6m0 0h2m1 0h2m1 0h6m0 0h2m0 0h17m0 0h4m0 0h3m0 0h2m0 0h4m0 0h3m0 0h2m0 0h3m1 0h3m1 0h5m2 0h2m0 0h2m2 0h5m1 0h2m0 0h2m3 0h3m8 0h2m-161 1h2m0 0h3m0 0h2m3 0h2m0 0h2m0 0h3m3 0h2m1 0h11m1 0h5m1 0h2m0 0h2m0 0h7m0 0h11m0 0h2m1 0h10m1 0h2m1 0h3m0 0h4m3 0h2m1 0h12m0 0h4m0 0h12m5 0h4m1 0h3m0 0h3m2 0h2m0 0h2m0 0h3m2 0h2m1 0h2m1 0h2m-154 1h2m3 0h2m3 0h2m4 0h9m0 0h15m0 0h3m1 0h3m0 0h5m0 0h3m1 0h3m0 0h3m0 0h2m1 0h2m0 0h6m1 0h3m2 0h7m0 0h10m0 0h9m0 0h4m0 0h2m7 0h2m1 0h5m0 0h2m1 0h2m0 0h2m1 0h2m1 0h8m10 0h2m-164 1h2m7 0h2m2 0h2m1 0h3m0 0h2m1 0h3m1 0h13m0 0h5m0 0h5m0 0h7m0 0h10m0 0h2m0 0h2m0 0h3m1 0h2m1 0h6m0 0h4m1 0h6m0 0h4m0 0h2m0 0h6m0 0h4m0 0h3m0 0h5m0 0h2m0 0h4m2 0h3m0 0h5m0 0h3m5 0h9m2 0h3m2 0h3m4 0h2m-160 1h3m2 0h2m0 0h2m4 0h2m0 0h2m1 0h8m1 0h3m0 0h2m0 0h3m1 0h3m0 0h6m0 0h5m2 0h14m0 0h4m0 0h2m0 0h2m1 0h12m0 0h3m0 0h2m1 0h6m0 0h3m4 0h3m0 0h5m0 0h4m0 0h4m2 0h2m0 0h2m0 0h3m4 0h2m2 0h3m0 0h2m0 0h3m1 0h2m0 0h2m-153 1h2m11 0h2m0 0h2m0 0h2m0 0h3m0 0h3m1 0h7m0 0h4m0 0h3m1 0h3m1 0h3m0 0h3m0 0h2m0 0h12m0 0h2m0 0h4m0 0h4m0 0h6m0 0h6m0 0h5m2 0h4m0 0h3m0 0h4m0 0h2m0 0h3m2 0h2m2 0h3m6 0h2m2 0h3m2 0h4m1 0h2m0 0h2m0 0h2m1 0h3m-154 1h2m3 0h2m5 0h2m5 0h5m0 0h2m0 0h2m0 0h6m0 0h2m0 0h3m0 0h2m0 0h6m0 0h5m0 0h6m0 0h4m1 0h5m1 0h11m0 0h4m2 0h4m0 0h2m0 0h4m2 0h2m0 0h2m0 0h2m2 0h3m1 0h8m0 0h4m1 0h2m1 0h2m0 0h2m3 0h3m0 0h2m0 0h2m3 0h6m2 0h2m0 0h2m-154 1h2m3 0h2m0 0h2m6 0h2m3 0h8m0 0h2m0 0h2m0 0h7m0 0h7m0 0h5m0 0h7m0 0h2m0 0h4m0 0h4m0 0h3m0 0h4m0 0h2m0 0h2m0 0h3m0 0h3m0 0h3m0 0h4m0 0h3m0 0h2m0 0h3m0 0h2m1 0h3m0 0h8m1 0h3m0 0h3m2 0h3m1 0h2m0 0h2m3 0h4m4 0h2m0 0h3m0 0h2m2 0h2m2 0h2m2 0h2m3 0h2m-157 1h2m6 0h5m0 0h5m0 0h3m3 0h3m0 0h2m1 0h2m2 0h30m0 0h7m0 0h3m0 0h2m1 0h5m1 0h5m2 0h2m0 0h5m0 0h2m6 0h3m0 0h2m1 0h2m0 0h2m0 0h2m1 0h2m2 0h2m2 0h4m1 0h2m0 0h2m0 0h2m3 0h4m1 0h2m0 0h2m0 0h2m-155 1h2m0 0h2m0 0h2m1 0h3m1 0h2m3 0h2m0 0h5m0 0h5m0 0h12m1 0h5m0 0h5m0 0h3m0 0h2m0 0h6m0 0h4m1 0h13m0 0h3m0 0h13m0 0h2m2 0h2m0 0h3m0 0h5m0 0h2m0 0h2m0 0h3m0 0h3m0 0h2m1 0h2m0 0h2m3 0h3m1 0h3m1 0h4m2 0h2m0 0h2m3 0h2m7 0h2m-157 1h2m3 0h2m0 0h2m0 0h5m2 0h7m0 0h6m0 0h3m1 0h3m0 0h9m0 0h3m0 0h2m0 0h8m0 0h2m1 0h12m0 0h4m1 0h2m0 0h3m1 0h3m0 0h4m0 0h3m0 0h3m4 0h5m1 0h2m2 0h2m0 0h5m0 0h2m2 0h2m0 0h3m0 0h2m1 0h2m5 0h2m1 0h2m4 0h2m-155 1h2m8 0h2m2 0h2m3 0h2m1 0h5m0 0h11m0 0h10m0 0h2m0 0h2m0 0h3m0 0h3m0 0h9m1 0h7m0 0h3m0 0h2m1 0h4m1 0h4m2 0h2m2 0h2m0 0h7m2 0h2m0 0h6m1 0h2m0 0h3m1 0h3m5 0h2m3 0h2m2 0h2m0 0h2m0 0h2m4 0h2m-155 1h4m3 0h2m1 0h2m1 0h3m4 0h4m1 0h2m1 0h4m0 0h4m0 0h2m0 0h4m0 0h4m3 0h4m0 0h7m3 0h3m0 0h4m1 0h2m0 0h3m0 0h9m0 0h2m1 0h8m1 0h3m5 0h5m4 0h3m0 0h2m0 0h2m1 0h2m0 0h2m3 0h2m0 0h4m2 0h2m1 0h2m2 0h2m1 0h3m-151 1h2m1 0h2m0 0h5m7 0h2m4 0h4m0 0h4m0 0h2m1 0h6m0 0h2m0 0h4m0 0h5m1 0h2m1 0h3m0 0h4m0 0h2m3 0h3m0 0h3m0 0h2m1 0h2m2 0h4m2 0h6m2 0h3m1 0h2m11 0h4m3 0h2m2 0h2m0 0h2m0 0h2m0 0h2m0 0h2m0 0h2m0 0h2m3 0h4m5 0h2m9 0h2m-138 1h2m2 0h3m1 0h2m0 0h2m1 0h2m0 0h2m0 0h18m0 0h9m1 0h3m2 0h3m0 0h11m0 0h2m2 0h2m10 0h4m0 0h5m2 0h2m2 0h5m1 0h2m1 0h2m1 0h2m2 0h2m1 0h3m0 0h2m5 0h2m1 0h5m0 0h2m-157 1h2m3 0h2m2 0h2m9 0h2m0 0h3m6 0h3m0 0h2m0 0h5m0 0h3m0 0h2m3 0h9m0 0h10m0 0h2m0 0h3m2 0h2m1 0h3m0 0h3m0 0h3m0 0h2m1 0h3m0 0h6m1 0h3m12 0h3m1 0h2m1 0h3m0 0h2m1 0h3m1 0h2m5 0h2m2 0h2m1 0h4m7 0h2m0 0h2m-159 1h2m3 0h3m0 0h2m3 0h3m3 0h2m1 0h2m0 0h5m2 0h2m1 0h7m1 0h2m1 0h2m0 0h2m0 0h3m0 0h3m0 0h3m0 0h2m0 0h4m1 0h3m0 0h2m0 0h8m1 0h2m1 0h2m2 0h4m1 0h2m2 0h3m0 0h2m1 0h2m6 0h2m0 0h2m0 0h3m2 0h2m6 0h2m3 0h2m3 0h2m4 0h3m1 0h2m-150 1h3m3 0h2m2 0h2m0 0h3m1 0h3m3 0h2m1 0h3m5 0h3m1 0h3m0 0h3m2 0h4m1 0h3m1 0h2m1 0h3m1 0h10m1 0h5m0 0h3m0 0h4m2 0h3m7 0h3m2 0h2m12 0h2m2 0h4m0 0h3m4 0h2m0 0h2m0 0h2m0 0h2m3 0h2m8 0h3m8 0h2m-154 1h2m0 0h2m11 0h2m2 0h2m0 0h3m1 0h2m1 0h2m3 0h2m0 0h4m1 0h2m0 0h3m2 0h4m2 0h9m0 0h3m2 0h4m8 0h4m0 0h3m1 0h2m9 0h2m5 0h2m1 0h2m17 0h2m6 0h3m11 0h3m-154 1h4m3 0h2m2 0h2m0 0h2m1 0h2m4 0h2m2 0h3m0 0h2m0 0h4m0 0h3m1 0h8m0 0h7m0 0h2m0 0h3m6 0h2m1 0h2m0 0h2m0 0h3m0 0h4m2 0h4m2 0h2m1 0h2m2 0h3m5 0h2m4 0h4m5 0h2m0 0h2m5 0h2m0 0h2m7 0h2m0 0h2m-134 1h2m1 0h3m5 0h2m0 0h2m0 0h3m7 0h2m2 0h2m2 0h4m1 0h2m1 0h2m0 0h4m1 0h2m2 0h2m0 0h3m0 0h2m3 0h3m1 0h2m0 0h3m3 0h2m1 0h2m10 0h4m1 0h2m14 0h2m8 0h2m0 0h2m0 0h2m0 0h2m3 0h2m-143 1h2m4 0h2m0 0h2m7 0h2m0 0h2m2 0h2m3 0h2m2 0h4m0 0h3m0 0h3m2 0h2m1 0h6m0 0h3m0 0h2m4 0h2m0 0h4m0 0h2m1 0h2m0 0h2m0 0h2m4 0h4m0 0h2m0 0h2m1 0h2m0 0h3m1 0h3m0 0h2m3 0h2m7 0h3m3 0h4m6 0h2m-133 1h2m9 0h2m0 0h2m1 0h2m8 0h2m9 0h3m7 0h2m0 0h3m1 0h3m0 0h2m0 0h2m0 0h4m0 0h4m1 0h5m4 0h2m0 0h2m5 0h2m0 0h2m0 0h2m1 0h3m4 0h2m9 0h2m1 0h2m0 0h2m12 0h2m2 0h2m-128 1h4m2 0h2m8 0h2m5 0h2m0 0h2m2 0h2m6 0h2m0 0h2m2 0h2m1 0h3m2 0h2m2 0h2m6 0h2m2 0h2m4 0h2m0 0h2m7 0h2m0 0h2m6 0h2m5 0h2m8 0h2m2 0h3m24 0h2m-155 1h2m2 0h2m2 0h2m4 0h3m2 0h3m1 0h2m3 0h3m0 0h2m3 0h3m8 0h2m0 0h3m3 0h2m1 0h2m3 0h2m2 0h2m1 0h2m0 0h3m0 0h2m0 0h2m0 0h2m0 0h2m2 0h2m0 0h2m1 0h2m2 0h2m1 0h2m31 0h2m-128 1h2m9 0h2m13 0h2m1 0h2m0 0h2m5 0h2m7 0h2m2 0h2m1 0h2m2 0h3m2 0h2m0 0h2m10 0h2m11 0h2m0 0h3m23 0h2m14 0h2m-139 1h2m12 0h2m9 0h2m6 0h2m9 0h2m14 0h2m2 0h2m2 0h2m9 0h2m8 0h2m3 0h2m2 0h2m9 0h3m23 0h2m-133 1h2m6 0h2m9 0h2m1 0h2m0 0h2m10 0h2m9 0h4m5 0h2m11 0h4m3 0h2m1 0h3m7 0h2m23 0h2m-117 1h2m1 0h2m11 0h2m17 0h2m3 0h2m1 0h2m17 0h2m4 0h2m3 0h2m3 0h2m17 0h2m53 0h2m-150 1h2m7 0h2m8 0h2m1 0h2m6 0h2m4 0h2m0 0h2m5 0h2m6 0h2m4 0h2m0 0h2m18 0h2m17 0h2m3 0h2m103 0h2m-207 1h2m0 0h3m14 0h2m7 0h2m12 0h2m29 0h2m1 0h2m28 0h2m45 0h2m-163 1h2m7 0h2m1 0h2m5 0h2m6 0h2m3 0h2m26 0h2m25 0h2m10 0h2m0 0h2m-53 1h4m0 0h2m2 0h2m0 0h2m3 0h2m6 0h2m0 0h2m2 0h2m8 0h2m47 0h2m39 0h2m-181 1h2m12 0h2m2 0h2m6 0h2m0 0h2m4 0h2m37 0h2m16 0h2m-67 1h2m9 0h2m3 0h2m1 0h2m0 0h2m2 0h2m7 0h2m0 0h2m8 0h2m0 0h2m57 0h2m-110 1h2m10 0h2m5 0h2m0 0h3m1 0h2m4 0h2m71 0h2m2 0h2m-105 1h2m4 0h2m11 0h2m3 0h2m1 0h2m0 0h2m10 0h2m22 0h2m31 0h2m-125 1h2m6 0h3m9 0h2m12 0h3m7 0h3m2 0h3m4 0h2m2 0h2m2 0h2m10 0h2m-56 1h2m1 0h2m27 0h2m0 0h2m9 0h2m-70 1h2m42 0h2m29 0h2m0 0h2m5 0h2m12 0h2m15 0h2m17 0h2m-145 1h2m3 0h3m22 0h2m7 0h2m39 0h2m-60 1h2m43 0h2m54 0h2m-122 1h2m26 0h2m30 0h2m5 0h2m0 0h2m-71 1h2m62 0h2m0 0h2m-8 1h2m7 0h2m0 0h2m7 0h2m-52 1h2m18 0h2m54 0h2m33 0h2m-11 2h2m2 0h2m6 0h2m-115 1h2m27 0h2m28 0h2m9 0h2m5 0h2m32 0h2m2 0h2m-132 1h2m119 0h2m-141 1h2m21 0h2m-10 1h2m13 0h2m8 0h2m11 0h2m18 0h2m3 0h2m24 0h2m62 0h2m-106 1h2m34 1h2m-103 1h2m60 0h2m14 0h2m43 0h2m42 0h2m-133 1h2m43 0h2m-79 1h2m15 0h2m28 0h2m82 0h2m17 0h2m-157 1h2m12 0h2m102 0h2m-74 1h2m5 0h2m59 0h2m47 0h2m-148 2h2m50 0h2m6 0h2m22 0h2m-98 1h2m1 0h2m45 0h2m22 0h2m93 1h2m-157 3h2m46 0h2m19 0h2m-38 1h2m60 0h2m-87 1h2m-31 1h2m9 0h2m6 0h2m12 0h2m33 0h2m-32 1h2m16 0h2m4 0h2m35 0h2m-55 1h2m13 0h2m-53 1h2m5 0h2m40 0h2m19 0h2m24 0h2m-56 1h2m12 0h2m70 0h2m-93 1h2" stroke="#818181" stroke-width="2" fill="none"/>
<rect x="344.9" y="7.6" width="117" height="92.8" fill="none" stroke="#111" stroke-width="0.9"/>
<line x1="344.9" y1="7.6" x2="344.9" y2="100.4" stroke="#000" stroke-width="1.3"/>
<line x1="344.9" y1="100.4" x2="461.9" y2="100.4" stroke="#000" stroke-width="1.2"/>
<line x1="400.6" y1="7.6" x2="400.6" y2="100.4" stroke="#000" stroke-width="1.35"/>
<line x1="344.9" y1="47.4" x2="461.9" y2="47.4" stroke="#000" stroke-width="1.35"/>
<line x1="342.3" y1="100.4" x2="344.9" y2="100.4" stroke="#000" stroke-width="1"/>
<line x1="343" y1="93.42" x2="344.9" y2="93.42" stroke="#111" stroke-width="0.8"/>
<line x1="343" y1="89.33" x2="344.9" y2="89.33" stroke="#111" stroke-width="0.8"/>
<line x1="343" y1="86.43" x2="344.9" y2="86.43" stroke="#111" stroke-width="0.8"/>
<line x1="343" y1="84.18" x2="344.9" y2="84.18" stroke="#111" stroke-width="0.8"/>
<line x1="343" y1="82.35" x2="344.9" y2="82.35" stroke="#111" stroke-width="0.8"/>
<line x1="343" y1="80.79" x2="344.9" y2="80.79" stroke="#111" stroke-width="0.8"/>
<line x1="343" y1="79.45" x2="344.9" y2="79.45" stroke="#111" stroke-width="0.8"/>
<line x1="343" y1="78.26" x2="344.9" y2="78.26" stroke="#111" stroke-width="0.8"/>
<g transform="translate(339.1 99.1) rotate(-90)">
<text transform="translate(-5.75 0) scale(0.82 1)" font-family='"Liberation Sans","DejaVu Sans",sans-serif' font-size="7.8" stroke="#000" stroke-width="0.25">10</text>
<text x="1.9" y="-4" font-family='"Liberation Sans","DejaVu Sans",sans-serif' font-size="7.4" stroke="#000" stroke-width="0.25">0</text>
</g>
<line x1="342.3" y1="77.2" x2="344.9" y2="77.2" stroke="#000" stroke-width="1"/>
<line x1="343" y1="70.22" x2="344.9" y2="70.22" stroke="#111" stroke-width="0.8"/>
<line x1="343" y1="66.13" x2="344.9" y2="66.13" stroke="#111" stroke-width="0.8"/>
<line x1="343" y1="63.23" x2="344.9" y2="63.23" stroke="#111" stroke-width="0.8"/>
<line x1="343" y1="60.98" x2="344.9" y2="60.98" stroke="#111" stroke-width="0.8"/>
<line x1="343" y1="59.15" x2="344.9" y2="59.15" stroke="#111" stroke-width="0.8"/>
<line x1="343" y1="57.59" x2="344.9" y2="57.59" stroke="#111" stroke-width="0.8"/>
<line x1="343" y1="56.25" x2="344.9" y2="56.25" stroke="#111" stroke-width="0.8"/>
<line x1="343" y1="55.06" x2="344.9" y2="55.06" stroke="#111" stroke-width="0.8"/>
<g transform="translate(339.1 77.2) rotate(-90)">
<text transform="translate(-5.75 0) scale(0.82 1)" font-family='"Liberation Sans","DejaVu Sans",sans-serif' font-size="7.8" stroke="#000" stroke-width="0.25">10</text>
<text x="1.9" y="-4" font-family='"Liberation Sans","DejaVu Sans",sans-serif' font-size="7.4" stroke="#000" stroke-width="0.25">1</text>
</g>
<line x1="342.3" y1="54" x2="344.9" y2="54" stroke="#000" stroke-width="1"/>
<line x1="343" y1="47.02" x2="344.9" y2="47.02" stroke="#111" stroke-width="0.8"/>
<line x1="343" y1="42.93" x2="344.9" y2="42.93" stroke="#111" stroke-width="0.8"/>
<line x1="343" y1="40.03" x2="344.9" y2="40.03" stroke="#111" stroke-width="0.8"/>
<line x1="343" y1="37.78" x2="344.9" y2="37.78" stroke="#111" stroke-width="0.8"/>
<line x1="343" y1="35.95" x2="344.9" y2="35.95" stroke="#111" stroke-width="0.8"/>
<line x1="343" y1="34.39" x2="344.9" y2="34.39" stroke="#111" stroke-width="0.8"/>
<line x1="343" y1="33.05" x2="344.9" y2="33.05" stroke="#111" stroke-width="0.8"/>
<line x1="343" y1="31.86" x2="344.9" y2="31.86" stroke="#111" stroke-width="0.8"/>
<g transform="translate(339.1 54) rotate(-90)">
<text transform="translate(-5.75 0) scale(0.82 1)" font-family='"Liberation Sans","DejaVu Sans",sans-serif' font-size="7.8" stroke="#000" stroke-width="0.25">10</text>
<text x="1.9" y="-4" font-family='"Liberation Sans","DejaVu Sans",sans-serif' font-size="7.4" stroke="#000" stroke-width="0.25">2</text>
</g>
<line x1="342.3" y1="30.8" x2="344.9" y2="30.8" stroke="#000" stroke-width="1"/>
<line x1="343" y1="23.82" x2="344.9" y2="23.82" stroke="#111" stroke-width="0.8"/>
<line x1="343" y1="19.73" x2="344.9" y2="19.73" stroke="#111" stroke-width="0.8"/>
<line x1="343" y1="16.83" x2="344.9" y2="16.83" stroke="#111" stroke-width="0.8"/>
<line x1="343" y1="14.58" x2="344.9" y2="14.58" stroke="#111" stroke-width="0.8"/>
<line x1="343" y1="12.75" x2="344.9" y2="12.75" stroke="#111" stroke-width="0.8"/>
<line x1="343" y1="11.19" x2="344.9" y2="11.19" stroke="#111" stroke-width="0.8"/>
<line x1="343" y1="9.85" x2="344.9" y2="9.85" stroke="#111" stroke-width="0.8"/>
<line x1="343" y1="8.66" x2="344.9" y2="8.66" stroke="#111" stroke-width="0.8"/>
<g transform="translate(339.1 30.8) rotate(-90)">
<text transform="translate(-5.75 0) scale(0.82 1)" font-family='"Liberation Sans","DejaVu Sans",sans-serif' font-size="7.8" stroke="#000" stroke-width="0.25">10</text>
<text x="1.9" y="-4" font-family='"Liberation Sans","DejaVu Sans",sans-serif' font-size="7.4" stroke="#000" stroke-width="0.25">3</text>
</g>
<line x1="342.3" y1="7.6" x2="344.9" y2="7.6" stroke="#000" stroke-width="1"/>
<g transform="translate(339.1 7.6) rotate(-90)">
<text transform="translate(-5.75 0) scale(0.82 1)" font-family='"Liberation Sans","DejaVu Sans",sans-serif' font-size="7.8" stroke="#000" stroke-width="0.25">10</text>
<text x="1.9" y="-4" font-family='"Liberation Sans","DejaVu Sans",sans-serif' font-size="7.4" stroke="#000" stroke-width="0.25">4</text>
</g>
<text x="347.4" y="18.2" font-family='"Liberation Serif","DejaVu Serif",serif' font-size="12.6" font-weight="bold" text-anchor="start" fill="#000">6.9</text>
<text x="461.3" y="18.7" font-family='"Liberation Serif","DejaVu Serif",serif' font-size="12.6" font-weight="bold" text-anchor="end" fill="#000">0.2</text>
<text x="347.1" y="98" font-family='"Liberation Serif","DejaVu Serif",serif' font-size="12.6" font-weight="bold" text-anchor="start" fill="#000">84.2</text>
<text x="461.5" y="98.5" font-family='"Liberation Serif","DejaVu Serif",serif' font-size="12.6" font-weight="bold" text-anchor="end" fill="#000">8.8</text>
</g>
<g>
<path transform="scale(0.5)" d="M714 257h2m130 0h2m46 1h2m-126 8h2m-13 3h2m37 3h2m-51 1h2m14 1h2m3 1h2m5 0h2m-19 1h2m0 0h2m4 0h2m-21 1h2m17 0h2m-2 1h2m11 0h2m15 1h2m-39 1h2m3 0h2m7 0h2m7 0h2m-55 1h2m9 0h2m18 0h2m9 0h2m3 0h2m-28 1h2m16 0h2m4 0h2m4 0h3m52 0h2m-85 1h2m3 0h2m8 0h4m3 0h3m2 0h2m-35 1h2m4 0h2m7 0h2m2 0h2m0 0h2m2 0h2m2 0h2m-24 1h2m7 0h2m0 0h2m4 0h2m1 0h2m-29 1h2m21 0h3m1 0h3m-20 1h2m2 0h2m0 0h2m3 0h2m0 0h2m2 0h3m3 0h2m-67 1h2m25 0h2m11 0h2m6 0h2m7 0h2m3 0h3m2 0h2m-38 1h2m4 0h2m7 0h2m0 0h2m4 0h3m1 0h3m2 0h2m0 0h2m6 0h2m-44 1h2m4 0h3m1 0h2m6 0h2m2 0h3m1 0h2m3 0h3m0 0h2m3 0h2m2 0h2m-49 1h2m15 0h2m3 0h2m0 0h4m6 0h2m1 0h2m1 0h3m-29 1h2m0 0h2m4 0h2m0 0h2m3 0h2m2 0h2m1 0h2m0 0h2m1 0h2m3 0h2m3 0h2m-64 1h2m24 0h2m5 0h2m1 0h4m0 0h2m0 0h5m5 0h3m1 0h2m-46 1h2m0 0h2m12 0h2m4 0h2m5 0h2m0 0h3m0 0h2m4 0h2m-34 1h2m0 0h2m4 0h2m1 0h3m3 0h2m1 0h2m4 0h2m2 0h3m4 0h2m-58 1h2m24 0h5m2 0h4m0 0h2m12 0h2m-35 1h2m3 0h5m4 0h2m2 0h2m0 0h2m5 0h2m0 0h2m12 0h3m-56 1h2m10 0h2m2 0h2m1 0h2m0 0h2m9 0h2m2 0h2m0 0h3m0 0h2m1 0h2m6 0h3m-43 1h2m5 0h2m1 0h2m3 0h2m4 0h2m0 0h2m1 0h2m0 0h2m0 0h2m0 0h7m2 0h3m0 0h2m-52 1h2m5 0h2m6 0h2m5 0h3m0 0h2m4 0h2m0 0h2m0 0h2m0 0h2m15 0h2m-53 1h2m2 0h3m2 0h2m2 0h3m0 0h2m0 0h2m10 0h3m3 0h2m5 0h2m-36 1h3m3 0h2m2 0h2m1 0h2m0 0h2m3 0h3m1 0h2m3 0h2m1 0h3m10 0h2m13 0h2m-63 1h3m1 0h2m0 0h2m2 0h3m0 0h3m0 0h3m0 0h2m6 0h3m-37 1h3m3 0h4m6 0h3m2 0h2m0 0h3m3 0h3m6 0h3m-43 1h2m1 0h2m2 0h3m0 0h2m1 0h3m3 0h2m4 0h2m1 0h4m1 0h2m6 0h2m-46 1h2m4 0h2m8 0h2m0 0h2m2 0h3m0 0h3m8 0h2m3 0h2m7 0h2m32 0h2m-89 1h2m10 0h3m0 0h2m1 0h2m2 0h3m0 0h4m2 0h3m2 0h2m3 0h2m0 0h2m101 0h2m-161 1h2m27 0h2m0 0h2m0 0h3m0 0h2m2 0h3m0 0h3m2 0h2m7 0h2m4 0h2m0 0h2m-45 1h3m8 0h2m0 0h3m4 0h2m1 0h3m0 0h2m3 0h2m105 0h2m-154 1h2m17 0h2m15 0h2m1 0h2m2 0h2m0 0h2m1 0h2m0 0h3m1 0h2m6 0h2m-63 1h2m5 0h2m11 0h3m5 0h2m5 0h2m0 0h2m7 0h6m-44 1h2m2 0h2m27 0h2m0 0h3m10 0h2m-56 1h2m12 0h3m9 0h2m2 0h2m6 0h2m1 0h2m1 0h2m-40 1h2m6 0h2m8 0h2m2 0h2m2 0h2m0 0h3m7 0h2m91 0h2m-121 1h2m1 0h2m2 0h3m1 0h2m1 0h2m6 0h2m7 0h2m-38 1h3m2 0h3m4 0h3m0 0h2m2 0h2m1 0h2m0 0h2m4 0h2m-36 1h2m3 0h2m3 0h2m1 0h2m3 0h3m0 0h2m1 0h3m1 0h2m2 0h2m1 0h2m4 0h2m-48 1h2m4 0h3m2 0h2m2 0h2m0 0h2m4 0h2m2 0h2m1 0h2m3 0h4m10 0h2m1 0h2m-66 1h2m20 0h2m6 0h2m0 0h2m4 0h4m6 0h4m4 0h3m-46 1h2m1 0h2m2 0h2m1 0h2m0 0h3m2 0h3m10 0h2m2 0h2m6 0h2m-36 1h2m1 0h2m4 0h2m6 0h2m3 0h2m0 0h2m0 0h4m5 0h2m-37 1h2m0 0h2m3 0h3m5 0h2m4 0h2m0 0h2m8 0h2m2 0h2m-49 1h2m7 0h2m1 0h2m5 0h2m3 0h2m0 0h3m0 0h2m1 0h3m2 0h2m0 0h2m2 0h2m-35 1h2m7 0h3m5 0h2m15 0h2m-49 1h2m0 0h2m12 0h2m5 0h3m7 0h2m1 0h2m3 0h2m0 0h2m-36 1h2m10 0h2m6 0h3m5 0h2m-30 1h2m6 0h2m1 0h2m5 0h2m0 0h3m10 0h2m1 0h3m-52 1h2m4 0h2m10 0h2m2 0h2m0 0h2m5 0h2m-10 1h2m25 0h2m2 0h2m-40 1h3m10 0h2m4 0h3m1 0h2m6 0h2m-47 1h2m23 0h2m5 0h2m18 0h2m-42 1h2m1 0h3m1 0h2m9 0h3m1 0h2m-32 1h2m17 0h2m3 0h2m6 0h2m9 0h2m6 0h2m-49 1h2m14 0h2m5 0h3m6 0h2m2 0h2m0 0h2m5 0h3m0 0h2m0 0h2m10 0h2m-68 1h2m13 0h2m2 0h2m3 0h3m7 0h2m5 0h4m4 0h3m4 0h2m29 0h2m-93 1h2m2 0h2m14 0h2m2 0h2m1 0h2m0 0h3m3 0h2m1 0h2m0 0h2m0 0h2m3 0h2m3 0h3m3 0h2m11 0h2m9 0h2m3 0h2m-107 1h2m33 0h3m2 0h3m1 0h3m14 0h3m2 0h2m0 0h2m1 0h3m12 0h2m1 0h2m23 0h2m-108 1h2m5 0h2m16 0h2m15 0h2m1 0h2m1 0h2m1 0h2m1 0h2m1 0h2m1 0h3m0 0h2m10 0h2m5 0h2m-93 1h2m9 0h2m6 0h2m0 0h2m21 0h2m0 0h5m0 0h2m3 0h3m3 0h2m0 0h4m0 0h2m1 0h3m0 0h5m4 0h2m4 0h2m0 0h2m3 0h3m-101 1h2m8 0h2m17 0h2m1 0h2m1 0h2m1 0h2m1 0h2m2 0h4m0 0h2m0 0h2m4 0h3m0 0h2m0 0h5m1 0h3m0 0h3m0 0h2m1 0h2m0 0h2m0 0h2m3 0h2m-80 1h2m0 0h3m8 0h2m2 0h3m0 0h4m1 0h3m4 0h5m1 0h6m0 0h6m0 0h4m0 0h4m2 0h3m0 0h2m0 0h3m0 0h2m0 0h2m0 0h3m1 0h2m4 0h3m1 0h2m5 0h2m-123 1h2m7 0h2m17 0h2m19 0h2m0 0h2m2 0h3m0 0h2m1 0h3m0 0h3m0 0h7m0 0h3m0 0h5m0 0h2m0 0h2m2 0h3m0 0h3m1 0h6m0 0h3m11 0h2m6 0h3m3 0h2m1 0h2m-126 1h2m3 0h2m6 0h2m0 0h2m15 0h2m0 0h2m2 0h2m2 0h3m1 0h6m6 0h2m0 0h2m0 0h9m0 0h2m3 0h11m0 0h2m0 0h2m4 0h2m0 0h2m13 0h2m5 0h2m2 0h2m-113 1h2m0 0h2m11 0h3m1 0h3m4 0h2m0 0h2m3 0h3m0 0h11m0 0h2m0 0h3m0 0h2m0 0h3m0 0h7m0 0h3m0 0h3m0 0h4m0 0h3m1 0h3m0 0h2m2 0h3m6 0h2m2 0h2m2 0h3m0 0h2m1 0h2m1 0h2m-114 1h2m7 0h2m19 0h2m1 0h4m0 0h4m0 0h12m0 0h5m1 0h4m0 0h12m0 0h2m2 0h2m0 0h2m0 0h2m1 0h2m1 0h3m4 0h2m0 0h4m0 0h2m2 0h2m0 0h2m2 0h2m1 0h2m1 0h2m-142 1h2m24 0h2m4 0h3m0 0h2m0 0h2m0 0h2m3 0h4m3 0h2m0 0h3m0 0h2m0 0h2m0 0h5m1 0h2m0 0h2m2 0h5m0 0h3m0 0h3m0 0h7m2 0h4m0 0h2m1 0h4m2 0h3m2 0h2m4 0h3m6 0h2m12 0h2m-139 1h3m4 0h2m15 0h2m12 0h3m1 0h2m4 0h2m0 0h4m1 0h7m1 0h2m0 0h3m0 0h2m0 0h2m1 0h4m2 0h3m0 0h2m1 0h5m3 0h2m0 0h3m0 0h2m0 0h2m0 0h2m1 0h2m4 0h2m0 0h3m6 0h5m2 0h2m0 0h2m1 0h2m-138 1h2m19 0h2m7 0h3m0 0h2m1 0h2m0 0h2m1 0h2m2 0h3m1 0h5m0 0h3m1 0h6m1 0h11m2 0h2m0 0h7m0 0h3m0 0h3m0 0h10m2 0h3m2 0h3m2 0h2m0 0h2m1 0h2m1 0h2m3 0h2m3 0h2m2 0h2m0 0h3m-144 1h2m10 0h2m10 0h2m7 0h3m1 0h4m0 0h2m2 0h3m1 0h2m0 0h4m0 0h3m0 0h5m0 0h7m0 0h5m0 0h5m1 0h2m1 0h3m0 0h2m4 0h6m1 0h2m0 0h3m0 0h3m0 0h2m2 0h2m0 0h4m0 0h2m2 0h2m6 0h2m5 0h2m0 0h2m1 0h2m-139 1h2m9 0h3m13 0h2m1 0h2m1 0h4m1 0h4m2 0h2m0 0h5m0 0h2m1 0h3m0 0h2m0 0h3m1 0h2m0 0h7m0 0h7m1 0h7m2 0h4m2 0h2m1 0h4m6 0h2m1 0h2m0 0h3m1 0h3m4 0h2m5 0h2m0 0h2m-140 1h2m5 0h2m6 0h3m5 0h2m2 0h2m2 0h4m4 0h2m0 0h4m0 0h2m1 0h2m1 0h2m1 0h7m2 0h4m2 0h2m0 0h2m0 0h6m2 0h3m0 0h2m0 0h5m1 0h3m1 0h7m0 0h3m0 0h2m1 0h2m0 0h2m1 0h2m2 0h2m1 0h3m2 0h2m1 0h2m6 0h2m0 0h2m-142 1h2m14 0h2m8 0h2m0 0h2m1 0h2m1 0h2m1 0h7m0 0h2m0 0h3m0 0h2m0 0h3m3 0h6m0 0h3m2 0h4m2 0h2m1 0h5m2 0h8m0 0h4m0 0h7m0 0h3m0 0h2m0 0h3m0 0h2m2 0h2m0 0h2m4 0h3m2 0h3m0 0h2m5 0h3m-140 1h2m27 0h2m2 0h2m0 0h4m1 0h2m0 0h4m0 0h2m0 0h5m0 0h7m0 0h2m0 0h3m1 0h6m0 0h2m1 0h3m2 0h2m3 0h8m0 0h3m0 0h2m2 0h2m3 0h2m0 0h3m1 0h4m0 0h2m3 0h2m1 0h3m3 0h2m1 0h2m0 0h3m1 0h2m0 0h2m3 0h2m-130 1h2m2 0h2m12 0h6m0 0h3m0 0h3m0 0h2m0 0h8m0 0h11m0 0h8m3 0h2m0 0h5m0 0h5m1 0h2m1 0h6m0 0h3m0 0h3m1 0h2m6 0h3m0 0h2m0 0h3m1 0h4m4 0h4m3 0h2m-135 1h2m2 0h2m2 0h2m2 0h2m2 0h2m0 0h2m2 0h3m0 0h3m0 0h5m2 0h2m0 0h3m0 0h2m0 0h3m1 0h2m2 0h2m1 0h5m1 0h4m2 0h2m0 0h4m0 0h4m0 0h4m1 0h13m0 0h2m3 0h3m0 0h7m0 0h3m1 0h2m8 0h2m4 0h2m3 0h2m1 0h2m-140 1h2m2 0h3m0 0h2m10 0h2m0 0h2m0 0h8m0 0h12m0 0h2m0 0h2m0 0h2m0 0h7m0 0h2m0 0h4m0 0h4m0 0h2m0 0h4m2 0h6m0 0h2m0 0h3m1 0h4m1 0h3m0 0h3m8 0h2m2 0h3m1 0h2m1 0h2m2 0h4m5 0h2m3 0h3m-137 1h2m5 0h2m7 0h2m1 0h2m0 0h2m1 0h2m4 0h3m3 0h2m2 0h15m1 0h4m0 0h5m0 0h3m0 0h6m0 0h2m1 0h6m0 0h4m0 0h3m1 0h2m1 0h4m4 0h2m3 0h2m0 0h2m0 0h2m1 0h2m0 0h2m3 0h2m1 0h2m0 0h2m0 0h2m0 0h2m2 0h2m2 0h3m-147 1h2m4 0h2m1 0h2m2 0h2m0 0h2m5 0h5m5 0h3m0 0h3m0 0h3m0 0h2m0 0h4m1 0h3m0 0h4m1 0h2m0 0h2m0 0h6m0 0h2m0 0h4m0 0h2m2 0h6m0 0h2m0 0h3m0 0h4m1 0h2m0 0h4m0 0h2m0 0h4m0 0h2m0 0h2m5 0h2m1 0h2m0 0h2m1 0h3m0 0h3m1 0h2m0 0h2m4 0h2m2 0h2m-128 1h3m8 0h2m0 0h5m1 0h11m0 0h2m0 0h4m0 0h3m0 0h10m1 0h2m1 0h5m1 0h3m0 0h7m0 0h3m0 0h6m1 0h2m0 0h3m0 0h3m0 0h2m1 0h2m0 0h2m0 0h4m0 0h3m1 0h4m1 0h2m0 0h4m2 0h3m0 0h2m3 0h2m-136 1h2m4 0h2m1 0h2m1 0h2m2 0h2m1 0h2m2 0h2m0 0h5m0 0h2m0 0h2m0 0h3m0 0h3m2 0h4m0 0h4m0 0h3m0 0h2m0 0h6m0 0h2m0 0h2m0 0h4m0 0h2m0 0h10m0 0h3m0 0h2m0 0h5m0 0h3m0 0h3m0 0h8m0 0h2m0 0h2m0 0h3m0 0h2m1 0h2m5 0h2m2 0h3m2 0h3m5 0h2m-137 1h2m0 0h4m0 0h3m4 0h4m0 0h3m0 0h4m0 0h17m2 0h4m1 0h2m0 0h2m2 0h4m0 0h2m0 0h3m0 0h2m1 0h2m0 0h6m1 0h2m1 0h2m2 0h3m0 0h2m0 0h3m0 0h5m0 0h5m0 0h2m1 0h3m0 0h2m4 0h2m2 0h2m1 0h2m0 0h2m1 0h3m8 0h2m-141 1h2m5 0h2m1 0h5m0 0h2m1 0h3m2 0h5m0 0h6m0 0h4m0 0h2m0 0h2m1 0h4m1 0h4m0 0h2m0 0h2m0 0h5m0 0h3m0 0h3m0 0h7m0 0h3m0 0h3m1 0h5m1 0h3m0 0h4m4 0h7m0 0h3m1 0h2m3 0h2m0 0h2m5 0h2m2 0h5m4 0h2m-136 1h3m5 0h2m0 0h2m0 0h3m0 0h2m0 0h4m0 0h4m0 0h3m0 0h3m0 0h4m0 0h2m0 0h3m0 0h6m1 0h7m0 0h5m0 0h3m1 0h4m0 0h3m1 0h8m0 0h4m0 0h3m2 0h2m1 0h5m0 0h2m2 0h3m2 0h2m8 0h4m0 0h2m4 0h2m3 0h3m4 0h2m-143 1h2m0 0h2m0 0h2m1 0h2m4 0h4m0 0h7m0 0h3m0 0h2m1 0h2m3 0h7m1 0h4m0 0h5m0 0h3m0 0h3m0 0h3m0 0h11m0 0h6m0 0h2m1 0h2m0 0h7m0 0h2m0 0h2m0 0h2m1 0h2m0 0h3m0 0h3m0 0h2m1 0h2m6 0h4m2 0h7m4 0h2m7 0h2m-142 1h4m1 0h2m0 0h2m0 0h5m0 0h5m2 0h2m0 0h6m2 0h4m0 0h4m1 0h3m4 0h4m1 0h4m0 0h3m0 0h4m1 0h9m1 0h4m0 0h8m0 0h5m2 0h3m0 0h4m0 0h3m6 0h3m1 0h3m0 0h2m8 0h2m1 0h3m1 0h3m0 0h3m-142 1h2m0 0h2m1 0h7m3 0h3m0 0h2m0 0h10m0 0h2m1 0h3m0 0h9m0 0h9m1 0h6m0 0h2m0 0h2m0 0h2m0 0h2m0 0h2m2 0h5m3 0h4m0 0h2m0 0h4m0 0h3m0 0h2m0 0h3m0 0h2m1 0h2m0 0h3m0 0h2m3 0h2m1 0h2m3 0h2m1 0h2m4 0h2m11 0h2m-140 1h2m0 0h2m0 0h5m1 0h7m1 0h4m1 0h6m0 0h5m1 0h12m2 0h2m0 0h3m0 0h6m0 0h2m1 0h11m0 0h4m0 0h5m0 0h3m0 0h6m0 0h4m0 0h5m2 0h4m2 0h5m5 0h2m1 0h4m-125 1h3m0 0h6m0 0h3m0 0h3m0 0h5m0 0h2m0 0h2m0 0h3m1 0h3m0 0h4m0 0h5m1 0h6m0 0h2m0 0h2m0 0h6m1 0h4m1 0h5m0 0h2m0 0h10m0 0h3m1 0h3m0 0h3m0 0h3m7 0h3m0 0h3m3 0h3m1 0h3m0 0h3m0 0h2m1 0h2m1 0h2m1 0h2m-136 1h2m2 0h2m0 0h6m1 0h12m1 0h3m0 0h2m0 0h2m1 0h4m1 0h5m1 0h6m0 0h9m4 0h2m0 0h2m0 0h4m0 0h3m1 0h5m2 0h7m0 0h5m1 0h3m1 0h3m2 0h2m0 0h3m0 0h2m0 0h2m2 0h5m6 0h3m2 0h2m1 0h2m8 0h2m60 0h2m-206 1h2m0 0h3m0 0h6m0 0h6m0 0h7m0 0h9m0 0h5m2 0h11m0 0h7m0 0h2m0 0h2m0 0h3m0 0h8m0 0h2m0 0h6m1 0h6m1 0h3m0 0h3m0 0h6m0 0h4m0 0h3m0 0h2m7 0h2m2 0h2m-123 1h4m0 0h2m0 0h3m0 0h9m0 0h2m2 0h3m0 0h3m0 0h2m0 0h8m1 0h4m0 0h2m1 0h4m2 0h4m1 0h4m2 0h6m1 0h5m0 0h2m1 0h3m2 0h6m1 0h2m0 0h3m0 0h3m0 0h3m0 0h2m0 0h2m0 0h2m6 0h4m0 0h2m2 0h2m7 0h2m-131 1h3m1 0h2m1 0h3m0 0h11m0 0h6m2 0h2m0 0h5m0 0h4m1 0h2m0 0h3m0 0h2m0 0h4m0 0h3m0 0h3m1 0h8m0 0h5m0 0h3m1 0h4m0 0h2m0 0h5m0 0h3m1 0h3m1 0h2m0 0h3m0 0h2m4 0h6m3 0h5m6 0h2m0 0h2m-129 1h4m0 0h3m1 0h3m0 0h2m0 0h4m0 0h6m0 0h4m0 0h2m0 0h2m0 0h7m0 0h4m1 0h4m0 0h3m0 0h9m0 0h5m0 0h4m0 0h4m0 0h4m0 0h4m0 0h6m0 0h9m3 0h3m0 0h2m2 0h2m1 0h2m1 0h2m2 0h5m2 0h2m-125 1h2m0 0h4m1 0h3m1 0h3m0 0h2m1 0h2m0 0h4m0 0h6m1 0h5m2 0h2m0 0h4m1 0h2m0 0h2m0 0h2m1 0h4m2 0h4m0 0h6m0 0h4m0 0h8m1 0h2m0 0h3m0 0h4m0 0h3m0 0h4m0 0h3m0 0h3m2 0h2m1 0h4m3 0h2m2 0h2m1 0h2m-125 1h4m0 0h2m0 0h5m0 0h2m2 0h3m0 0h2m1 0h5m0 0h5m2 0h5m0 0h3m0 0h2m0 0h3m0 0h3m0 0h3m0 0h5m0 0h2m2 0h2m0 0h2m0 0h4m0 0h5m2 0h3m2 0h6m0 0h3m0 0h3m0 0h2m0 0h2m0 0h2m1 0h3m0 0h3m1 0h3m1 0h3m0 0h3m-114 1h2m3 0h2m0 0h4m0 0h6m0 0h6m0 0h7m0 0h2m0 0h3m1 0h2m0 0h4m0 0h2m4 0h3m0 0h3m2 0h6m1 0h7m0 0h2m1 0h2m0 0h6m1 0h2m0 0h7m0 0h4m0 0h3m2 0h2m1 0h3m0 0h4m9 0h3m-120 1h2m0 0h2m3 0h2m1 0h2m2 0h6m0 0h4m0 0h4m0 0h7m0 0h2m1 0h5m0 0h2m0 0h5m0 0h3m0 0h4m1 0h8m0 0h8m0 0h2m3 0h7m0 0h5m1 0h2m0 0h2m3 0h2m3 0h2m1 0h2m0 0h2m9 0h2m0 0h2m-122 1h2m0 0h2m0 0h2m2 0h2m1 0h2m0 0h2m1 0h5m4 0h2m0 0h7m2 0h4m0 0h3m0 0h2m1 0h2m2 0h3m1 0h3m3 0h2m0 0h2m0 0h2m0 0h4m1 0h2m1 0h2m0 0h4m0 0h6m1 0h3m0 0h2m3 0h2m9 0h2m2 0h2m-115 1h2m7 0h2m0 0h3m2 0h3m0 0h2m0 0h2m2 0h2m4 0h3m1 0h2m0 0h2m0 0h2m0 0h6m1 0h3m1 0h2m2 0h3m2 0h7m0 0h2m0 0h2m0 0h3m2 0h5m0 0h7m0 0h6m0 0h2m0 0h2m0 0h2m0 0h2m-94 1h2m1 0h3m6 0h3m0 0h3m2 0h3m0 0h2m1 0h4m1 0h2m0 0h2m1 0h2m0 0h2m1 0h5m1 0h4m0 0h9m1 0h3m0 0h2m0 0h5m1 0h2m0 0h3m0 0h2m1 0h3m3 0h2m0 0h2m6 0h3m1 0h2m7 0h2m0 0h2m-116 1h2m9 0h2m5 0h3m5 0h2m0 0h2m0 0h3m1 0h3m0 0h3m0 0h6m2 0h5m1 0h3m0 0h7m0 0h7m0 0h4m0 0h4m0 0h3m0 0h2m0 0h3m16 0h2m7 0h2m2 0h2m-115 1h2m1 0h2m0 0h2m0 0h2m1 0h2m5 0h2m2 0h6m5 0h2m1 0h2m2 0h4m1 0h2m0 0h4m0 0h2m2 0h7m0 0h2m3 0h2m0 0h2m2 0h2m0 0h3m1 0h2m0 0h2m0 0h3m1 0h2m15 0h2m-109 1h2m4 0h2m15 0h2m0 0h2m4 0h3m0 0h4m1 0h2m1 0h3m0 0h2m0 0h2m2 0h5m0 0h4m0 0h4m1 0h2m0 0h2m0 0h7m0 0h7m0 0h2m0 0h3m2 0h2m20 0h2m-97 1h2m0 0h2m4 0h3m1 0h3m1 0h4m4 0h6m1 0h2m0 0h8m0 0h13m0 0h2m2 0h2m0 0h7m4 0h2m-84 1h2m1 0h2m1 0h2m0 0h2m10 0h4m2 0h2m0 0h6m0 0h2m1 0h6m2 0h8m0 0h2m1 0h4m1 0h2m0 0h2m4 0h4m2 0h2m-70 1h2m0 0h3m0 0h2m5 0h2m1 0h4m0 0h2m0 0h2m0 0h3m2 0h6m0 0h4m0 0h2m0 0h5m0 0h2m1 0h3m1 0h2m0 0h3m0 0h6m3 0h2m1 0h3m5 0h2m56 0h2m-122 1h3m5 0h3m4 0h7m1 0h2m0 0h3m0 0h4m0 0h3m0 0h3m0 0h2m0 0h7m1 0h3m0 0h2m0 0h2m4 0h2m1 0h2m-73 1h2m2 0h4m0 0h3m3 0h2m3 0h2m1 0h2m1 0h3m0 0h2m0 0h2m0 0h5m0 0h2m3 0h3m0 0h7m0 0h3m1 0h2m0 0h2m0 0h2m0 0h2m4 0h2m2 0h3m-74 1h2m9 0h2m8 0h2m1 0h3m0 0h2m0 0h2m0 0h2m0 0h2m0 0h2m0 0h10m1 0h2m0 0h3m0 0h2m2 0h2m0 0h2m0 0h2m0 0h2m6 0h2m5 0h2m-96 1h2m4 0h2m5 0h2m7 0h2m1 0h2m1 0h2m3 0h2m0 0h2m0 0h3m0 0h3m0 0h4m0 0h3m0 0h2m0 0h2m0 0h2m0 0h4m0 0h2m0 0h2m0 0h3m0 0h5m0 0h4m9 0h2m7 0h2m-109 1h2m26 0h3m17 0h2m1 0h2m1 0h2m1 0h2m0 0h2m0 0h2m0 0h5m0 0h7m2 0h2m1 0h2m1 0h2m3 0h2m6 0h2m11 0h2m-107 1h2m22 0h2m17 0h2m1 0h5m2 0h4m0 0h3m1 0h4m0 0h6m1 0h5m0 0h2m2 0h2m-39 1h2m1 0h2m9 0h2m0 0h3m0 0h3m0 0h3m1 0h3m0 0h3m3 0h2m0 0h2m2 0h3m1 0h2m-78 1h2m17 0h2m3 0h2m5 0h2m2 0h2m3 0h4m1 0h2m3 0h2m1 0h4m2 0h2m1 0h2m1 0h2m2 0h2m7 0h2m14 0h2m-99 1h2m36 0h2m12 0h3m2 0h4m9 0h2m-67 1h2m23 0h2m15 0h2m0 0h4m1 0h2m0 0h2m0 0h2m-51 1h2m13 0h2m2 0h2m11 0h2m1 0h2m3 0h2m0 0h2m3 0h5m1 0h2m8 0h2m2 0h2m-60 1h2m12 0h2m10 0h2m4 0h2m2 0h2m1 0h2m1 0h2m20 0h2m-73 1h2m30 0h2m0 0h2m2 0h2m8 0h2m13 0h2m5 0h2m3 0h2m-47 1h2m13 0h2m16 0h2m-47 1h2m8 0h2m0 0h2m12 0h2m0 0h2m-53 1h2m20 0h2m1 0h2m5 0h2m2 0h2m16 0h2m-44 1h2m31 0h2m4 0h2m-13 1h2m-45 1h2m23 0h2m7 0h2m37 0h2m-81 1h2m6 0h2m9 0h2m33 0h2m22 0h2m10 0h2m2 0h2m-53 1h2m22 0h2m-8 1h2m-62 1h2m7 0h2m32 1h2m17 0h2m14 0h2m-85 1h2m38 0h2m24 0h2m21 0h2m-41 4h2m7 0h2m31 0h2m-99 1h2m64 0h2m-70 1h2m15 0h2m-6 1h2m89 0h2m-57 1h2m-43 1h2m3 0h2m58 1h2m27 0h2m72 1h2m-100 1h2m8 0h2m-64 2h2m45 0h2m-66 1h2m86 0h2m-65 4h2m31 0h2m-70 1h2m32 1h2m10 1h2m-32 3h2m18 0h2" stroke="#818181" stroke-width="2" fill="none"/>
<rect x="344.6" y="126.8" width="114.6" height="92.2" fill="none" stroke="#111" stroke-width="0.9"/>
<line x1="344.6" y1="126.8" x2="344.6" y2="219" stroke="#000" stroke-width="1.3"/>
<line x1="344.6" y1="219" x2="459.2" y2="219" stroke="#000" stroke-width="1.2"/>
<line x1="398.2" y1="126.8" x2="398.2" y2="219" stroke="#000" stroke-width="1.35"/>
<line x1="344.6" y1="167.2" x2="459.2" y2="167.2" stroke="#000" stroke-width="1.35"/>
<line x1="342" y1="219" x2="344.6" y2="219" stroke="#000" stroke-width="1"/>
<line x1="342.7" y1="212.06" x2="344.6" y2="212.06" stroke="#111" stroke-width="0.8"/>
<line x1="342.7" y1="208" x2="344.6" y2="208" stroke="#111" stroke-width="0.8"/>
<line x1="342.7" y1="205.12" x2="344.6" y2="205.12" stroke="#111" stroke-width="0.8"/>
<line x1="342.7" y1="202.89" x2="344.6" y2="202.89" stroke="#111" stroke-width="0.8"/>
<line x1="342.7" y1="201.06" x2="344.6" y2="201.06" stroke="#111" stroke-width="0.8"/>
<line x1="342.7" y1="199.52" x2="344.6" y2="199.52" stroke="#111" stroke-width="0.8"/>
<line x1="342.7" y1="198.18" x2="344.6" y2="198.18" stroke="#111" stroke-width="0.8"/>
<line x1="342.7" y1="197" x2="344.6" y2="197" stroke="#111" stroke-width="0.8"/>
<g transform="translate(338.8 217.7) rotate(-90)">
<text transform="translate(-5.75 0) scale(0.82 1)" font-family='"Liberation Sans","DejaVu Sans",sans-serif' font-size="7.8" stroke="#000" stroke-width="0.25">10</text>
<text x="1.9" y="-4" font-family='"Liberation Sans","DejaVu Sans",sans-serif' font-size="7.4" stroke="#000" stroke-width="0.25">0</text>
</g>
<line x1="342" y1="195.95" x2="344.6" y2="195.95" stroke="#000" stroke-width="1"/>
<line x1="342.7" y1="189.01" x2="344.6" y2="189.01" stroke="#111" stroke-width="0.8"/>
<line x1="342.7" y1="184.95" x2="344.6" y2="184.95" stroke="#111" stroke-width="0.8"/>
<line x1="342.7" y1="182.07" x2="344.6" y2="182.07" stroke="#111" stroke-width="0.8"/>
<line x1="342.7" y1="179.84" x2="344.6" y2="179.84" stroke="#111" stroke-width="0.8"/>
<line x1="342.7" y1="178.01" x2="344.6" y2="178.01" stroke="#111" stroke-width="0.8"/>
<line x1="342.7" y1="176.47" x2="344.6" y2="176.47" stroke="#111" stroke-width="0.8"/>
<line x1="342.7" y1="175.13" x2="344.6" y2="175.13" stroke="#111" stroke-width="0.8"/>
<line x1="342.7" y1="173.95" x2="344.6" y2="173.95" stroke="#111" stroke-width="0.8"/>
<g transform="translate(338.8 195.95) rotate(-90)">
<text transform="translate(-5.75 0) scale(0.82 1)" font-family='"Liberation Sans","DejaVu Sans",sans-serif' font-size="7.8" stroke="#000" stroke-width="0.25">10</text>
<text x="1.9" y="-4" font-family='"Liberation Sans","DejaVu Sans",sans-serif' font-size="7.4" stroke="#000" stroke-width="0.25">1</text>
</g>
<line x1="342" y1="172.9" x2="344.6" y2="172.9" stroke="#000" stroke-width="1"/>
<line x1="342.7" y1="165.96" x2="344.6" y2="165.96" stroke="#111" stroke-width="0.8"/>
<line x1="342.7" y1="161.9" x2="344.6" y2="161.9" stroke="#111" stroke-width="0.8"/>
<line x1="342.7" y1="159.02" x2="344.6" y2="159.02" stroke="#111" stroke-width="0.8"/>
<line x1="342.7" y1="156.79" x2="344.6" y2="156.79" stroke="#111" stroke-width="0.8"/>
<line x1="342.7" y1="154.96" x2="344.6" y2="154.96" stroke="#111" stroke-width="0.8"/>
<line x1="342.7" y1="153.42" x2="344.6" y2="153.42" stroke="#111" stroke-width="0.8"/>
<line x1="342.7" y1="152.08" x2="344.6" y2="152.08" stroke="#111" stroke-width="0.8"/>
<line x1="342.7" y1="150.9" x2="344.6" y2="150.9" stroke="#111" stroke-width="0.8"/>
<g transform="translate(338.8 172.9) rotate(-90)">
<text transform="translate(-5.75 0) scale(0.82 1)" font-family='"Liberation Sans","DejaVu Sans",sans-serif' font-size="7.8" stroke="#000" stroke-width="0.25">10</text>
<text x="1.9" y="-4" font-family='"Liberation Sans","DejaVu Sans",sans-serif' font-size="7.4" stroke="#000" stroke-width="0.25">2</text>
</g>
<line x1="342" y1="149.85" x2="344.6" y2="149.85" stroke="#000" stroke-width="1"/>
<line x1="342.7" y1="142.91" x2="344.6" y2="142.91" stroke="#111" stroke-width="0.8"/>
<line x1="342.7" y1="138.85" x2="344.6" y2="138.85" stroke="#111" stroke-width="0.8"/>
<line x1="342.7" y1="135.97" x2="344.6" y2="135.97" stroke="#111" stroke-width="0.8"/>
<line x1="342.7" y1="133.74" x2="344.6" y2="133.74" stroke="#111" stroke-width="0.8"/>
<line x1="342.7" y1="131.91" x2="344.6" y2="131.91" stroke="#111" stroke-width="0.8"/>
<line x1="342.7" y1="130.37" x2="344.6" y2="130.37" stroke="#111" stroke-width="0.8"/>
<line x1="342.7" y1="129.03" x2="344.6" y2="129.03" stroke="#111" stroke-width="0.8"/>
<line x1="342.7" y1="127.85" x2="344.6" y2="127.85" stroke="#111" stroke-width="0.8"/>
<g transform="translate(338.8 149.85) rotate(-90)">
<text transform="translate(-5.75 0) scale(0.82 1)" font-family='"Liberation Sans","DejaVu Sans",sans-serif' font-size="7.8" stroke="#000" stroke-width="0.25">10</text>
<text x="1.9" y="-4" font-family='"Liberation Sans","DejaVu Sans",sans-serif' font-size="7.4" stroke="#000" stroke-width="0.25">3</text>
</g>
<line x1="342" y1="126.8" x2="344.6" y2="126.8" stroke="#000" stroke-width="1"/>
<g transform="translate(338.8 126.8) rotate(-90)">
<text transform="translate(-5.75 0) scale(0.82 1)" font-family='"Liberation Sans","DejaVu Sans",sans-serif' font-size="7.8" stroke="#000" stroke-width="0.25">10</text>
<text x="1.9" y="-4" font-family='"Liberation Sans","DejaVu Sans",sans-serif' font-size="7.4" stroke="#000" stroke-width="0.25">4</text>
</g>
<line x1="344.6" y1="219" x2="344.6" y2="221.6" stroke="#000" stroke-width="1"/>
<line x1="353.22" y1="219" x2="353.22" y2="220.9" stroke="#111" stroke-width="0.8"/>
<line x1="358.27" y1="219" x2="358.27" y2="220.9" stroke="#111" stroke-width="0.8"/>
<line x1="361.85" y1="219" x2="361.85" y2="220.9" stroke="#111" stroke-width="0.8"/>
<line x1="364.63" y1="219" x2="364.63" y2="220.9" stroke="#111" stroke-width="0.8"/>
<line x1="366.89" y1="219" x2="366.89" y2="220.9" stroke="#111" stroke-width="0.8"/>
<line x1="368.81" y1="219" x2="368.81" y2="220.9" stroke="#111" stroke-width="0.8"/>
<line x1="370.47" y1="219" x2="370.47" y2="220.9" stroke="#111" stroke-width="0.8"/>
<line x1="371.94" y1="219" x2="371.94" y2="220.9" stroke="#111" stroke-width="0.8"/>
<g transform="translate(343.8 231.2)">
<text transform="translate(-3.85 0) scale(0.82 1)" font-family='"Liberation Sans","DejaVu Sans",sans-serif' font-size="7.8" stroke="#000" stroke-width="0.25">10</text>
<text x="2.6" y="-3.8" font-family='"Liberation Sans","DejaVu Sans",sans-serif' font-size="7.4" stroke="#000" stroke-width="0.25">0</text>
</g>
<line x1="373.25" y1="219" x2="373.25" y2="221.6" stroke="#000" stroke-width="1"/>
<line x1="381.87" y1="219" x2="381.87" y2="220.9" stroke="#111" stroke-width="0.8"/>
<line x1="386.92" y1="219" x2="386.92" y2="220.9" stroke="#111" stroke-width="0.8"/>
<line x1="390.5" y1="219" x2="390.5" y2="220.9" stroke="#111" stroke-width="0.8"/>
<line x1="393.28" y1="219" x2="393.28" y2="220.9" stroke="#111" stroke-width="0.8"/>
<line x1="395.54" y1="219" x2="395.54" y2="220.9" stroke="#111" stroke-width="0.8"/>
<line x1="397.46" y1="219" x2="397.46" y2="220.9" stroke="#111" stroke-width="0.8"/>
<line x1="399.12" y1="219" x2="399.12" y2="220.9" stroke="#111" stroke-width="0.8"/>
<line x1="400.59" y1="219" x2="400.59" y2="220.9" stroke="#111" stroke-width="0.8"/>
<g transform="translate(372.95 231.2)">
<text transform="translate(-3.85 0) scale(0.82 1)" font-family='"Liberation Sans","DejaVu Sans",sans-serif' font-size="7.8" stroke="#000" stroke-width="0.25">10</text>
<text x="2.6" y="-3.8" font-family='"Liberation Sans","DejaVu Sans",sans-serif' font-size="7.4" stroke="#000" stroke-width="0.25">1</text>
</g>
<line x1="401.9" y1="219" x2="401.9" y2="221.6" stroke="#000" stroke-width="1"/>
<line x1="410.52" y1="219" x2="410.52" y2="220.9" stroke="#111" stroke-width="0.8"/>
<line x1="415.57" y1="219" x2="415.57" y2="220.9" stroke="#111" stroke-width="0.8"/>
<line x1="419.15" y1="219" x2="419.15" y2="220.9" stroke="#111" stroke-width="0.8"/>
<line x1="421.93" y1="219" x2="421.93" y2="220.9" stroke="#111" stroke-width="0.8"/>
<line x1="424.19" y1="219" x2="424.19" y2="220.9" stroke="#111" stroke-width="0.8"/>
<line x1="426.11" y1="219" x2="426.11" y2="220.9" stroke="#111" stroke-width="0.8"/>
<line x1="427.77" y1="219" x2="427.77" y2="220.9" stroke="#111" stroke-width="0.8"/>
<line x1="429.24" y1="219" x2="429.24" y2="220.9" stroke="#111" stroke-width="0.8"/>
<g transform="translate(401.6 231.2)">
<text transform="translate(-3.85 0) scale(0.82 1)" font-family='"Liberation Sans","DejaVu Sans",sans-serif' font-size="7.8" stroke="#000" stroke-width="0.25">10</text>
<text x="2.6" y="-3.8" font-family='"Liberation Sans","DejaVu Sans",sans-serif' font-size="7.4" stroke="#000" stroke-width="0.25">2</text>
</g>
<line x1="430.55" y1="219" x2="430.55" y2="221.6" stroke="#000" stroke-width="1"/>
<line x1="439.17" y1="219" x2="439.17" y2="220.9" stroke="#111" stroke-width="0.8"/>
<line x1="444.22" y1="219" x2="444.22" y2="220.9" stroke="#111" stroke-width="0.8"/>
<line x1="447.8" y1="219" x2="447.8" y2="220.9" stroke="#111" stroke-width="0.8"/>
<line x1="450.58" y1="219" x2="450.58" y2="220.9" stroke="#111" stroke-width="0.8"/>
<line x1="452.84" y1="219" x2="452.84" y2="220.9" stroke="#111" stroke-width="0.8"/>
<line x1="454.76" y1="219" x2="454.76" y2="220.9" stroke="#111" stroke-width="0.8"/>
<line x1="456.42" y1="219" x2="456.42" y2="220.9" stroke="#111" stroke-width="0.8"/>
<line x1="457.89" y1="219" x2="457.89" y2="220.9" stroke="#111" stroke-width="0.8"/>
<g transform="translate(429.25 231.2)">
<text transform="translate(-3.85 0) scale(0.82 1)" font-family='"Liberation Sans","DejaVu Sans",sans-serif' font-size="7.8" stroke="#000" stroke-width="0.25">10</text>
<text x="2.6" y="-3.8" font-family='"Liberation Sans","DejaVu Sans",sans-serif' font-size="7.4" stroke="#000" stroke-width="0.25">3</text>
</g>
<line x1="459.2" y1="219" x2="459.2" y2="221.6" stroke="#000" stroke-width="1"/>
<g transform="translate(456.4 231.2)">
<text transform="translate(-3.85 0) scale(0.82 1)" font-family='"Liberation Sans","DejaVu Sans",sans-serif' font-size="7.8" stroke="#000" stroke-width="0.25">10</text>
<text x="2.6" y="-3.8" font-family='"Liberation Sans","DejaVu Sans",sans-serif' font-size="7.4" stroke="#000" stroke-width="0.25">4</text>
</g>
<text x="347.9" y="137.9" font-family='"Liberation Serif","DejaVu Serif",serif' font-size="12.6" font-weight="bold" text-anchor="start" fill="#000">4.2</text>
<text x="457.8" y="138.5" font-family='"Liberation Serif","DejaVu Serif",serif' font-size="12.6" font-weight="bold" text-anchor="end" fill="#000">0.1</text>
<text x="347.1" y="217.7" font-family='"Liberation Serif","DejaVu Serif",serif' font-size="12.6" font-weight="bold" text-anchor="start" fill="#000">92.5</text>
<text x="456.7" y="218.3" font-family='"Liberation Serif","DejaVu Serif",serif' font-size="12.6" font-weight="bold" text-anchor="end" fill="#000">3.3</text>
</g>
<text x="1" y="20" font-family='"Liberation Sans","DejaVu Sans",sans-serif' font-size="24.4" font-weight="bold">A</text>
<text x="3.2" y="291.3" font-family='"Liberation Sans","DejaVu Sans",sans-serif' font-size="24.4" font-weight="bold">B</text>
<text transform="translate(2.2 518.6) scale(0.9 1)" font-family='"Liberation Sans","DejaVu Sans",sans-serif' font-size="26.6" font-weight="bold">C</text>
<line x1="23.9" y1="31.7" x2="23.9" y2="72.7" stroke="#000" stroke-width="1.6"/>
<path d="M23.9 25.7L20.4 35.7L23.9 35L27.4 35.7z" fill="#000"/>
<line x1="176" y1="31.7" x2="176" y2="72.7" stroke="#000" stroke-width="1.6"/>
<path d="M176 25.7L172.5 35.7L176 35L179.5 35.7z" fill="#000"/>
<line x1="326.3" y1="31.6" x2="326.3" y2="72.4" stroke="#000" stroke-width="1.6"/>
<path d="M326.3 25.6L322.8 35.6L326.3 34.9L329.8 35.6z" fill="#000"/>
<line x1="23.5" y1="139.8" x2="23.5" y2="186" stroke="#000" stroke-width="1.6"/>
<line x1="176" y1="140" x2="176" y2="186" stroke="#000" stroke-width="1.6"/>
<line x1="325.8" y1="140" x2="325.8" y2="186" stroke="#000" stroke-width="1.6"/>
<text transform="translate(30.5 123.0) rotate(-90) scale(0.9 1)" font-family='"Liberation Serif","DejaVu Serif",serif' font-size="14.8">IgG1</text>
<text transform="translate(179.7 121.6) rotate(-90)" font-family='"Liberation Serif","DejaVu Serif",serif' font-size="14.4" font-weight="normal">IFN&#947;</text>
<text transform="translate(329.9 118.8) rotate(-90)" font-family='"Liberation Serif","DejaVu Serif",serif' font-size="14" font-weight="normal">IL4</text>
<line x1="35" y1="240.6" x2="79.5" y2="240.6" stroke="#000" stroke-width="1.3"/>
<text transform="translate(82.2 245.5) scale(1.055 1)" font-family='"Liberation Serif","DejaVu Serif",serif' font-size="14">IgG2b</text>
<line x1="123.6" y1="240.8" x2="163.6" y2="240.8" stroke="#000" stroke-width="1.35"/>
<path d="M169.6 240.8L159.6 237.3L160.3 240.8L159.6 244.3z" fill="#000"/>
<line x1="197" y1="240.6" x2="241.8" y2="240.6" stroke="#000" stroke-width="1.3"/>
<text transform="translate(243.5 245.6) scale(1.05 1)" font-family='"Liberation Serif","DejaVu Serif",serif' font-size="14">IL2</text>
<line x1="268.6" y1="240.8" x2="308.6" y2="240.8" stroke="#000" stroke-width="1.35"/>
<path d="M314.6 240.8L304.6 237.3L305.3 240.8L304.6 244.3z" fill="#000"/>
<line x1="343.6" y1="241" x2="389.5" y2="241" stroke="#000" stroke-width="1.3"/>
<text transform="translate(393.2 246.0) scale(1.05 1)" font-family='"Liberation Serif","DejaVu Serif",serif' font-size="14">IL2</text>
<line x1="418" y1="241.2" x2="458.6" y2="241.2" stroke="#000" stroke-width="1.35"/>
<path d="M464.6 241.2L454.6 237.7L455.3 241.2L454.6 244.7z" fill="#000"/>
<text x="472" y="50.7" font-family='"Liberation Serif","DejaVu Serif",serif' font-size="17" font-weight="normal" text-anchor="start" fill="#000">Spleen</text>
<text x="472" y="172.9" font-family='"Liberation Serif","DejaVu Serif",serif' font-size="17" font-weight="normal" text-anchor="start" fill="#000">Liver</text>
<defs><pattern id="hb" width="6.1" height="6.1" patternUnits="userSpaceOnUse" patternTransform="rotate(-45)"><rect width="6.1" height="6.1" fill="#fff"/><line x1="0" y1="3" x2="6.1" y2="3" stroke="#000" stroke-width="1.15"/></pattern><pattern id="hc" width="7.15" height="7.15" patternUnits="userSpaceOnUse" patternTransform="rotate(-45)"><rect width="7.15" height="7.15" fill="#fff"/><line x1="0" y1="3" x2="7.15" y2="3" stroke="#000" stroke-width="1.15"/></pattern></defs>
<line x1="44.2" y1="280.2" x2="158.5" y2="280.2" stroke="#000" stroke-width="1.3"/>
<line x1="158" y1="280.2" x2="158" y2="483.2" stroke="#000" stroke-width="1.3"/>
<line x1="44.4" y1="280.2" x2="44.4" y2="483.2" stroke="#000" stroke-width="1.5"/>
<line x1="40.2" y1="479.8" x2="158" y2="479.8" stroke="#000" stroke-width="1.5"/>
<line x1="40.2" y1="479.8" x2="44.4" y2="479.8" stroke="#000" stroke-width="1.3"/>
<text x="36.8" y="483.7" font-family='"Liberation Serif","DejaVu Serif",serif' font-size="12.4" font-weight="bold" text-anchor="end" fill="#000" stroke="#000" stroke-width="0.25">0</text>
<line x1="41.8" y1="446.53" x2="44.4" y2="446.53" stroke="#000" stroke-width="1.2"/>
<line x1="40.2" y1="413.27" x2="44.4" y2="413.27" stroke="#000" stroke-width="1.3"/>
<text x="36.8" y="417.17" font-family='"Liberation Serif","DejaVu Serif",serif' font-size="12.4" font-weight="bold" text-anchor="end" fill="#000" stroke="#000" stroke-width="0.25">25</text>
<line x1="41.8" y1="380" x2="44.4" y2="380" stroke="#000" stroke-width="1.2"/>
<line x1="40.2" y1="346.73" x2="44.4" y2="346.73" stroke="#000" stroke-width="1.3"/>
<text x="36.8" y="350.63" font-family='"Liberation Serif","DejaVu Serif",serif' font-size="12.4" font-weight="bold" text-anchor="end" fill="#000" stroke="#000" stroke-width="0.25">50</text>
<line x1="41.8" y1="313.47" x2="44.4" y2="313.47" stroke="#000" stroke-width="1.2"/>
<line x1="40.2" y1="280.2" x2="44.4" y2="280.2" stroke="#000" stroke-width="1.3"/>
<text x="36.8" y="282.8" font-family='"Liberation Serif","DejaVu Serif",serif' font-size="12.4" font-weight="bold" text-anchor="end" fill="#000" stroke="#000" stroke-width="0.25">75</text>
<line x1="101" y1="479.8" x2="101" y2="483.2" stroke="#000" stroke-width="1.3"/>
<line x1="63.6" y1="296.4" x2="63.6" y2="331.6" stroke="#000" stroke-width="1.3"/>
<line x1="61" y1="296.4" x2="66.2" y2="296.4" stroke="#000" stroke-width="1.3"/>
<rect x="52.8" y="330.2" width="21.2" height="149.6" fill="#000"/>
<line x1="83.1" y1="343.7" x2="83.1" y2="364.2" stroke="#000" stroke-width="1.3"/>
<line x1="80.5" y1="343.7" x2="85.7" y2="343.7" stroke="#000" stroke-width="1.3"/>
<rect x="73.6" y="363.2" width="20.6" height="116.6" fill="url(#hb)" stroke="#000" stroke-width="1.2"/>
<line x1="118.4" y1="281.4" x2="118.4" y2="348.2" stroke="#000" stroke-width="1.3"/>
<line x1="115.8" y1="281.4" x2="121" y2="281.4" stroke="#000" stroke-width="1.3"/>
<rect x="107.6" y="346.8" width="21.2" height="133" fill="#000"/>
<line x1="138.1" y1="303.8" x2="138.1" y2="353.6" stroke="#000" stroke-width="1.3"/>
<line x1="135.5" y1="303.8" x2="140.7" y2="303.8" stroke="#000" stroke-width="1.3"/>
<rect x="128.6" y="352.6" width="20" height="127.2" fill="url(#hb)" stroke="#000" stroke-width="1.2"/>
<text x="83.7" y="344.6" font-family='"Liberation Serif","DejaVu Serif",serif' font-size="16.5" font-weight="bold" text-anchor="middle" fill="#000">*</text>
<text x="84.2" y="292.6" font-family='"Liberation Serif","DejaVu Serif",serif' font-size="12.4" font-weight="bold" text-anchor="start" fill="#000">IFN&#947;</text>
<text x="59.4" y="495.4" font-family='"Liberation Serif","DejaVu Serif",serif' font-size="11.9" font-weight="bold" text-anchor="start" fill="#000">spleen</text>
<text x="118.2" y="495.4" font-family='"Liberation Serif","DejaVu Serif",serif' font-size="11.9" font-weight="bold" text-anchor="start" fill="#000">liver</text>
<line x1="183.8" y1="281.4" x2="301.2" y2="281.4" stroke="#000" stroke-width="1.3"/>
<line x1="300.7" y1="281.4" x2="300.7" y2="484.8" stroke="#000" stroke-width="1.3"/>
<line x1="184" y1="281.4" x2="184" y2="484.8" stroke="#000" stroke-width="1.5"/>
<line x1="179.8" y1="481.4" x2="300.7" y2="481.4" stroke="#000" stroke-width="1.5"/>
<line x1="179.8" y1="481.4" x2="184" y2="481.4" stroke="#000" stroke-width="1.3"/>
<text x="176.4" y="485.3" font-family='"Liberation Serif","DejaVu Serif",serif' font-size="12.4" font-weight="bold" text-anchor="end" fill="#000" stroke="#000" stroke-width="0.25">0</text>
<line x1="181.4" y1="461.4" x2="184" y2="461.4" stroke="#000" stroke-width="1.2"/>
<line x1="179.8" y1="441.4" x2="184" y2="441.4" stroke="#000" stroke-width="1.3"/>
<text x="176.4" y="445.3" font-family='"Liberation Serif","DejaVu Serif",serif' font-size="12.4" font-weight="bold" text-anchor="end" fill="#000" stroke="#000" stroke-width="0.25">5</text>
<line x1="181.4" y1="421.4" x2="184" y2="421.4" stroke="#000" stroke-width="1.2"/>
<line x1="179.8" y1="401.4" x2="184" y2="401.4" stroke="#000" stroke-width="1.3"/>
<text x="176.4" y="405.3" font-family='"Liberation Serif","DejaVu Serif",serif' font-size="12.4" font-weight="bold" text-anchor="end" fill="#000" stroke="#000" stroke-width="0.25">10</text>
<line x1="181.4" y1="381.4" x2="184" y2="381.4" stroke="#000" stroke-width="1.2"/>
<line x1="179.8" y1="361.4" x2="184" y2="361.4" stroke="#000" stroke-width="1.3"/>
<text x="176.4" y="365.3" font-family='"Liberation Serif","DejaVu Serif",serif' font-size="12.4" font-weight="bold" text-anchor="end" fill="#000" stroke="#000" stroke-width="0.25">15</text>
<line x1="181.4" y1="341.4" x2="184" y2="341.4" stroke="#000" stroke-width="1.2"/>
<line x1="179.8" y1="321.4" x2="184" y2="321.4" stroke="#000" stroke-width="1.3"/>
<text x="176.4" y="325.3" font-family='"Liberation Serif","DejaVu Serif",serif' font-size="12.4" font-weight="bold" text-anchor="end" fill="#000" stroke="#000" stroke-width="0.25">20</text>
<line x1="181.4" y1="301.4" x2="184" y2="301.4" stroke="#000" stroke-width="1.2"/>
<line x1="179.8" y1="281.4" x2="184" y2="281.4" stroke="#000" stroke-width="1.3"/>
<text x="176.4" y="284" font-family='"Liberation Serif","DejaVu Serif",serif' font-size="12.4" font-weight="bold" text-anchor="end" fill="#000" stroke="#000" stroke-width="0.25">25</text>
<line x1="241.2" y1="481.4" x2="241.2" y2="484.8" stroke="#000" stroke-width="1.3"/>
<line x1="202.6" y1="343.2" x2="202.6" y2="390.2" stroke="#000" stroke-width="1.3"/>
<line x1="200" y1="343.2" x2="205.2" y2="343.2" stroke="#000" stroke-width="1.3"/>
<rect x="192" y="388.8" width="21.4" height="92.6" fill="#000"/>
<line x1="223.4" y1="404.4" x2="223.4" y2="428.4" stroke="#000" stroke-width="1.3"/>
<line x1="220.8" y1="404.4" x2="226" y2="404.4" stroke="#000" stroke-width="1.3"/>
<rect x="213" y="427.4" width="20.4" height="54" fill="url(#hb)" stroke="#000" stroke-width="1.2"/>
<line x1="258.8" y1="446.4" x2="258.8" y2="455" stroke="#000" stroke-width="1.3"/>
<line x1="256.2" y1="446.4" x2="261.4" y2="446.4" stroke="#000" stroke-width="1.3"/>
<rect x="248.6" y="453.6" width="21.2" height="27.8" fill="#000"/>
<line x1="279.2" y1="456.6" x2="279.2" y2="468.4" stroke="#000" stroke-width="1.3"/>
<line x1="276.6" y1="456.6" x2="281.8" y2="456.6" stroke="#000" stroke-width="1.3"/>
<rect x="269.4" y="467.4" width="20.6" height="14" fill="url(#hb)" stroke="#000" stroke-width="1.2"/>
<text x="223.3" y="402.1" font-family='"Liberation Serif","DejaVu Serif",serif' font-size="16.5" font-weight="bold" text-anchor="middle" fill="#000">*</text>
<text x="279.6" y="455.1" font-family='"Liberation Serif","DejaVu Serif",serif' font-size="16.5" font-weight="bold" text-anchor="middle" fill="#000">*</text>
<text x="233.2" y="293.8" font-family='"Liberation Serif","DejaVu Serif",serif' font-size="12.4" font-weight="bold" text-anchor="start" fill="#000">IL2</text>
<text x="199.2" y="494.3" font-family='"Liberation Serif","DejaVu Serif",serif' font-size="11.9" font-weight="bold" text-anchor="start" fill="#000">spleen</text>
<text x="258.2" y="494.3" font-family='"Liberation Serif","DejaVu Serif",serif' font-size="11.9" font-weight="bold" text-anchor="start" fill="#000">liver</text>
<line x1="317.8" y1="280.2" x2="441.2" y2="280.2" stroke="#000" stroke-width="1.3"/>
<line x1="440.7" y1="280.2" x2="440.7" y2="484.1" stroke="#000" stroke-width="1.3"/>
<line x1="318" y1="280.2" x2="318" y2="484.1" stroke="#000" stroke-width="1.5"/>
<line x1="313.8" y1="480.7" x2="440.7" y2="480.7" stroke="#000" stroke-width="1.5"/>
<line x1="313.8" y1="480.7" x2="318" y2="480.7" stroke="#000" stroke-width="1.3"/>
<text x="310.4" y="484.6" font-family='"Liberation Serif","DejaVu Serif",serif' font-size="12.4" font-weight="bold" text-anchor="end" fill="#000" stroke="#000" stroke-width="0.25">0</text>
<line x1="315.4" y1="447.28" x2="318" y2="447.28" stroke="#000" stroke-width="1.2"/>
<line x1="313.8" y1="413.87" x2="318" y2="413.87" stroke="#000" stroke-width="1.3"/>
<text x="310.4" y="417.77" font-family='"Liberation Serif","DejaVu Serif",serif' font-size="12.4" font-weight="bold" text-anchor="end" fill="#000" stroke="#000" stroke-width="0.25">2</text>
<line x1="315.4" y1="380.45" x2="318" y2="380.45" stroke="#000" stroke-width="1.2"/>
<line x1="313.8" y1="347.03" x2="318" y2="347.03" stroke="#000" stroke-width="1.3"/>
<text x="310.4" y="350.93" font-family='"Liberation Serif","DejaVu Serif",serif' font-size="12.4" font-weight="bold" text-anchor="end" fill="#000" stroke="#000" stroke-width="0.25">4</text>
<line x1="315.4" y1="313.62" x2="318" y2="313.62" stroke="#000" stroke-width="1.2"/>
<line x1="313.8" y1="280.2" x2="318" y2="280.2" stroke="#000" stroke-width="1.3"/>
<text x="310.4" y="282.8" font-family='"Liberation Serif","DejaVu Serif",serif' font-size="12.4" font-weight="bold" text-anchor="end" fill="#000" stroke="#000" stroke-width="0.25">6</text>
<line x1="377" y1="480.7" x2="377" y2="484.1" stroke="#000" stroke-width="1.3"/>
<line x1="336.4" y1="382" x2="336.4" y2="430.2" stroke="#000" stroke-width="1.3"/>
<line x1="333.8" y1="382" x2="339" y2="382" stroke="#000" stroke-width="1.3"/>
<rect x="325.2" y="428.8" width="22" height="51.9" fill="#000"/>
<line x1="356.4" y1="398.2" x2="356.4" y2="437" stroke="#000" stroke-width="1.3"/>
<line x1="353.8" y1="398.2" x2="359" y2="398.2" stroke="#000" stroke-width="1.3"/>
<rect x="346.8" y="436" width="20.4" height="44.7" fill="url(#hb)" stroke="#000" stroke-width="1.2"/>
<line x1="396" y1="449.8" x2="396" y2="460.4" stroke="#000" stroke-width="1.3"/>
<line x1="393.4" y1="449.8" x2="398.6" y2="449.8" stroke="#000" stroke-width="1.3"/>
<rect x="386" y="459" width="21.2" height="21.7" fill="#000"/>
<line x1="416.4" y1="457.8" x2="416.4" y2="468.6" stroke="#000" stroke-width="1.3"/>
<line x1="413.8" y1="457.8" x2="419" y2="457.8" stroke="#000" stroke-width="1.3"/>
<rect x="406.8" y="467.6" width="20" height="13.1" fill="url(#hb)" stroke="#000" stroke-width="1.2"/>
<text x="367.8" y="292.6" font-family='"Liberation Serif","DejaVu Serif",serif' font-size="12.4" font-weight="bold" text-anchor="start" fill="#000">IL4</text>
<text x="336.2" y="494.8" font-family='"Liberation Serif","DejaVu Serif",serif' font-size="11.9" font-weight="bold" text-anchor="start" fill="#000">spleen</text>
<text x="398" y="494.8" font-family='"Liberation Serif","DejaVu Serif",serif' font-size="11.9" font-weight="bold" text-anchor="start" fill="#000">liver</text>
<line x1="43.8" y1="507.3" x2="158.5" y2="507.3" stroke="#000" stroke-width="1.3"/>
<line x1="158" y1="507.3" x2="158" y2="710.4" stroke="#000" stroke-width="1.3"/>
<line x1="44" y1="507.3" x2="44" y2="710.4" stroke="#000" stroke-width="1.5"/>
<line x1="39.8" y1="707" x2="158" y2="707" stroke="#000" stroke-width="1.5"/>
<line x1="39.8" y1="707" x2="44" y2="707" stroke="#000" stroke-width="1.3"/>
<text x="34.1" y="710.59" font-family='"Liberation Serif","DejaVu Serif",serif' font-size="11.4" font-weight="bold" text-anchor="end" fill="#000" stroke="#000" stroke-width="0.25">0</text>
<line x1="41.4" y1="673.72" x2="44" y2="673.72" stroke="#000" stroke-width="1.2"/>
<line x1="39.8" y1="640.43" x2="44" y2="640.43" stroke="#000" stroke-width="1.3"/>
<text x="34.1" y="644.02" font-family='"Liberation Serif","DejaVu Serif",serif' font-size="11.4" font-weight="bold" text-anchor="end" fill="#000" stroke="#000" stroke-width="0.25">25</text>
<line x1="41.4" y1="607.15" x2="44" y2="607.15" stroke="#000" stroke-width="1.2"/>
<line x1="39.8" y1="573.87" x2="44" y2="573.87" stroke="#000" stroke-width="1.3"/>
<text x="34.1" y="577.45" font-family='"Liberation Serif","DejaVu Serif",serif' font-size="11.4" font-weight="bold" text-anchor="end" fill="#000" stroke="#000" stroke-width="0.25">50</text>
<line x1="41.4" y1="540.58" x2="44" y2="540.58" stroke="#000" stroke-width="1.2"/>
<line x1="39.8" y1="507.3" x2="44" y2="507.3" stroke="#000" stroke-width="1.3"/>
<text x="34.1" y="509.69" font-family='"Liberation Serif","DejaVu Serif",serif' font-size="11.4" font-weight="bold" text-anchor="end" fill="#000" stroke="#000" stroke-width="0.25">75</text>
<line x1="100.4" y1="707" x2="100.4" y2="710.4" stroke="#000" stroke-width="1.3"/>
<line x1="61.6" y1="533.4" x2="61.6" y2="558.6" stroke="#000" stroke-width="1.3"/>
<line x1="59" y1="533.4" x2="64.2" y2="533.4" stroke="#000" stroke-width="1.3"/>
<rect x="51.8" y="557.2" width="21.2" height="149.8" fill="#000"/>
<line x1="82" y1="558" x2="82" y2="580.6" stroke="#000" stroke-width="1.3"/>
<line x1="79.4" y1="558" x2="84.6" y2="558" stroke="#000" stroke-width="1.3"/>
<rect x="72.6" y="579.6" width="19.8" height="127.4" fill="url(#hc)" stroke="#000" stroke-width="1.2"/>
<line x1="117.8" y1="515" x2="117.8" y2="545.2" stroke="#000" stroke-width="1.3"/>
<line x1="115.2" y1="515" x2="120.4" y2="515" stroke="#000" stroke-width="1.3"/>
<rect x="107.6" y="543.8" width="21" height="163.2" fill="#000"/>
<line x1="137.6" y1="530.8" x2="137.6" y2="555.6" stroke="#000" stroke-width="1.3"/>
<line x1="135" y1="530.8" x2="140.2" y2="530.8" stroke="#000" stroke-width="1.3"/>
<rect x="128.2" y="554.6" width="19.4" height="152.4" fill="url(#hc)" stroke="#000" stroke-width="1.2"/>
<text x="83.8" y="519.7" font-family='"Liberation Serif","DejaVu Serif",serif' font-size="12.4" font-weight="bold" text-anchor="start" fill="#000">IFN&#947;</text>
<text x="58.2" y="719.2" font-family='"Liberation Serif","DejaVu Serif",serif' font-size="11.9" font-weight="bold" text-anchor="start" fill="#000">spleen</text>
<text x="117" y="719.2" font-family='"Liberation Serif","DejaVu Serif",serif' font-size="11.9" font-weight="bold" text-anchor="start" fill="#000">liver</text>
<line x1="183.4" y1="507.2" x2="300.3" y2="507.2" stroke="#000" stroke-width="1.3"/>
<line x1="299.8" y1="507.2" x2="299.8" y2="710.4" stroke="#000" stroke-width="1.3"/>
<line x1="183.6" y1="507.2" x2="183.6" y2="710.4" stroke="#000" stroke-width="1.5"/>
<line x1="179.4" y1="707" x2="299.8" y2="707" stroke="#000" stroke-width="1.5"/>
<line x1="179.4" y1="707" x2="183.6" y2="707" stroke="#000" stroke-width="1.3"/>
<text x="175.2" y="710.59" font-family='"Liberation Serif","DejaVu Serif",serif' font-size="11.4" font-weight="bold" text-anchor="end" fill="#000" stroke="#000" stroke-width="0.25">0</text>
<line x1="181" y1="687.02" x2="183.6" y2="687.02" stroke="#000" stroke-width="1.2"/>
<line x1="179.4" y1="667.04" x2="183.6" y2="667.04" stroke="#000" stroke-width="1.3"/>
<text x="175.2" y="670.63" font-family='"Liberation Serif","DejaVu Serif",serif' font-size="11.4" font-weight="bold" text-anchor="end" fill="#000" stroke="#000" stroke-width="0.25">5</text>
<line x1="181" y1="647.06" x2="183.6" y2="647.06" stroke="#000" stroke-width="1.2"/>
<line x1="179.4" y1="627.08" x2="183.6" y2="627.08" stroke="#000" stroke-width="1.3"/>
<text x="175.2" y="630.67" font-family='"Liberation Serif","DejaVu Serif",serif' font-size="11.4" font-weight="bold" text-anchor="end" fill="#000" stroke="#000" stroke-width="0.25">10</text>
<line x1="181" y1="607.1" x2="183.6" y2="607.1" stroke="#000" stroke-width="1.2"/>
<line x1="179.4" y1="587.12" x2="183.6" y2="587.12" stroke="#000" stroke-width="1.3"/>
<text x="175.2" y="590.71" font-family='"Liberation Serif","DejaVu Serif",serif' font-size="11.4" font-weight="bold" text-anchor="end" fill="#000" stroke="#000" stroke-width="0.25">15</text>
<line x1="181" y1="567.14" x2="183.6" y2="567.14" stroke="#000" stroke-width="1.2"/>
<line x1="179.4" y1="547.16" x2="183.6" y2="547.16" stroke="#000" stroke-width="1.3"/>
<text x="175.2" y="550.75" font-family='"Liberation Serif","DejaVu Serif",serif' font-size="11.4" font-weight="bold" text-anchor="end" fill="#000" stroke="#000" stroke-width="0.25">20</text>
<line x1="181" y1="527.18" x2="183.6" y2="527.18" stroke="#000" stroke-width="1.2"/>
<line x1="179.4" y1="507.2" x2="183.6" y2="507.2" stroke="#000" stroke-width="1.3"/>
<text x="175.2" y="509.59" font-family='"Liberation Serif","DejaVu Serif",serif' font-size="11.4" font-weight="bold" text-anchor="end" fill="#000" stroke="#000" stroke-width="0.25">25</text>
<line x1="238.2" y1="707" x2="238.2" y2="710.4" stroke="#000" stroke-width="1.3"/>
<line x1="202" y1="542" x2="202" y2="603.2" stroke="#000" stroke-width="1.3"/>
<line x1="199.4" y1="542" x2="204.6" y2="542" stroke="#000" stroke-width="1.3"/>
<rect x="191.4" y="601.8" width="21" height="105.2" fill="#000"/>
<line x1="221.2" y1="579.4" x2="221.2" y2="612.8" stroke="#000" stroke-width="1.3"/>
<line x1="218.6" y1="579.4" x2="223.8" y2="579.4" stroke="#000" stroke-width="1.3"/>
<rect x="212" y="611.8" width="19.4" height="95.2" fill="url(#hc)" stroke="#000" stroke-width="1.2"/>
<line x1="256.6" y1="665.6" x2="256.6" y2="679.4" stroke="#000" stroke-width="1.3"/>
<line x1="254" y1="665.6" x2="259.2" y2="665.6" stroke="#000" stroke-width="1.3"/>
<rect x="246.4" y="678" width="21.2" height="29" fill="#000"/>
<line x1="276.6" y1="652.4" x2="276.6" y2="670.8" stroke="#000" stroke-width="1.3"/>
<line x1="274" y1="652.4" x2="279.2" y2="652.4" stroke="#000" stroke-width="1.3"/>
<rect x="267.2" y="669.8" width="20.2" height="37.2" fill="url(#hc)" stroke="#000" stroke-width="1.2"/>
<text x="232.2" y="519.6" font-family='"Liberation Serif","DejaVu Serif",serif' font-size="12.4" font-weight="bold" text-anchor="start" fill="#000">IL2</text>
<text x="198.2" y="718.5" font-family='"Liberation Serif","DejaVu Serif",serif' font-size="11.9" font-weight="bold" text-anchor="start" fill="#000">spleen</text>
<text x="257" y="718.5" font-family='"Liberation Serif","DejaVu Serif",serif' font-size="11.9" font-weight="bold" text-anchor="start" fill="#000">liver</text>
<line x1="319.2" y1="506.3" x2="443.5" y2="506.3" stroke="#000" stroke-width="1.3"/>
<line x1="443" y1="506.3" x2="443" y2="709.7" stroke="#000" stroke-width="1.3"/>
<line x1="319.4" y1="506.3" x2="319.4" y2="709.7" stroke="#000" stroke-width="1.5"/>
<line x1="315.2" y1="706.3" x2="443" y2="706.3" stroke="#000" stroke-width="1.5"/>
<line x1="315.2" y1="706.3" x2="319.4" y2="706.3" stroke="#000" stroke-width="1.3"/>
<text x="312.2" y="710.2" font-family='"Liberation Serif","DejaVu Serif",serif' font-size="12.4" font-weight="bold" text-anchor="end" fill="#000" stroke="#000" stroke-width="0.25">0</text>
<line x1="316.8" y1="672.97" x2="319.4" y2="672.97" stroke="#000" stroke-width="1.2"/>
<line x1="315.2" y1="639.63" x2="319.4" y2="639.63" stroke="#000" stroke-width="1.3"/>
<text x="312.2" y="643.53" font-family='"Liberation Serif","DejaVu Serif",serif' font-size="12.4" font-weight="bold" text-anchor="end" fill="#000" stroke="#000" stroke-width="0.25">2</text>
<line x1="316.8" y1="606.3" x2="319.4" y2="606.3" stroke="#000" stroke-width="1.2"/>
<line x1="315.2" y1="572.97" x2="319.4" y2="572.97" stroke="#000" stroke-width="1.3"/>
<text x="312.2" y="576.87" font-family='"Liberation Serif","DejaVu Serif",serif' font-size="12.4" font-weight="bold" text-anchor="end" fill="#000" stroke="#000" stroke-width="0.25">4</text>
<line x1="316.8" y1="539.63" x2="319.4" y2="539.63" stroke="#000" stroke-width="1.2"/>
<line x1="315.2" y1="506.3" x2="319.4" y2="506.3" stroke="#000" stroke-width="1.3"/>
<text x="312.2" y="508.9" font-family='"Liberation Serif","DejaVu Serif",serif' font-size="12.4" font-weight="bold" text-anchor="end" fill="#000" stroke="#000" stroke-width="0.25">6</text>
<line x1="379.3" y1="706.3" x2="379.3" y2="709.7" stroke="#000" stroke-width="1.3"/>
<line x1="338.3" y1="555.2" x2="338.3" y2="632.6" stroke="#000" stroke-width="1.3"/>
<line x1="335.7" y1="555.2" x2="340.9" y2="555.2" stroke="#000" stroke-width="1.3"/>
<rect x="327.4" y="631.2" width="21.4" height="75.1" fill="#000"/>
<line x1="359" y1="518" x2="359" y2="585.2" stroke="#000" stroke-width="1.3"/>
<line x1="356.4" y1="518" x2="361.6" y2="518" stroke="#000" stroke-width="1.3"/>
<rect x="348.4" y="584.2" width="21.4" height="122.1" fill="url(#hc)" stroke="#000" stroke-width="1.2"/>
<line x1="398.8" y1="640" x2="398.8" y2="674.2" stroke="#000" stroke-width="1.3"/>
<line x1="396.2" y1="640" x2="401.4" y2="640" stroke="#000" stroke-width="1.3"/>
<rect x="388.2" y="672.8" width="21.6" height="33.5" fill="#000"/>
<line x1="418.8" y1="689.2" x2="418.8" y2="695.4" stroke="#000" stroke-width="1.3"/>
<line x1="416.2" y1="689.2" x2="421.4" y2="689.2" stroke="#000" stroke-width="1.3"/>
<rect x="409.4" y="694.4" width="20.2" height="11.9" fill="url(#hc)" stroke="#000" stroke-width="1.2"/>
<text x="418.4" y="688.3" font-family='"Liberation Serif","DejaVu Serif",serif' font-size="16.5" font-weight="bold" text-anchor="middle" fill="#000">*</text>
<text x="378" y="518.7" font-family='"Liberation Serif","DejaVu Serif",serif' font-size="12.4" font-weight="bold" text-anchor="start" fill="#000">IL4</text>
<text x="335.3" y="718.7" font-family='"Liberation Serif","DejaVu Serif",serif' font-size="11.9" font-weight="bold" text-anchor="start" fill="#000">spleen</text>
<text x="397" y="718.7" font-family='"Liberation Serif","DejaVu Serif",serif' font-size="11.9" font-weight="bold" text-anchor="start" fill="#000">liver</text>
<text transform="translate(19.6 409.4) rotate(-90)" font-family='"Liberation Serif","DejaVu Serif",serif' font-size="12" font-weight="bold">positive%</text>
<text transform="translate(19.6 636) rotate(-90)" font-family='"Liberation Serif","DejaVu Serif",serif' font-size="12" font-weight="bold">positive%</text>
</svg>
</body></html>
